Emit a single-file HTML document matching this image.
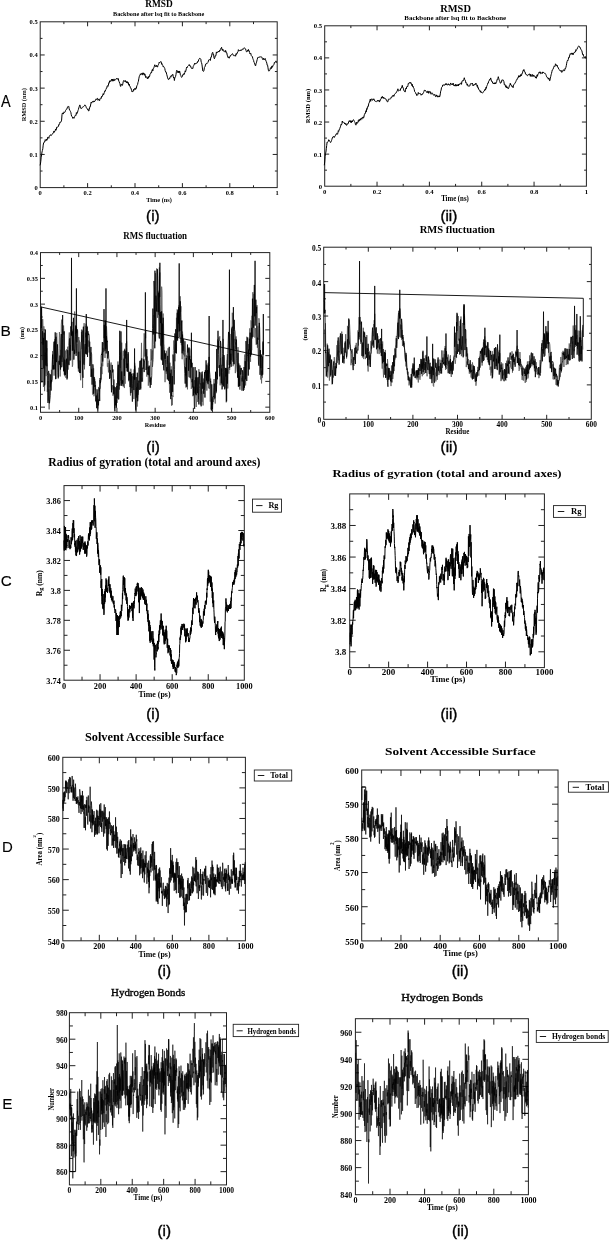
<!DOCTYPE html>
<html><head><meta charset="utf-8"><style>
html,body{margin:0;padding:0;background:#fff;}
body{width:609px;height:1240px;overflow:hidden;}
svg{display:block;filter:grayscale(100%) blur(0.35px);}
</style></head><body>
<svg width="609" height="1240" viewBox="0 0 609 1240">
<rect width="609" height="1240" fill="#fff"/>
<rect x="40.20" y="21.80" width="237.00" height="165.80" fill="none" stroke="#222" stroke-width="1.0"/>
<path d="M87.60 187.60v-4.5M87.60 21.80v4.5M135.00 187.60v-4.5M135.00 21.80v4.5M182.40 187.60v-4.5M182.40 21.80v4.5M229.80 187.60v-4.5M229.80 21.80v4.5M63.90 187.60v-2.3M63.90 21.80v2.3M111.30 187.60v-2.3M111.30 21.80v2.3M158.70 187.60v-2.3M158.70 21.80v2.3M206.10 187.60v-2.3M206.10 21.80v2.3M253.50 187.60v-2.3M253.50 21.80v2.3M40.20 154.44h4.5M277.20 154.44h-4.5M40.20 121.28h4.5M277.20 121.28h-4.5M40.20 88.12h4.5M277.20 88.12h-4.5M40.20 54.96h4.5M277.20 54.96h-4.5M40.20 171.02h2.3M277.20 171.02h-2.3M40.20 137.86h2.3M277.20 137.86h-2.3M40.20 104.70h2.3M277.20 104.70h-2.3M40.20 71.54h2.3M277.20 71.54h-2.3M40.20 38.38h2.3M277.20 38.38h-2.3" stroke="#222" stroke-width="1.0" fill="none"/>
<text x="40.20" y="195.10" font-family='"Liberation Serif", serif' font-size="6.5" font-weight="bold" text-anchor="middle" fill="#000" >0</text>
<text x="87.60" y="195.10" font-family='"Liberation Serif", serif' font-size="6.5" font-weight="bold" text-anchor="middle" fill="#000" >0.2</text>
<text x="135.00" y="195.10" font-family='"Liberation Serif", serif' font-size="6.5" font-weight="bold" text-anchor="middle" fill="#000" >0.4</text>
<text x="182.40" y="195.10" font-family='"Liberation Serif", serif' font-size="6.5" font-weight="bold" text-anchor="middle" fill="#000" >0.6</text>
<text x="229.80" y="195.10" font-family='"Liberation Serif", serif' font-size="6.5" font-weight="bold" text-anchor="middle" fill="#000" >0.8</text>
<text x="277.20" y="195.10" font-family='"Liberation Serif", serif' font-size="6.5" font-weight="bold" text-anchor="middle" fill="#000" >1</text>
<text x="37.70" y="190.11" font-family='"Liberation Serif", serif' font-size="6.5" font-weight="bold" text-anchor="end" fill="#000" >0</text>
<text x="37.70" y="156.95" font-family='"Liberation Serif", serif' font-size="6.5" font-weight="bold" text-anchor="end" fill="#000" >0.1</text>
<text x="37.70" y="123.79" font-family='"Liberation Serif", serif' font-size="6.5" font-weight="bold" text-anchor="end" fill="#000" >0.2</text>
<text x="37.70" y="90.63" font-family='"Liberation Serif", serif' font-size="6.5" font-weight="bold" text-anchor="end" fill="#000" >0.3</text>
<text x="37.70" y="57.47" font-family='"Liberation Serif", serif' font-size="6.5" font-weight="bold" text-anchor="end" fill="#000" >0.4</text>
<text x="37.70" y="24.31" font-family='"Liberation Serif", serif' font-size="6.5" font-weight="bold" text-anchor="end" fill="#000" >0.5</text>
<text x="159.05" y="7.30" font-family='"Liberation Serif", serif' font-size="10.2" font-weight="bold" text-anchor="middle" fill="#000"  textLength="27.5" lengthAdjust="spacingAndGlyphs">RMSD</text>
<text x="158.60" y="15.80" font-family='"Liberation Serif", serif' font-size="6.2" font-weight="bold" text-anchor="middle" fill="#000" >Backbone after lsq fit to Backbone</text>
<text x="159.00" y="201.60" font-family='"Liberation Serif", serif' font-size="7.0" font-weight="bold" text-anchor="middle" fill="#000"  textLength="25.6" lengthAdjust="spacingAndGlyphs">Time (ns)</text>
<text x="0.00" y="0.00" font-family='"Liberation Serif", serif' font-size="6.3" font-weight="bold" text-anchor="middle" fill="#000" transform="translate(26.4,104.8) rotate(-90)">RMSD (nm)</text>
<text transform="translate(152.85,220.50) scale(1,0.95)" font-family='"Liberation Sans", sans-serif' font-size="15.2" text-anchor="middle" fill="#000" stroke="#000" stroke-width="0.4">(i)</text>
<text transform="translate(0.90,107.40) scale(1,1.1)" font-family='"Liberation Sans", sans-serif' font-size="14.5" text-anchor="start" fill="#000" stroke="#000" stroke-width="0.1">A</text>
<polyline points="40.00,165.32 40.40,164.21 40.80,161.19 41.20,157.15 41.60,154.91 42.00,151.98 42.40,150.46 42.80,148.79 43.20,145.13 43.60,142.97 44.00,142.91 44.40,141.54 44.80,141.93 45.20,139.71 45.60,140.37 46.00,140.63 46.40,139.05 46.80,140.37 47.20,139.86 47.60,137.37 48.00,136.96 48.40,137.80 48.80,138.35 49.20,136.61 49.60,135.82 50.00,135.91 50.40,134.77 50.80,135.03 51.20,135.35 51.60,135.29 52.00,134.46 52.40,133.85 52.80,133.23 53.20,133.20 53.60,132.20 54.00,130.95 54.40,132.31 54.80,131.04 55.20,130.64 55.60,128.95 56.00,130.28 56.40,129.36 56.80,126.99 57.20,126.90 57.60,127.23 58.00,126.61 58.40,126.43 58.80,124.47 59.20,124.73 59.60,123.63 60.00,122.03 60.40,122.11 60.80,122.22 61.20,121.53 61.60,120.11 62.00,114.71 62.40,113.01 62.80,113.14 63.20,114.09 63.60,112.80 64.00,111.85 64.40,112.38 64.80,112.37 65.20,111.77 65.60,110.36 66.00,109.82 66.40,109.29 66.80,109.25 67.20,107.94 67.60,106.94 68.00,106.48 68.40,105.98 68.80,106.63 69.20,108.82 69.60,110.11 70.00,110.40 70.40,111.34 70.80,112.24 71.20,114.31 71.60,116.26 72.00,116.55 72.40,116.80 72.80,118.36 73.20,117.36 73.60,117.63 74.00,118.29 74.40,116.99 74.80,116.30 75.20,115.37 75.60,115.32 76.00,115.58 76.40,112.57 76.80,113.72 77.20,112.98 77.60,112.00 78.00,110.52 78.40,109.54 78.80,107.71 79.20,106.67 79.60,105.21 80.00,104.89 80.40,107.99 80.80,108.41 81.20,108.27 81.60,108.54 82.00,108.04 82.40,107.28 82.80,106.80 83.20,106.81 83.60,106.56 84.00,106.08 84.40,105.72 84.80,104.85 85.20,105.49 85.60,105.53 86.00,106.66 86.40,107.83 86.80,108.29 87.20,108.90 87.60,109.56 88.00,108.83 88.40,110.85 88.80,111.06 89.20,109.70 89.60,107.94 90.00,106.33 90.40,106.51 90.80,103.70 91.20,102.12 91.60,103.17 92.00,102.31 92.40,101.46 92.80,101.49 93.20,102.19 93.60,101.14 94.00,101.20 94.40,101.95 94.80,100.98 95.20,100.32 95.60,100.34 96.00,98.91 96.40,99.43 96.80,99.17 97.20,98.38 97.60,98.33 98.00,100.36 98.40,99.56 98.80,98.97 99.20,100.05 99.60,100.69 100.00,98.92 100.40,98.34 100.80,97.85 101.20,98.43 101.60,96.28 102.00,96.79 102.40,96.03 102.80,95.04 103.20,93.60 103.60,94.74 104.00,93.65 104.40,92.31 104.80,90.94 105.20,91.26 105.60,89.87 106.00,89.52 106.40,88.12 106.80,88.08 107.20,85.92 107.60,85.71 108.00,86.37 108.40,85.15 108.80,82.79 109.20,83.11 109.60,80.79 110.00,81.97 110.40,81.38 110.80,80.48 111.20,79.96 111.60,79.26 112.00,81.23 112.40,79.10 112.80,80.85 113.20,81.08 113.60,80.00 114.00,78.91 114.40,80.45 114.80,80.57 115.20,79.79 115.60,79.19 116.00,78.74 116.40,78.63 116.80,78.29 117.20,79.42 117.60,78.84 118.00,78.27 118.40,78.88 118.80,81.32 119.20,81.54 119.60,83.12 120.00,83.81 120.40,86.22 120.80,86.45 121.20,84.18 121.60,84.47 122.00,84.62 122.40,85.42 122.80,83.93 123.20,81.86 123.60,80.56 124.00,80.67 124.40,81.01 124.80,81.50 125.20,80.36 125.60,81.92 126.00,81.72 126.40,81.50 126.80,82.97 127.20,81.50 127.60,83.21 128.00,82.20 128.40,82.94 128.80,85.25 129.20,84.11 129.60,85.96 130.00,86.11 130.40,87.76 130.80,87.87 131.20,89.05 131.60,90.19 132.00,91.76 132.40,90.97 132.80,91.65 133.20,91.33 133.60,89.36 134.00,90.20 134.40,88.85 134.80,88.29 135.20,87.98 135.60,89.48 136.00,88.89 136.40,88.19 136.80,85.82 137.20,85.28 137.60,84.48 138.00,82.31 138.40,81.33 138.80,78.82 139.20,76.80 139.60,75.56 140.00,75.38 140.40,73.79 140.80,74.74 141.20,73.70 141.60,73.35 142.00,74.65 142.40,74.79 142.80,72.83 143.20,74.41 143.60,73.02 144.00,73.08 144.40,75.26 144.80,73.90 145.20,75.04 145.60,77.50 146.00,76.81 146.40,76.74 146.80,77.54 147.20,78.38 147.60,78.99 148.00,76.85 148.40,78.19 148.80,76.31 149.20,77.13 149.60,76.38 150.00,74.31 150.40,73.61 150.80,73.54 151.20,72.04 151.60,72.56 152.00,70.30 152.40,69.43 152.80,70.96 153.20,68.51 153.60,68.43 154.00,67.28 154.40,66.15 154.80,64.75 155.20,65.99 155.60,66.53 156.00,66.93 156.40,65.27 156.80,65.92 157.20,66.98 157.60,67.03 158.00,65.16 158.40,64.69 158.80,63.80 159.20,62.20 159.60,62.80 160.00,62.17 160.40,61.94 160.80,61.47 161.20,61.87 161.60,64.26 162.00,63.67 162.40,64.86 162.80,65.54 163.20,66.96 163.60,66.42 164.00,67.00 164.40,67.83 164.80,68.58 165.20,70.64 165.60,71.87 166.00,71.70 166.40,73.01 166.80,74.76 167.20,76.08 167.60,77.84 168.00,78.88 168.40,79.59 168.80,79.50 169.20,78.46 169.60,78.98 170.00,77.20 170.40,76.58 170.80,77.22 171.20,75.70 171.60,76.20 172.00,74.78 172.40,74.97 172.80,74.34 173.20,76.24 173.60,78.01 174.00,77.35 174.40,80.51 174.80,77.69 175.20,77.50 175.60,76.36 176.00,74.33 176.40,71.49 176.80,70.22 177.20,71.33 177.60,72.44 178.00,71.07 178.40,72.65 178.80,70.97 179.20,72.95 179.60,70.98 180.00,72.55 180.40,74.86 180.80,75.51 181.20,76.66 181.60,77.39 182.00,77.03 182.40,76.42 182.80,74.71 183.20,74.85 183.60,73.71 184.00,74.57 184.40,73.98 184.80,72.51 185.20,70.81 185.60,71.73 186.00,70.12 186.40,68.26 186.80,67.00 187.20,67.54 187.60,66.38 188.00,66.03 188.40,65.69 188.80,65.29 189.20,64.52 189.60,65.81 190.00,65.34 190.40,66.64 190.80,66.36 191.20,68.01 191.60,68.43 192.00,68.86 192.40,68.21 192.80,68.60 193.20,66.60 193.60,65.63 194.00,65.17 194.40,63.96 194.80,63.11 195.20,64.06 195.60,63.69 196.00,63.75 196.40,62.94 196.80,63.23 197.20,63.04 197.60,61.55 198.00,61.86 198.40,61.02 198.80,59.44 199.20,58.92 199.60,58.30 200.00,58.16 200.40,58.73 200.80,59.24 201.20,62.18 201.60,62.79 202.00,64.90 202.40,68.01 202.80,70.95 203.20,71.28 203.60,71.37 204.00,70.28 204.40,67.53 204.80,67.08 205.20,66.08 205.60,64.20 206.00,64.46 206.40,64.01 206.80,63.14 207.20,63.24 207.60,62.81 208.00,62.43 208.40,60.97 208.80,59.82 209.20,59.80 209.60,59.52 210.00,60.17 210.40,60.42 210.80,57.28 211.20,57.34 211.60,55.98 212.00,53.64 212.40,52.60 212.80,52.31 213.20,54.89 213.60,54.45 214.00,57.93 214.40,58.73 214.80,57.74 215.20,55.71 215.60,56.10 216.00,55.05 216.40,51.91 216.80,52.75 217.20,52.69 217.60,52.03 218.00,51.91 218.40,51.08 218.80,52.01 219.20,51.91 219.60,50.27 220.00,50.87 220.40,49.50 220.80,48.38 221.20,48.28 221.60,47.32 222.00,49.58 222.40,50.37 222.80,49.02 223.20,50.84 223.60,51.05 224.00,50.68 224.40,51.11 224.80,51.00 225.20,52.20 225.60,50.41 226.00,51.31 226.40,52.83 226.80,52.74 227.20,55.11 227.60,55.98 228.00,57.44 228.40,56.85 228.80,57.95 229.20,58.25 229.60,56.87 230.00,56.88 230.40,55.34 230.80,55.65 231.20,55.17 231.60,54.48 232.00,54.14 232.40,53.60 232.80,53.96 233.20,55.33 233.60,55.62 234.00,55.64 234.40,55.68 234.80,55.94 235.20,55.36 235.60,56.24 236.00,53.78 236.40,54.49 236.80,53.21 237.20,53.42 237.60,52.13 238.00,51.84 238.40,49.67 238.80,50.59 239.20,50.82 239.60,50.24 240.00,50.75 240.40,50.45 240.80,50.92 241.20,49.70 241.60,50.31 242.00,49.88 242.40,49.08 242.80,48.85 243.20,49.32 243.60,48.63 244.00,47.72 244.40,47.96 244.80,48.16 245.20,48.58 245.60,48.94 246.00,50.44 246.40,51.74 246.80,52.02 247.20,51.49 247.60,50.33 248.00,51.07 248.40,49.41 248.80,51.10 249.20,50.88 249.60,52.49 250.00,53.87 250.40,53.03 250.80,53.51 251.20,55.39 251.60,56.01 252.00,56.53 252.40,56.62 252.80,58.48 253.20,59.50 253.60,60.39 254.00,62.42 254.40,62.69 254.80,63.99 255.20,65.32 255.60,65.90 256.00,63.76 256.40,62.85 256.80,61.08 257.20,59.58 257.60,58.01 258.00,57.16 258.40,57.37 258.80,57.06 259.20,57.47 259.60,56.78 260.00,56.61 260.40,56.68 260.80,57.23 261.20,57.18 261.60,57.01 262.00,57.25 262.40,58.75 262.80,59.60 263.20,58.95 263.60,58.16 264.00,59.94 264.40,59.25 264.80,59.35 265.20,58.49 265.60,59.75 266.00,61.12 266.40,61.80 266.80,63.10 267.20,65.28 267.60,65.21 268.00,67.84 268.40,70.35 268.80,71.19 269.20,70.42 269.60,70.52 270.00,69.73 270.40,68.19 270.80,67.59 271.20,68.72 271.60,66.82 272.00,65.93 272.40,67.32 272.80,66.17 273.20,65.21 273.60,64.79 274.00,64.58 274.40,62.46 274.80,62.87 275.20,62.26 275.60,61.74 276.00,60.87 276.40,62.51 276.80,62.43" fill="none" stroke="#000" stroke-width="1.0" stroke-linejoin="round" opacity="1.0"/>
<rect x="324.70" y="25.80" width="261.70" height="160.40" fill="none" stroke="#222" stroke-width="1.0"/>
<path d="M377.04 186.20v-4.5M377.04 25.80v4.5M429.38 186.20v-4.5M429.38 25.80v4.5M481.72 186.20v-4.5M481.72 25.80v4.5M534.06 186.20v-4.5M534.06 25.80v4.5M350.87 186.20v-2.3M350.87 25.80v2.3M403.21 186.20v-2.3M403.21 25.80v2.3M455.55 186.20v-2.3M455.55 25.80v2.3M507.89 186.20v-2.3M507.89 25.80v2.3M560.23 186.20v-2.3M560.23 25.80v2.3M324.70 154.12h4.5M586.40 154.12h-4.5M324.70 122.04h4.5M586.40 122.04h-4.5M324.70 89.96h4.5M586.40 89.96h-4.5M324.70 57.88h4.5M586.40 57.88h-4.5M324.70 170.16h2.3M586.40 170.16h-2.3M324.70 138.08h2.3M586.40 138.08h-2.3M324.70 106.00h2.3M586.40 106.00h-2.3M324.70 73.92h2.3M586.40 73.92h-2.3M324.70 41.84h2.3M586.40 41.84h-2.3" stroke="#222" stroke-width="1.0" fill="none"/>
<text x="324.70" y="193.70" font-family='"Liberation Serif", serif' font-size="6.7" font-weight="bold" text-anchor="middle" fill="#000" >0</text>
<text x="377.04" y="193.70" font-family='"Liberation Serif", serif' font-size="6.7" font-weight="bold" text-anchor="middle" fill="#000" >0.2</text>
<text x="429.38" y="193.70" font-family='"Liberation Serif", serif' font-size="6.7" font-weight="bold" text-anchor="middle" fill="#000" >0.4</text>
<text x="481.72" y="193.70" font-family='"Liberation Serif", serif' font-size="6.7" font-weight="bold" text-anchor="middle" fill="#000" >0.6</text>
<text x="534.06" y="193.70" font-family='"Liberation Serif", serif' font-size="6.7" font-weight="bold" text-anchor="middle" fill="#000" >0.8</text>
<text x="586.40" y="193.70" font-family='"Liberation Serif", serif' font-size="6.7" font-weight="bold" text-anchor="middle" fill="#000" >1</text>
<text x="322.20" y="188.78" font-family='"Liberation Serif", serif' font-size="6.7" font-weight="bold" text-anchor="end" fill="#000" >0</text>
<text x="322.20" y="156.70" font-family='"Liberation Serif", serif' font-size="6.7" font-weight="bold" text-anchor="end" fill="#000" >0.1</text>
<text x="322.20" y="124.62" font-family='"Liberation Serif", serif' font-size="6.7" font-weight="bold" text-anchor="end" fill="#000" >0.2</text>
<text x="322.20" y="92.54" font-family='"Liberation Serif", serif' font-size="6.7" font-weight="bold" text-anchor="end" fill="#000" >0.3</text>
<text x="322.20" y="60.46" font-family='"Liberation Serif", serif' font-size="6.7" font-weight="bold" text-anchor="end" fill="#000" >0.4</text>
<text x="322.20" y="28.38" font-family='"Liberation Serif", serif' font-size="6.7" font-weight="bold" text-anchor="end" fill="#000" >0.5</text>
<text x="455.60" y="11.60" font-family='"Liberation Serif", serif' font-size="9.6" font-weight="bold" text-anchor="middle" fill="#000"  textLength="30.6" lengthAdjust="spacingAndGlyphs">RMSD</text>
<text x="455.20" y="19.60" font-family='"Liberation Serif", serif' font-size="6.9" font-weight="bold" text-anchor="middle" fill="#000"  textLength="101.7" lengthAdjust="spacingAndGlyphs">Backbone after lsq fit to Backbone</text>
<text x="455.00" y="200.60" font-family='"Liberation Serif", serif' font-size="7.2" font-weight="bold" text-anchor="middle" fill="#000"  textLength="27.6" lengthAdjust="spacingAndGlyphs">Time (ns)</text>
<text x="0.00" y="0.00" font-family='"Liberation Serif", serif' font-size="6.6" font-weight="bold" text-anchor="middle" fill="#000" transform="translate(309.5,106) rotate(-90)">RMSD (nm)</text>
<text transform="translate(448.85,220.50) scale(1,0.95)" font-family='"Liberation Sans", sans-serif' font-size="15.2" text-anchor="middle" fill="#000" stroke="#000" stroke-width="0.4">(ii)</text>
<polyline points="324.30,165.29 324.70,162.00 325.10,156.59 325.50,153.42 325.90,152.10 326.30,148.74 326.70,145.45 327.10,142.11 327.50,142.32 327.90,141.81 328.30,141.23 328.70,139.71 329.10,140.39 329.50,140.51 329.90,141.51 330.30,142.37 330.70,142.47 331.10,141.71 331.50,140.63 331.90,139.37 332.30,137.98 332.70,137.12 333.10,137.33 333.50,136.47 333.90,136.43 334.30,137.46 334.70,136.39 335.10,136.28 335.50,135.31 335.90,134.31 336.30,134.45 336.70,133.40 337.10,133.71 337.50,134.29 337.90,132.92 338.30,130.70 338.70,131.37 339.10,130.10 339.50,128.92 339.90,128.29 340.30,126.98 340.70,126.14 341.10,124.19 341.50,124.79 341.90,123.84 342.30,121.01 342.70,122.39 343.10,122.54 343.50,122.18 343.90,122.59 344.30,122.73 344.70,124.02 345.10,123.29 345.50,124.38 345.90,123.52 346.30,125.08 346.70,125.41 347.10,124.21 347.50,123.88 347.90,124.13 348.30,123.07 348.70,121.91 349.10,120.68 349.50,120.83 349.90,121.80 350.30,120.59 350.70,122.44 351.10,120.97 351.50,122.59 351.90,120.74 352.30,121.90 352.70,120.89 353.10,120.01 353.50,119.64 353.90,120.34 354.30,121.34 354.70,121.84 355.10,122.74 355.50,124.63 355.90,125.16 356.30,123.92 356.70,122.12 357.10,123.43 357.50,122.71 357.90,122.66 358.30,120.46 358.70,121.47 359.10,119.51 359.50,120.61 359.90,119.38 360.30,118.96 360.70,120.20 361.10,118.03 361.50,118.71 361.90,119.19 362.30,117.40 362.70,116.99 363.10,118.27 363.50,116.84 363.90,117.22 364.30,114.59 364.70,114.39 365.10,112.94 365.50,113.15 365.90,110.74 366.30,111.84 366.70,108.62 367.10,109.32 367.50,106.63 367.90,106.20 368.30,106.55 368.70,103.81 369.10,102.54 369.50,102.43 369.90,100.36 370.30,99.14 370.70,101.34 371.10,99.24 371.50,98.89 371.90,99.55 372.30,100.12 372.70,100.34 373.10,98.80 373.50,99.47 373.90,98.87 374.30,100.00 374.70,100.89 375.10,100.96 375.50,101.47 375.90,101.25 376.30,101.64 376.70,101.33 377.10,100.82 377.50,100.27 377.90,101.36 378.30,100.58 378.70,100.12 379.10,100.99 379.50,102.06 379.90,100.11 380.30,100.43 380.70,99.18 381.10,98.69 381.50,97.02 381.90,98.19 382.30,96.33 382.70,97.58 383.10,97.55 383.50,97.01 383.90,98.72 384.30,98.14 384.70,98.15 385.10,98.30 385.50,98.82 385.90,98.88 386.30,100.38 386.70,100.29 387.10,101.64 387.50,101.74 387.90,101.79 388.30,99.56 388.70,99.67 389.10,98.80 389.50,99.22 389.90,98.90 390.30,99.03 390.70,98.55 391.10,97.20 391.50,97.34 391.90,97.33 392.30,95.82 392.70,95.64 393.10,96.28 393.50,95.26 393.90,96.31 394.30,94.74 394.70,93.98 395.10,93.76 395.50,93.46 395.90,92.73 396.30,92.68 396.70,91.76 397.10,90.61 397.50,90.62 397.90,88.81 398.30,90.67 398.70,90.99 399.10,90.62 399.50,90.11 399.90,90.48 400.30,90.59 400.70,88.50 401.10,88.56 401.50,88.00 401.90,86.36 402.30,85.33 402.70,87.56 403.10,87.48 403.50,88.82 403.90,90.76 404.30,90.99 404.70,91.19 405.10,92.08 405.50,89.83 405.90,88.20 406.30,89.01 406.70,86.83 407.10,86.53 407.50,86.99 407.90,85.77 408.30,83.38 408.70,83.61 409.10,82.69 409.50,82.81 409.90,82.33 410.30,83.44 410.70,82.39 411.10,83.09 411.50,83.49 411.90,85.63 412.30,84.35 412.70,86.76 413.10,86.19 413.50,87.88 413.90,88.35 414.30,89.76 414.70,91.69 415.10,92.07 415.50,92.65 415.90,93.88 416.30,93.90 416.70,95.49 417.10,94.73 417.50,95.23 417.90,94.33 418.30,92.47 418.70,93.73 419.10,93.76 419.50,93.53 419.90,93.37 420.30,93.42 420.70,94.04 421.10,95.24 421.50,94.35 421.90,94.77 422.30,93.87 422.70,94.23 423.10,93.09 423.50,92.62 423.90,91.60 424.30,90.21 424.70,90.18 425.10,90.93 425.50,90.51 425.90,91.04 426.30,91.77 426.70,92.48 427.10,91.81 427.50,92.50 427.90,90.91 428.30,91.67 428.70,93.35 429.10,91.45 429.50,92.24 429.90,91.54 430.30,91.73 430.70,93.81 431.10,94.27 431.50,93.71 431.90,92.72 432.30,93.38 432.70,93.49 433.10,94.80 433.50,95.08 433.90,94.76 434.30,95.19 434.70,94.35 435.10,95.52 435.50,96.64 435.90,96.31 436.30,94.87 436.70,96.02 437.10,96.64 437.50,95.68 437.90,97.18 438.30,96.05 438.70,96.54 439.10,95.73 439.50,97.06 439.90,96.06 440.30,93.87 440.70,91.15 441.10,90.18 441.50,87.50 441.90,87.17 442.30,86.88 442.70,84.93 443.10,85.45 443.50,85.11 443.90,84.65 444.30,85.12 444.70,85.39 445.10,84.56 445.50,83.73 445.90,84.99 446.30,83.56 446.70,84.64 447.10,84.51 447.50,84.84 447.90,85.14 448.30,83.72 448.70,84.75 449.10,84.23 449.50,84.78 449.90,85.44 450.30,84.54 450.70,82.96 451.10,83.96 451.50,84.47 451.90,84.80 452.30,84.16 452.70,84.75 453.10,83.02 453.50,85.43 453.90,85.10 454.30,85.00 454.70,85.90 455.10,86.04 455.50,84.35 455.90,86.15 456.30,86.02 456.70,84.64 457.10,85.93 457.50,85.54 457.90,84.57 458.30,86.03 458.70,84.17 459.10,85.05 459.50,84.37 459.90,83.67 460.30,84.16 460.70,83.67 461.10,82.78 461.50,84.35 461.90,81.67 462.30,80.68 462.70,81.03 463.10,81.06 463.50,79.81 463.90,79.23 464.30,77.76 464.70,79.53 465.10,80.03 465.50,81.17 465.90,83.05 466.30,82.74 466.70,83.22 467.10,85.19 467.50,84.16 467.90,85.89 468.30,86.33 468.70,85.77 469.10,86.10 469.50,86.06 469.90,85.92 470.30,83.85 470.70,83.60 471.10,83.81 471.50,83.69 471.90,83.43 472.30,83.03 472.70,84.64 473.10,85.91 473.50,84.76 473.90,85.30 474.30,84.54 474.70,84.30 475.10,84.95 475.50,83.21 475.90,83.65 476.30,83.52 476.70,84.58 477.10,86.41 477.50,85.33 477.90,88.05 478.30,87.73 478.70,89.16 479.10,90.12 479.50,90.39 479.90,90.37 480.30,92.05 480.70,90.86 481.10,92.77 481.50,92.26 481.90,92.48 482.30,93.15 482.70,92.91 483.10,92.40 483.50,91.52 483.90,91.09 484.30,90.96 484.70,89.74 485.10,89.18 485.50,90.14 485.90,87.44 486.30,88.30 486.70,86.36 487.10,85.44 487.50,84.44 487.90,82.97 488.30,83.00 488.70,81.28 489.10,80.92 489.50,79.55 489.90,79.97 490.30,79.02 490.70,77.92 491.10,79.53 491.50,81.35 491.90,81.03 492.30,81.61 492.70,83.07 493.10,82.88 493.50,83.98 493.90,83.18 494.30,83.06 494.70,84.04 495.10,82.62 495.50,83.93 495.90,83.44 496.30,81.95 496.70,81.74 497.10,79.37 497.50,79.44 497.90,78.34 498.30,76.69 498.70,78.27 499.10,80.01 499.50,80.65 499.90,81.79 500.30,83.20 500.70,83.21 501.10,82.20 501.50,82.17 501.90,79.95 502.30,80.17 502.70,79.71 503.10,80.00 503.50,81.08 503.90,81.57 504.30,84.47 504.70,84.04 505.10,85.11 505.50,86.65 505.90,85.49 506.30,87.89 506.70,86.43 507.10,86.73 507.50,88.04 507.90,88.27 508.30,88.82 508.70,87.95 509.10,86.88 509.50,85.31 509.90,84.78 510.30,83.26 510.70,85.02 511.10,84.64 511.50,85.08 511.90,86.62 512.30,86.14 512.70,86.90 513.10,87.71 513.50,85.06 513.90,84.52 514.30,84.02 514.70,83.48 515.10,83.23 515.50,82.09 515.90,81.48 516.30,80.42 516.70,79.58 517.10,79.64 517.50,78.16 517.90,77.42 518.30,77.68 518.70,75.71 519.10,75.65 519.50,77.08 519.90,75.80 520.30,76.37 520.70,74.55 521.10,75.22 521.50,75.73 521.90,73.49 522.30,73.51 522.70,72.11 523.10,70.57 523.50,71.00 523.90,69.49 524.30,70.57 524.70,71.81 525.10,71.98 525.50,74.12 525.90,74.43 526.30,74.49 526.70,74.46 527.10,75.61 527.50,75.70 527.90,75.43 528.30,74.59 528.70,74.56 529.10,74.92 529.50,73.85 529.90,74.07 530.30,76.27 530.70,74.26 531.10,76.28 531.50,75.73 531.90,76.37 532.30,74.43 532.70,75.10 533.10,76.56 533.50,74.95 533.90,75.46 534.30,76.33 534.70,76.18 535.10,76.39 535.50,77.93 535.90,76.82 536.30,78.31 536.70,76.92 537.10,74.86 537.50,76.28 537.90,74.09 538.30,74.05 538.70,73.61 539.10,71.99 539.50,72.71 539.90,71.64 540.30,71.98 540.70,73.70 541.10,73.47 541.50,72.75 541.90,73.14 542.30,73.60 542.70,71.90 543.10,73.01 543.50,72.42 543.90,72.65 544.30,72.89 544.70,73.41 545.10,73.29 545.50,73.95 545.90,74.61 546.30,75.74 546.70,76.86 547.10,77.52 547.50,77.62 547.90,77.67 548.30,79.20 548.70,77.94 549.10,78.35 549.50,80.61 549.90,80.71 550.30,78.00 550.70,76.69 551.10,74.79 551.50,73.40 551.90,71.69 552.30,69.91 552.70,69.69 553.10,69.08 553.50,67.83 553.90,66.97 554.30,65.87 554.70,66.38 555.10,66.26 555.50,63.80 555.90,64.29 556.30,65.08 556.70,65.78 557.10,65.07 557.50,67.12 557.90,67.08 558.30,67.67 558.70,69.01 559.10,69.58 559.50,69.94 559.90,70.64 560.30,70.95 560.70,70.82 561.10,70.21 561.50,72.22 561.90,72.19 562.30,72.08 562.70,71.36 563.10,69.87 563.50,70.11 563.90,69.75 564.30,70.87 564.70,70.51 565.10,68.22 565.50,68.64 565.90,67.27 566.30,65.65 566.70,63.18 567.10,61.45 567.50,60.23 567.90,60.69 568.30,59.37 568.70,57.34 569.10,57.82 569.50,56.00 569.90,54.61 570.30,53.60 570.70,54.33 571.10,53.69 571.50,54.18 571.90,52.89 572.30,54.29 572.70,53.25 573.10,54.79 573.50,53.11 573.90,52.95 574.30,52.84 574.70,51.89 575.10,51.61 575.50,51.97 575.90,49.63 576.30,50.39 576.70,49.60 577.10,49.21 577.50,47.80 577.90,47.20 578.30,46.34 578.70,46.04 579.10,46.08 579.50,46.51 579.90,47.76 580.30,47.66 580.70,48.90 581.10,49.83 581.50,50.21 581.90,50.89 582.30,52.95 582.70,54.58 583.10,54.06 583.50,56.02 583.90,56.61 584.30,57.45 584.70,57.26 585.10,56.66 585.50,56.72 585.90,58.53" fill="none" stroke="#000" stroke-width="1.0" stroke-linejoin="round" opacity="1.0"/>
<rect x="40.50" y="252.60" width="229.30" height="159.70" fill="none" stroke="#222" stroke-width="1.0"/>
<path d="M78.72 412.30v-4.5M78.72 252.60v4.5M116.93 412.30v-4.5M116.93 252.60v4.5M155.15 412.30v-4.5M155.15 252.60v4.5M193.37 412.30v-4.5M193.37 252.60v4.5M231.58 412.30v-4.5M231.58 252.60v4.5M59.61 412.30v-2.3M59.61 252.60v2.3M97.83 412.30v-2.3M97.83 252.60v2.3M136.04 412.30v-2.3M136.04 252.60v2.3M174.26 412.30v-2.3M174.26 252.60v2.3M212.48 412.30v-2.3M212.48 252.60v2.3M250.69 412.30v-2.3M250.69 252.60v2.3M40.50 407.15h4.5M269.80 407.15h-4.5M40.50 381.39h4.5M269.80 381.39h-4.5M40.50 355.63h4.5M269.80 355.63h-4.5M40.50 329.87h4.5M269.80 329.87h-4.5M40.50 304.12h4.5M269.80 304.12h-4.5M40.50 278.36h4.5M269.80 278.36h-4.5M40.50 394.27h2.3M269.80 394.27h-2.3M40.50 368.51h2.3M269.80 368.51h-2.3M40.50 342.75h2.3M269.80 342.75h-2.3M40.50 317.00h2.3M269.80 317.00h-2.3M40.50 291.24h2.3M269.80 291.24h-2.3M40.50 265.48h2.3M269.80 265.48h-2.3" stroke="#222" stroke-width="1.0" fill="none"/>
<text x="40.50" y="419.80" font-family='"Liberation Serif", serif' font-size="6.4" font-weight="bold" text-anchor="middle" fill="#000" >0</text>
<text x="78.72" y="419.80" font-family='"Liberation Serif", serif' font-size="6.4" font-weight="bold" text-anchor="middle" fill="#000" >100</text>
<text x="116.93" y="419.80" font-family='"Liberation Serif", serif' font-size="6.4" font-weight="bold" text-anchor="middle" fill="#000" >200</text>
<text x="155.15" y="419.80" font-family='"Liberation Serif", serif' font-size="6.4" font-weight="bold" text-anchor="middle" fill="#000" >300</text>
<text x="193.37" y="419.80" font-family='"Liberation Serif", serif' font-size="6.4" font-weight="bold" text-anchor="middle" fill="#000" >400</text>
<text x="231.58" y="419.80" font-family='"Liberation Serif", serif' font-size="6.4" font-weight="bold" text-anchor="middle" fill="#000" >500</text>
<text x="269.80" y="419.80" font-family='"Liberation Serif", serif' font-size="6.4" font-weight="bold" text-anchor="middle" fill="#000" >600</text>
<text x="38.00" y="409.62" font-family='"Liberation Serif", serif' font-size="6.4" font-weight="bold" text-anchor="end" fill="#000" >0.1</text>
<text x="38.00" y="383.87" font-family='"Liberation Serif", serif' font-size="6.4" font-weight="bold" text-anchor="end" fill="#000" >0.15</text>
<text x="38.00" y="358.11" font-family='"Liberation Serif", serif' font-size="6.4" font-weight="bold" text-anchor="end" fill="#000" >0.2</text>
<text x="38.00" y="332.35" font-family='"Liberation Serif", serif' font-size="6.4" font-weight="bold" text-anchor="end" fill="#000" >0.25</text>
<text x="38.00" y="306.59" font-family='"Liberation Serif", serif' font-size="6.4" font-weight="bold" text-anchor="end" fill="#000" >0.3</text>
<text x="38.00" y="280.83" font-family='"Liberation Serif", serif' font-size="6.4" font-weight="bold" text-anchor="end" fill="#000" >0.35</text>
<text x="38.00" y="255.08" font-family='"Liberation Serif", serif' font-size="6.4" font-weight="bold" text-anchor="end" fill="#000" >0.4</text>
<text x="155.20" y="238.90" font-family='"Liberation Serif", serif' font-size="9.5" font-weight="bold" text-anchor="middle" fill="#000"  textLength="63.8" lengthAdjust="spacingAndGlyphs">RMS fluctuation</text>
<text x="155.25" y="426.70" font-family='"Liberation Serif", serif' font-size="7.0" font-weight="bold" text-anchor="middle" fill="#000"  textLength="20.9" lengthAdjust="spacingAndGlyphs">Residue</text>
<text x="0.00" y="0.00" font-family='"Liberation Serif", serif' font-size="6.0" font-weight="bold" text-anchor="middle" fill="#000" transform="translate(23.5,333.1) rotate(-90)">(nm)</text>
<text transform="translate(153.10,451.60) scale(1,0.95)" font-family='"Liberation Sans", sans-serif' font-size="15.2" text-anchor="middle" fill="#000" stroke="#000" stroke-width="0.4">(i)</text>
<text transform="translate(0.40,336.00) scale(1,0.95)" font-family='"Liberation Sans", sans-serif' font-size="15.5" text-anchor="start" fill="#000" stroke="#000" stroke-width="0.1">B</text>
<polyline points="41.55,305.72 41.93,351.11 42.31,360.08 42.69,319.10 43.07,329.19 43.45,386.99 43.83,326.27 44.21,331.87 44.59,391.15 44.97,369.12 45.35,352.56 45.73,363.62 46.11,376.13 46.49,353.41 46.87,348.21 47.25,391.88 47.63,387.34 48.01,381.01 48.39,400.74 48.77,388.97 49.15,409.40 49.53,373.56 49.91,387.27 50.29,384.28 50.67,380.64 51.05,383.27 51.43,369.80 51.81,380.36 52.19,378.39 52.57,351.03 52.95,358.93 53.33,351.03 53.71,341.75 54.09,375.62 54.47,354.22 54.85,339.11 55.23,365.57 55.61,338.70 55.99,378.88 56.37,341.37 56.75,332.89 57.13,343.32 57.51,352.06 57.89,358.26 58.27,378.61 58.65,367.14 59.03,348.60 59.41,332.02 59.79,337.87 60.17,376.47 60.55,349.92 60.93,359.06 61.31,324.37 61.69,319.60 62.07,361.96 62.45,345.08 62.83,329.23 63.21,333.94 63.59,325.50 63.97,334.62 64.35,331.55 64.73,376.23 65.11,361.85 65.49,350.57 65.87,377.85 66.25,354.60 66.63,349.36 67.01,368.95 67.39,378.10 67.77,346.70 68.15,369.62 68.53,345.36 68.91,338.56 69.29,332.45 69.67,339.56 70.05,355.21 70.43,345.00 70.81,360.16 71.19,329.96 71.57,333.29 71.95,329.60 72.33,366.74 72.71,364.89 73.09,331.64 73.47,336.34 73.85,328.63 74.23,353.72 74.61,311.54 74.99,315.00 75.37,333.83 75.75,326.89 76.13,353.15 76.51,348.63 76.89,343.54 77.27,350.96 77.65,355.03 78.03,361.84 78.41,371.59 78.79,337.02 79.17,361.26 79.55,340.53 79.93,356.47 80.31,374.47 80.69,380.28 81.07,373.52 81.45,331.91 81.83,349.07 82.21,334.84 82.59,387.95 82.97,331.15 83.35,336.39 83.73,342.13 84.11,323.15 84.49,369.34 84.87,354.02 85.25,325.93 85.63,344.27 86.01,323.67 86.39,348.84 86.77,332.49 87.15,325.88 87.53,329.89 87.91,344.54 88.29,346.69 88.67,340.51 89.05,352.49 89.43,346.30 89.81,341.73 90.19,350.09 90.57,355.90 90.95,376.95 91.33,352.51 91.71,354.47 92.09,374.86 92.47,393.19 92.85,394.68 93.23,389.95 93.61,368.37 93.99,396.26 94.37,393.45 94.75,378.75 95.13,390.17 95.51,381.40 95.89,401.76 96.27,401.14 96.65,404.53 97.03,404.91 97.41,393.68 97.79,408.53 98.17,394.12 98.55,386.94 98.93,391.01 99.31,391.18 99.69,380.15 100.07,388.75 100.45,385.55 100.83,366.93 101.21,379.53 101.59,363.47 101.97,374.16 102.35,351.84 102.73,366.29 103.11,347.79 103.49,350.02 103.87,351.99 104.25,343.06 104.63,329.14 105.01,357.95 105.39,321.59 105.77,334.57 106.15,347.58 106.53,326.37 106.91,334.88 107.29,366.39 107.67,366.84 108.05,363.06 108.43,372.42 108.81,369.50 109.19,360.73 109.57,370.94 109.95,364.57 110.33,378.24 110.71,368.86 111.09,362.49 111.47,389.74 111.85,385.18 112.23,389.65 112.61,385.27 112.99,395.80 113.37,386.61 113.75,393.26 114.13,379.57 114.51,398.11 114.89,408.20 115.27,403.84 115.65,405.63 116.03,395.71 116.41,405.61 116.79,383.10 117.17,402.94 117.55,380.43 117.93,361.47 118.31,384.24 118.69,370.39 119.07,365.25 119.45,389.56 119.83,340.93 120.21,368.10 120.59,352.50 120.97,359.32 121.35,359.90 121.73,342.65 122.11,365.10 122.49,384.08 122.87,354.28 123.25,350.76 123.63,356.63 124.01,370.53 124.39,388.05 124.77,348.72 125.15,383.73 125.53,362.90 125.91,343.34 126.29,352.79 126.67,341.36 127.05,364.97 127.43,360.88 127.81,354.06 128.19,356.00 128.57,381.23 128.95,380.22 129.33,371.65 129.71,373.39 130.09,386.17 130.47,395.53 130.85,368.78 131.23,373.34 131.61,381.71 131.99,388.15 132.37,376.72 132.75,376.18 133.13,379.57 133.51,384.39 133.89,399.04 134.27,392.93 134.65,362.81 135.03,365.73 135.41,387.23 135.79,407.71 136.17,409.79 136.55,387.16 136.93,406.72 137.31,406.38 137.69,383.27 138.07,394.96 138.45,377.90 138.83,367.74 139.21,382.36 139.59,360.98 139.97,381.16 140.35,385.11 140.73,387.94 141.11,363.03 141.49,342.88 141.87,381.59 142.25,377.85 142.63,381.38 143.01,358.51 143.39,361.20 143.77,343.98 144.15,333.31 144.53,337.71 144.91,356.59 145.29,337.15 145.67,355.92 146.05,352.56 146.43,355.23 146.81,376.66 147.19,356.46 147.57,368.76 147.95,360.82 148.33,385.67 148.71,373.71 149.09,370.26 149.47,366.25 149.85,382.26 150.23,377.05 150.61,361.33 150.99,348.94 151.37,357.42 151.75,360.28 152.13,350.36 152.51,366.91 152.89,362.73 153.27,359.55 153.65,344.72 154.03,315.04 154.41,317.12 154.79,305.56 155.17,304.11 155.55,273.26 155.93,333.89 156.31,286.79 156.69,268.40 157.07,300.92 157.45,317.78 157.83,295.07 158.21,290.77 158.59,314.61 158.97,278.36 159.35,267.46 159.73,315.91 160.11,313.88 160.49,345.44 160.87,312.00 161.25,346.44 161.63,286.67 162.01,292.21 162.39,342.27 162.77,319.03 163.15,313.52 163.53,323.41 163.91,343.93 164.29,346.56 164.67,363.05 165.05,382.17 165.43,362.40 165.81,359.93 166.19,373.76 166.57,350.77 166.95,363.87 167.33,360.13 167.71,361.42 168.09,348.22 168.47,368.64 168.85,372.67 169.23,379.99 169.61,392.70 169.99,362.67 170.37,382.72 170.75,374.73 171.13,366.29 171.51,405.58 171.89,398.17 172.27,405.16 172.65,395.27 173.03,397.04 173.41,350.39 173.79,340.49 174.17,346.49 174.55,353.02 174.93,361.29 175.31,345.14 175.69,343.73 176.07,350.18 176.45,317.81 176.83,339.16 177.21,309.31 177.59,313.78 177.97,331.70 178.35,328.38 178.73,313.13 179.11,305.05 179.49,331.48 179.87,304.02 180.25,296.29 180.63,311.88 181.01,306.31 181.39,345.19 181.77,320.22 182.15,359.26 182.53,331.57 182.91,339.22 183.29,354.57 183.67,346.31 184.05,351.57 184.43,341.42 184.81,356.58 185.19,341.28 185.57,352.57 185.95,387.55 186.33,355.69 186.71,355.31 187.09,377.54 187.47,389.35 187.85,355.96 188.23,359.14 188.61,375.06 188.99,377.17 189.37,366.95 189.75,348.40 190.13,351.10 190.51,379.07 190.89,378.88 191.27,388.86 191.65,385.92 192.03,372.98 192.41,362.97 192.79,396.20 193.17,390.03 193.55,386.81 193.93,392.86 194.31,381.05 194.69,380.24 195.07,392.57 195.45,388.71 195.83,398.19 196.21,406.99 196.59,401.01 196.97,379.42 197.35,377.79 197.73,401.93 198.11,380.49 198.49,398.84 198.87,369.14 199.25,385.67 199.63,388.65 200.01,401.56 200.39,404.60 200.77,372.60 201.15,393.10 201.53,393.70 201.91,374.46 202.29,401.76 202.67,391.28 203.05,405.48 203.43,378.56 203.81,388.47 204.19,379.76 204.57,389.81 204.95,387.14 205.33,381.94 205.71,372.86 206.09,378.20 206.47,371.17 206.85,390.61 207.23,371.51 207.61,371.72 207.99,362.90 208.37,362.60 208.75,388.36 209.13,364.52 209.51,388.75 209.89,383.78 210.27,401.71 210.65,378.64 211.03,409.40 211.41,405.16 211.79,399.01 212.17,404.00 212.55,404.88 212.93,396.96 213.31,402.04 213.69,387.66 214.07,378.99 214.45,399.35 214.83,390.90 215.21,403.52 215.59,372.40 215.97,390.08 216.35,393.16 216.73,384.09 217.11,383.71 217.49,339.53 217.87,339.82 218.25,342.95 218.63,349.26 219.01,337.44 219.39,341.01 219.77,336.29 220.15,385.32 220.53,357.97 220.91,374.77 221.29,364.81 221.67,381.08 222.05,384.73 222.43,356.92 222.81,366.03 223.19,338.88 223.57,356.08 223.95,356.76 224.33,366.57 224.71,371.96 225.09,388.27 225.47,375.59 225.85,375.83 226.23,402.36 226.61,361.10 226.99,359.15 227.37,354.05 227.75,388.47 228.13,369.32 228.51,367.35 228.89,373.68 229.27,332.88 229.65,369.95 230.03,333.99 230.41,347.92 230.79,355.59 231.17,360.15 231.55,329.37 231.93,339.72 232.31,312.75 232.69,324.45 233.07,366.21 233.45,362.38 233.83,345.76 234.21,357.63 234.59,364.14 234.97,338.89 235.35,373.11 235.73,349.24 236.11,336.40 236.49,358.43 236.87,364.31 237.25,371.40 237.63,372.14 238.01,347.12 238.39,374.56 238.77,386.42 239.15,378.53 239.53,389.47 239.91,375.76 240.29,385.79 240.67,368.14 241.05,389.74 241.43,377.84 241.81,390.74 242.19,376.17 242.57,385.30 242.95,390.34 243.33,384.68 243.71,380.00 244.09,389.91 244.47,357.45 244.85,354.45 245.23,369.34 245.61,385.45 245.99,371.44 246.37,349.67 246.75,336.76 247.13,354.82 247.51,355.98 247.89,354.84 248.27,361.59 248.65,344.10 249.03,369.93 249.41,339.51 249.79,328.35 250.17,337.03 250.55,361.82 250.93,320.42 251.31,321.44 251.69,350.32 252.07,315.75 252.45,338.36 252.83,292.21 253.21,336.83 253.59,299.00 253.97,293.97 254.35,323.06 254.73,337.44 255.11,337.67 255.49,328.15 255.87,338.99 256.25,344.90 256.63,323.81 257.01,305.09 257.39,347.78 257.77,326.55 258.15,325.76 258.53,339.76 258.91,318.26 259.29,321.40 259.67,337.65 260.05,357.26 260.43,367.42 260.81,379.51 261.19,375.17 261.57,383.40 261.95,370.76 262.33,377.77 262.71,368.70 263.09,342.63" fill="none" stroke="#555" stroke-width="0.8" stroke-linejoin="round" opacity="1.0"/>
<polyline points="41.55,319.63 41.35,328.42 41.55,307.14 41.75,328.42 41.93,382.43 42.31,331.24 42.69,331.85 43.07,344.69 43.45,337.89 43.83,368.51 44.21,332.79 44.59,385.46 44.97,383.92 45.35,329.51 45.73,365.50 46.11,340.38 46.49,353.40 46.87,366.28 46.67,362.12 46.87,340.64 47.07,362.12 47.25,371.58 47.63,375.51 48.01,402.95 48.39,371.03 48.77,371.08 49.15,394.03 49.53,403.25 49.91,399.45 50.29,395.40 50.67,374.40 51.05,390.61 51.43,380.10 51.81,381.55 52.19,364.90 52.57,354.57 52.95,369.45 53.33,365.09 53.71,369.39 54.09,345.94 54.47,341.48 54.85,369.25 55.23,332.35 55.61,379.16 55.99,336.78 56.37,362.14 56.75,353.91 57.13,350.38 57.51,344.39 57.89,372.68 58.27,377.57 58.65,367.88 59.03,360.89 59.41,364.68 59.79,355.70 60.17,355.52 60.55,369.54 60.93,339.90 61.31,334.01 61.69,367.25 62.07,365.68 62.45,338.54 62.43,330.00 62.63,315.02 62.83,330.00 62.83,357.28 63.21,357.41 63.59,371.32 63.97,331.37 64.35,374.72 64.73,359.64 65.11,361.21 65.49,374.98 65.87,372.27 66.25,364.52 66.63,358.71 67.01,379.45 67.39,374.71 67.77,350.17 68.15,356.26 68.53,364.47 68.91,365.13 69.29,364.83 69.67,338.32 70.05,360.61 70.43,352.92 70.81,326.37 71.19,330.63 71.30,335.52 71.50,257.88 71.70,335.52 71.57,328.09 71.95,321.87 72.33,350.69 72.71,331.45 73.09,350.39 73.47,317.84 73.85,359.62 74.23,349.84 74.61,354.12 74.99,344.08 75.37,336.69 75.75,325.50 76.13,355.90 76.22,333.15 76.42,288.42 76.62,333.15 76.51,326.38 76.89,342.48 77.27,329.33 77.65,330.71 78.03,357.38 78.41,368.47 78.79,351.75 79.17,368.17 79.55,372.90 79.93,360.68 80.31,373.04 80.69,350.90 81.07,342.10 81.45,342.02 81.83,329.65 82.21,330.86 82.59,370.62 82.97,377.79 83.35,326.69 83.73,363.35 84.11,364.68 84.49,357.59 84.87,346.22 85.25,344.01 85.63,353.76 86.01,332.62 86.08,337.36 86.28,314.04 86.48,337.36 86.39,354.39 86.77,331.77 87.15,327.01 87.53,356.91 87.91,331.14 88.29,335.09 88.67,333.69 89.05,334.65 89.43,340.09 89.81,366.04 90.19,362.19 90.57,356.46 90.95,346.94 91.33,376.75 91.71,368.81 92.09,384.63 92.47,376.05 92.85,364.31 93.23,367.11 93.61,393.79 93.99,377.04 94.37,377.22 94.75,386.85 95.13,385.01 95.51,387.62 95.89,401.07 96.27,395.59 96.65,408.20 97.03,389.34 97.41,394.75 97.79,410.25 98.17,399.45 98.55,405.37 98.93,392.54 99.31,388.25 99.69,401.04 100.07,377.99 100.45,383.13 100.83,380.65 101.21,355.76 101.59,353.85 101.97,354.82 102.35,342.08 102.73,361.52 103.11,353.50 103.49,342.47 103.87,342.20 103.81,338.37 104.01,309.11 104.21,338.37 104.25,324.84 104.63,335.54 105.01,350.78 105.39,320.46 105.77,348.92 105.78,337.59 105.98,288.42 106.18,337.59 106.15,353.47 106.53,336.12 106.91,342.15 107.29,340.82 107.67,358.37 108.05,354.47 108.43,351.19 108.81,358.80 109.19,359.88 109.57,378.80 109.95,371.84 110.33,370.18 110.71,372.22 111.09,376.73 111.47,392.29 111.85,373.77 112.23,364.93 112.61,372.36 112.99,369.49 113.37,378.85 113.75,394.25 114.13,386.43 114.51,406.15 114.89,411.37 115.27,387.28 115.65,405.07 116.03,400.12 116.41,407.76 116.79,385.94 117.17,398.48 117.55,379.29 117.93,367.85 118.31,364.79 118.69,399.41 119.07,368.66 119.45,363.02 119.57,355.22 119.77,330.79 119.97,355.22 119.83,385.73 120.21,381.47 120.59,380.32 120.97,331.44 121.35,385.84 121.73,371.46 122.11,383.43 122.49,380.22 122.87,385.68 123.25,386.43 123.63,378.98 124.01,358.63 124.39,375.99 124.77,349.70 125.15,358.55 125.53,353.34 125.91,351.06 126.29,367.79 126.67,368.16 126.47,347.54 126.67,319.95 126.87,347.54 127.05,371.36 127.43,363.61 127.81,371.81 128.19,352.18 128.57,362.85 128.95,380.23 129.33,372.39 129.71,376.34 130.09,387.06 130.47,372.02 130.85,393.09 131.23,391.16 131.61,373.73 131.99,385.75 132.37,401.63 132.75,383.69 133.13,373.30 133.51,376.59 133.89,390.07 134.27,369.32 134.35,379.46 134.55,348.52 134.75,379.46 134.65,365.75 135.03,371.60 135.41,403.88 135.79,410.42 136.17,377.10 136.55,394.97 136.93,397.71 137.31,372.72 137.69,401.25 138.07,394.32 138.45,389.89 138.83,380.62 139.21,389.91 139.59,389.11 139.97,366.01 140.35,360.60 140.73,389.50 141.11,364.89 141.49,358.48 141.87,381.65 142.25,368.50 142.63,367.77 143.01,368.93 143.39,368.55 143.77,359.30 144.15,372.09 144.53,360.75 144.91,360.46 145.29,358.67 145.19,338.28 145.39,292.36 145.59,338.28 145.67,330.31 146.05,370.04 146.43,365.73 146.81,349.16 147.19,372.11 147.57,374.59 147.95,370.73 148.33,366.87 148.71,375.20 149.09,365.56 149.47,374.06 149.85,382.97 150.23,387.77 150.61,377.51 150.99,384.97 151.37,380.04 151.75,375.77 152.13,354.15 152.51,328.50 152.89,308.58 153.27,334.47 153.65,323.81 154.03,280.96 154.41,289.20 154.79,348.25 154.76,301.63 154.96,270.69 155.16,301.63 155.17,331.03 155.55,341.38 155.93,295.66 156.31,302.17 156.69,311.52 157.07,296.54 157.45,269.25 157.83,297.66 158.21,312.06 158.59,292.66 158.97,335.10 159.35,338.49 159.73,272.52 159.68,297.29 159.88,262.81 160.08,297.29 160.11,304.90 160.49,323.14 160.87,311.88 161.25,359.52 161.63,311.32 162.01,360.45 162.39,323.62 162.77,364.92 163.15,317.76 163.53,368.13 163.91,370.39 164.29,358.89 164.67,350.47 165.05,359.17 165.43,353.36 165.81,364.21 166.19,371.35 166.57,370.22 166.95,367.12 167.33,379.42 167.71,355.92 168.09,376.02 168.47,380.71 168.85,360.63 169.23,346.83 169.61,384.07 169.99,382.31 170.37,373.46 170.75,399.12 171.13,369.60 171.51,396.16 171.89,392.46 172.27,376.04 172.65,391.90 173.03,354.56 173.41,361.02 173.79,366.53 174.17,384.40 174.55,369.30 174.93,333.45 175.31,352.94 175.69,329.26 176.07,335.17 176.45,353.41 176.83,323.09 177.21,312.74 177.59,340.60 177.97,310.29 178.35,323.69 178.73,306.89 179.11,337.10 178.99,307.73 179.19,263.40 179.39,307.73 179.49,326.33 179.87,330.81 180.25,301.31 180.63,317.83 181.01,342.91 181.39,323.82 181.77,320.77 182.15,353.32 182.53,334.59 182.91,350.76 183.29,339.16 183.67,339.59 184.05,356.52 184.43,365.13 184.81,373.46 185.19,383.63 185.57,367.24 185.95,375.55 186.33,358.02 186.71,386.79 187.09,360.02 187.47,344.52 187.85,352.50 188.23,348.40 188.61,370.77 188.99,347.46 189.37,359.64 189.75,355.85 190.13,377.78 190.51,359.19 190.89,359.58 191.27,364.09 191.21,367.24 191.41,332.76 191.61,367.24 191.65,362.45 192.03,382.23 192.41,379.02 192.79,387.54 193.17,367.21 193.55,395.39 193.93,386.66 194.31,406.18 194.69,408.84 195.07,367.07 195.45,394.22 195.83,377.35 196.21,395.20 196.59,370.58 196.97,386.91 197.35,393.13 197.73,386.73 198.11,377.17 198.49,395.70 198.87,404.44 199.25,378.66 199.63,371.94 200.01,383.61 200.39,384.18 200.77,383.53 201.15,406.32 201.53,377.93 201.91,371.90 202.29,371.66 202.67,388.74 203.05,382.40 203.43,388.77 203.81,393.81 204.19,380.17 204.57,371.87 204.95,397.55 205.33,370.12 205.71,372.84 206.09,360.35 206.47,380.51 206.85,364.67 207.23,382.58 207.61,370.08 207.99,384.21 208.37,366.13 208.75,381.21 209.13,356.90 208.94,366.06 209.14,316.01 209.34,366.06 209.51,370.94 209.89,374.72 210.27,382.31 210.65,381.11 211.03,388.34 211.41,410.60 211.79,384.32 212.17,397.26 212.55,409.66 212.93,397.47 213.31,396.31 213.69,397.00 214.07,383.58 214.45,383.80 214.83,398.38 215.21,391.78 215.59,371.76 215.97,375.04 216.35,391.47 216.73,348.95 217.11,373.52 217.49,379.33 217.87,359.08 217.81,349.61 218.01,330.79 218.21,349.61 218.25,340.81 218.63,354.74 219.01,367.89 219.39,365.18 219.77,376.38 220.15,363.03 220.53,340.95 220.91,344.00 221.29,383.31 221.67,368.53 222.05,389.38 222.43,385.59 222.81,372.62 222.74,353.45 222.94,319.95 223.14,353.45 223.19,371.76 223.57,386.43 223.95,355.01 224.33,370.72 224.71,389.34 225.09,385.32 225.47,367.94 225.85,376.37 226.23,367.92 226.61,401.38 226.99,369.10 227.37,383.67 227.75,353.43 228.13,343.81 228.51,331.91 228.89,341.34 229.27,364.98 229.24,340.29 229.44,269.70 229.64,340.29 229.65,367.84 230.03,349.16 230.41,364.14 230.79,353.69 231.17,366.76 231.55,328.38 231.93,328.33 232.31,326.70 232.69,355.03 233.07,361.74 233.18,331.28 233.38,307.14 233.58,331.28 233.45,353.98 233.83,364.25 234.21,319.85 234.59,329.68 234.97,331.50 235.35,341.59 235.73,345.60 236.11,349.54 236.49,339.57 236.87,360.52 237.25,369.07 237.63,377.72 238.01,352.87 238.39,386.69 238.77,363.43 239.15,370.15 239.53,386.14 239.91,365.39 240.29,374.64 240.67,374.27 241.05,368.29 241.43,367.92 241.81,372.86 242.19,381.46 242.57,370.25 242.95,372.28 243.33,390.79 243.71,375.71 244.09,367.03 244.47,387.69 244.85,377.26 245.23,361.17 245.61,379.34 245.99,341.05 246.37,350.77 246.75,380.98 247.13,358.88 247.51,337.73 247.89,337.39 248.27,375.56 248.65,349.56 249.03,368.99 249.41,338.73 249.79,350.48 250.17,332.65 250.55,356.56 250.93,350.23 251.31,354.64 251.69,327.82 252.07,336.93 252.45,298.68 252.83,323.07 253.21,327.85 253.59,326.09 253.97,300.21 254.35,284.94 254.73,316.39 254.85,304.19 255.05,260.84 255.25,304.19 255.11,325.58 255.49,316.14 255.87,299.69 256.25,313.16 256.63,306.83 257.01,344.06 257.39,337.71 257.77,337.98 258.15,347.40 258.53,364.25 258.91,365.69 259.29,322.93 259.67,328.38 260.05,374.83 260.43,350.13 260.81,368.15 261.19,354.48 261.57,375.34 261.95,375.48 262.33,356.75 262.71,374.63 263.09,341.52 263.13,354.63 263.33,314.04 263.53,354.63" fill="none" stroke="#000" stroke-width="0.8" stroke-linejoin="round" opacity="1.0"/>
<line x1="41.5" y1="307.1" x2="262.3" y2="356.4" stroke="#000" stroke-width="0.9"/>
<rect x="323.70" y="247.20" width="267.60" height="172.10" fill="none" stroke="#222" stroke-width="1.0"/>
<path d="M368.30 419.30v-4.5M368.30 247.20v4.5M412.90 419.30v-4.5M412.90 247.20v4.5M457.50 419.30v-4.5M457.50 247.20v4.5M502.10 419.30v-4.5M502.10 247.20v4.5M546.70 419.30v-4.5M546.70 247.20v4.5M346.00 419.30v-2.3M346.00 247.20v2.3M390.60 419.30v-2.3M390.60 247.20v2.3M435.20 419.30v-2.3M435.20 247.20v2.3M479.80 419.30v-2.3M479.80 247.20v2.3M524.40 419.30v-2.3M524.40 247.20v2.3M569.00 419.30v-2.3M569.00 247.20v2.3M323.70 384.88h4.5M591.30 384.88h-4.5M323.70 350.46h4.5M591.30 350.46h-4.5M323.70 316.04h4.5M591.30 316.04h-4.5M323.70 281.62h4.5M591.30 281.62h-4.5M323.70 402.09h2.3M591.30 402.09h-2.3M323.70 367.67h2.3M591.30 367.67h-2.3M323.70 333.25h2.3M591.30 333.25h-2.3M323.70 298.83h2.3M591.30 298.83h-2.3M323.70 264.41h2.3M591.30 264.41h-2.3" stroke="#222" stroke-width="1.0" fill="none"/>
<text x="323.70" y="427.20" font-family='"Liberation Serif", serif' font-size="7.4" font-weight="bold" text-anchor="middle" fill="#000" >0</text>
<text x="368.30" y="427.20" font-family='"Liberation Serif", serif' font-size="7.4" font-weight="bold" text-anchor="middle" fill="#000" >100</text>
<text x="412.90" y="427.20" font-family='"Liberation Serif", serif' font-size="7.4" font-weight="bold" text-anchor="middle" fill="#000" >200</text>
<text x="457.50" y="427.20" font-family='"Liberation Serif", serif' font-size="7.4" font-weight="bold" text-anchor="middle" fill="#000" >300</text>
<text x="502.10" y="427.20" font-family='"Liberation Serif", serif' font-size="7.4" font-weight="bold" text-anchor="middle" fill="#000" >400</text>
<text x="546.70" y="427.20" font-family='"Liberation Serif", serif' font-size="7.4" font-weight="bold" text-anchor="middle" fill="#000" >500</text>
<text x="591.30" y="427.20" font-family='"Liberation Serif", serif' font-size="7.4" font-weight="bold" text-anchor="middle" fill="#000" >600</text>
<text x="321.20" y="423.32" font-family='"Liberation Serif", serif' font-size="7.4" font-weight="bold" text-anchor="end" fill="#000" >0</text>
<text x="321.20" y="388.90" font-family='"Liberation Serif", serif' font-size="7.4" font-weight="bold" text-anchor="end" fill="#000" >0.1</text>
<text x="321.20" y="354.48" font-family='"Liberation Serif", serif' font-size="7.4" font-weight="bold" text-anchor="end" fill="#000" >0.2</text>
<text x="321.20" y="320.06" font-family='"Liberation Serif", serif' font-size="7.4" font-weight="bold" text-anchor="end" fill="#000" >0.3</text>
<text x="321.20" y="285.64" font-family='"Liberation Serif", serif' font-size="7.4" font-weight="bold" text-anchor="end" fill="#000" >0.4</text>
<text x="321.20" y="251.22" font-family='"Liberation Serif", serif' font-size="7.4" font-weight="bold" text-anchor="end" fill="#000" >0.5</text>
<text x="457.35" y="232.60" font-family='"Liberation Serif", serif' font-size="10.5" font-weight="bold" text-anchor="middle" fill="#000"  textLength="75.3" lengthAdjust="spacingAndGlyphs">RMS fluctuation</text>
<text x="457.40" y="433.80" font-family='"Liberation Serif", serif' font-size="7.6" font-weight="bold" text-anchor="middle" fill="#000"  textLength="23.7" lengthAdjust="spacingAndGlyphs">Residue</text>
<text x="0.00" y="0.00" font-family='"Liberation Serif", serif' font-size="6.5" font-weight="bold" text-anchor="middle" fill="#000" transform="translate(307.4,333.9) rotate(-90)">(nm)</text>
<text transform="translate(449.00,451.80) scale(1,0.95)" font-family='"Liberation Sans", sans-serif' font-size="15.2" text-anchor="middle" fill="#000" stroke="#000" stroke-width="0.4">(ii)</text>
<polyline points="324.14,332.81 324.58,329.64 325.02,346.85 325.46,323.27 325.90,359.84 326.34,376.92 326.78,353.95 327.22,343.64 327.66,377.56 328.10,368.36 328.54,352.29 328.98,369.11 329.42,380.60 329.86,354.04 330.30,376.70 330.74,372.82 331.18,359.74 331.62,361.21 332.06,384.41 332.50,370.27 332.94,372.83 333.38,377.53 333.82,370.89 334.26,357.17 334.70,363.51 335.14,367.95 335.58,373.88 336.02,365.70 336.46,356.60 336.90,345.13 337.34,362.84 337.78,340.70 338.22,360.28 338.66,350.82 339.10,352.50 339.54,344.40 339.98,336.65 340.42,335.66 340.86,354.44 341.30,340.45 341.74,331.53 342.18,338.50 342.62,362.77 343.06,356.19 343.50,352.48 343.94,347.77 344.38,359.04 344.82,342.85 345.26,352.18 345.70,334.17 346.14,350.77 346.58,358.57 347.02,348.67 347.46,325.89 347.90,339.78 348.34,327.17 348.78,347.49 349.22,319.63 349.66,325.54 350.10,334.18 350.54,346.67 350.98,365.23 351.42,359.21 351.86,362.88 352.30,349.29 352.74,353.76 353.18,360.05 353.62,365.05 354.06,365.84 354.50,359.37 354.94,350.05 355.38,345.43 355.82,349.08 356.26,342.88 356.70,352.84 357.14,353.86 357.58,349.51 358.02,330.34 358.46,345.50 358.90,317.49 359.34,317.06 359.78,337.14 360.22,316.98 360.66,343.84 361.10,340.52 361.54,341.60 361.98,343.25 362.42,357.48 362.86,354.98 363.30,327.78 363.74,359.08 364.18,340.83 364.62,336.40 365.06,355.33 365.50,359.14 365.94,356.62 366.38,357.01 366.82,335.00 367.26,345.93 367.70,365.01 368.14,371.50 368.58,352.00 369.02,366.44 369.46,351.52 369.90,364.17 370.34,351.50 370.78,341.24 371.22,340.74 371.66,348.44 372.10,342.34 372.54,345.72 372.98,330.80 373.42,336.24 373.86,324.05 374.30,340.06 374.74,313.75 375.18,337.75 375.62,340.11 376.06,327.08 376.50,348.89 376.94,345.63 377.38,353.60 377.82,335.82 378.26,341.85 378.70,351.56 379.14,354.08 379.58,349.60 380.02,343.60 380.46,352.57 380.90,347.46 381.34,351.57 381.78,357.98 382.22,368.67 382.66,341.44 383.10,367.83 383.54,377.42 383.98,358.37 384.42,354.58 384.86,367.67 385.30,349.93 385.74,377.81 386.18,368.43 386.62,375.24 387.06,379.81 387.50,359.07 387.94,365.65 388.38,373.29 388.82,379.44 389.26,374.96 389.70,374.51 390.14,370.72 390.58,377.28 391.02,386.12 391.46,365.54 391.90,375.57 392.34,365.62 392.78,379.01 393.22,372.96 393.66,358.09 394.10,371.08 394.54,354.78 394.98,359.46 395.42,347.07 395.86,344.18 396.30,335.94 396.74,337.18 397.18,335.97 397.62,322.90 398.06,317.71 398.50,312.87 398.94,336.10 399.38,318.24 399.82,337.19 400.26,324.46 400.70,329.02 401.14,325.02 401.58,339.77 402.02,329.99 402.46,345.98 402.90,338.99 403.34,337.33 403.78,347.07 404.22,342.72 404.66,350.66 405.10,352.41 405.54,359.70 405.98,366.48 406.42,354.76 406.86,366.10 407.30,373.33 407.74,374.53 408.18,371.74 408.62,377.45 409.06,385.41 409.50,380.60 409.94,383.63 410.38,379.44 410.82,386.94 411.26,382.15 411.70,384.85 412.14,372.81 412.58,369.30 413.02,365.43 413.46,376.39 413.90,364.02 414.34,370.95 414.78,377.87 415.22,370.78 415.66,370.96 416.10,370.93 416.54,375.04 416.98,379.49 417.42,372.53 417.86,376.18 418.30,382.48 418.74,373.98 419.18,368.89 419.62,378.82 420.06,379.72 420.50,375.41 420.94,364.52 421.38,367.32 421.82,361.32 422.26,376.27 422.70,352.03 423.14,374.76 423.58,360.15 424.02,358.34 424.46,373.87 424.90,372.84 425.34,355.56 425.78,360.69 426.22,354.85 426.66,371.42 427.10,376.29 427.54,360.71 427.98,363.81 428.42,356.22 428.86,359.40 429.30,359.73 429.74,378.80 430.18,366.25 430.62,374.13 431.06,370.41 431.50,377.65 431.94,377.50 432.38,370.67 432.82,366.75 433.26,385.86 433.70,386.50 434.14,370.38 434.58,368.40 435.02,371.93 435.46,372.46 435.90,381.44 436.34,369.67 436.78,367.01 437.22,379.82 437.66,372.51 438.10,359.76 438.54,368.91 438.98,375.08 439.42,368.11 439.86,359.57 440.30,361.43 440.74,370.79 441.18,365.33 441.62,350.47 442.06,357.92 442.50,367.80 442.94,350.55 443.38,358.09 443.82,361.32 444.26,354.05 444.70,363.50 445.14,345.97 445.58,369.85 446.02,365.61 446.46,369.04 446.90,361.37 447.34,361.00 447.78,358.52 448.22,354.55 448.66,364.23 449.10,360.14 449.54,373.78 449.98,357.67 450.42,355.25 450.86,372.72 451.30,376.97 451.74,365.16 452.18,374.51 452.62,369.25 453.06,368.96 453.50,361.03 453.94,355.66 454.38,357.40 454.82,360.09 455.26,363.79 455.70,359.56 456.14,351.07 456.58,357.87 457.02,316.06 457.46,314.23 457.90,325.92 458.34,316.02 458.78,340.58 459.22,326.01 459.66,354.81 460.10,320.93 460.54,349.43 460.98,316.49 461.42,356.16 461.86,328.17 462.30,323.10 462.74,324.47 463.18,345.88 463.62,356.16 464.06,344.50 464.50,314.32 464.94,333.33 465.38,343.53 465.82,338.75 466.26,367.09 466.70,361.55 467.14,363.41 467.58,353.57 468.02,363.32 468.46,359.06 468.90,363.37 469.34,373.65 469.78,363.63 470.22,373.47 470.66,365.22 471.10,377.50 471.54,364.41 471.98,378.42 472.42,362.39 472.86,365.38 473.30,373.06 473.74,369.25 474.18,367.63 474.62,369.16 475.06,377.35 475.50,375.40 475.94,385.71 476.38,381.59 476.82,375.34 477.26,376.97 477.70,366.86 478.14,369.32 478.58,375.42 479.02,375.75 479.46,356.78 479.90,358.61 480.34,367.60 480.78,354.96 481.22,355.33 481.66,348.64 482.10,365.58 482.54,347.18 482.98,359.05 483.42,342.40 483.86,344.63 484.30,360.16 484.74,336.42 485.18,354.60 485.62,340.49 486.06,357.41 486.50,345.99 486.94,352.24 487.38,359.85 487.82,343.26 488.26,351.13 488.70,364.67 489.14,350.12 489.58,358.59 490.02,369.82 490.46,366.72 490.90,375.58 491.34,366.60 491.78,372.71 492.22,351.15 492.66,377.31 493.10,359.96 493.54,361.62 493.98,359.94 494.42,353.97 494.86,369.08 495.30,361.37 495.74,357.87 496.18,348.31 496.62,362.44 497.06,360.67 497.50,370.12 497.94,359.45 498.38,351.84 498.82,362.72 499.26,350.22 499.70,356.02 500.14,368.30 500.58,372.37 501.02,381.12 501.46,362.34 501.90,380.14 502.34,370.85 502.78,363.53 503.22,371.55 503.66,375.40 504.10,370.20 504.54,369.39 504.98,378.56 505.42,370.04 505.86,380.68 506.30,365.10 506.74,360.68 507.18,368.66 507.62,373.82 508.06,364.07 508.50,360.64 508.94,367.99 509.38,374.20 509.82,367.12 510.26,367.17 510.70,360.96 511.14,367.12 511.58,369.06 512.02,351.32 512.46,372.65 512.90,358.78 513.34,358.74 513.78,359.00 514.22,364.70 514.66,357.02 515.10,360.36 515.54,351.92 515.98,350.70 516.42,357.15 516.86,347.30 517.30,345.74 517.74,362.79 518.18,349.00 518.62,362.10 519.06,370.88 519.50,369.53 519.94,352.04 520.38,363.15 520.82,366.93 521.26,364.11 521.70,366.52 522.14,379.92 522.58,365.71 523.02,380.38 523.46,380.48 523.90,371.47 524.34,374.57 524.78,376.81 525.22,382.90 525.66,366.88 526.10,381.87 526.54,366.10 526.98,368.71 527.42,361.43 527.86,378.52 528.30,377.14 528.74,365.12 529.18,369.95 529.62,355.43 530.06,364.98 530.50,359.83 530.94,363.35 531.38,358.36 531.82,366.37 532.26,362.47 532.70,362.99 533.14,363.16 533.58,360.59 534.02,365.34 534.46,371.25 534.90,370.07 535.34,358.93 535.78,372.04 536.22,362.16 536.66,372.24 537.10,374.24 537.54,372.62 537.98,375.06 538.42,367.21 538.86,378.17 539.30,375.65 539.74,367.03 540.18,360.11 540.62,372.92 541.06,361.16 541.50,347.01 541.94,351.05 542.38,340.09 542.82,348.12 543.26,339.06 543.70,333.12 544.14,350.38 544.58,333.23 545.02,355.72 545.46,347.40 545.90,337.80 546.34,335.46 546.78,331.13 547.22,339.78 547.66,348.53 548.10,331.68 548.54,352.69 548.98,342.03 549.42,342.50 549.86,344.74 550.30,351.67 550.74,363.74 551.18,355.75 551.62,369.45 552.06,366.24 552.50,364.46 552.94,379.23 553.38,379.35 553.82,367.31 554.26,372.83 554.70,375.29 555.14,372.53 555.58,373.77 556.02,384.84 556.46,379.08 556.90,385.45 557.34,375.74 557.78,381.36 558.22,380.05 558.66,383.48 559.10,370.79 559.54,364.76 559.98,377.13 560.42,376.54 560.86,356.99 561.30,372.46 561.74,362.43 562.18,352.32 562.62,354.21 563.06,350.79 563.50,357.67 563.94,367.01 564.38,354.14 564.82,359.77 565.26,351.31 565.70,348.14 566.14,365.08 566.58,363.22 567.02,348.89 567.46,352.04 567.90,356.75 568.34,359.84 568.78,350.24 569.22,343.48 569.66,347.09 570.10,353.17 570.54,360.07 570.98,336.73 571.42,354.99 571.86,351.30 572.30,341.70 572.74,343.87 573.18,325.55 573.62,340.69 574.06,351.16 574.50,328.16 574.94,340.95 575.38,346.96 575.82,325.26 576.26,339.07 576.70,336.04 577.14,335.24 577.58,348.68 578.02,330.54 578.46,347.56 578.90,355.67 579.34,338.25 579.78,330.85 580.22,361.08 580.66,360.72 581.10,340.00 581.54,360.24 581.98,332.80 582.42,330.02 582.86,349.59" fill="none" stroke="#555" stroke-width="0.8" stroke-linejoin="round" opacity="1.0"/>
<polyline points="324.14,300.62 324.58,302.27 324.40,313.28 324.60,284.08 324.80,313.28 325.02,309.84 325.46,353.10 325.90,351.85 326.34,375.77 326.78,370.98 327.22,371.34 327.66,345.28 328.10,364.07 328.54,366.19 328.98,348.70 329.42,362.88 329.86,358.57 330.30,355.37 330.74,375.38 331.18,366.02 331.62,359.62 332.06,368.98 332.50,383.83 332.94,371.72 333.38,365.73 333.82,361.35 334.26,371.99 334.70,375.52 335.14,366.27 335.58,375.92 336.02,362.97 336.46,368.17 336.90,357.69 337.34,355.86 337.78,349.23 338.22,337.42 338.66,358.72 339.10,364.59 339.54,359.01 339.98,346.16 340.42,333.41 340.86,337.53 341.30,350.49 341.74,353.68 342.18,333.99 342.62,362.52 343.06,355.84 343.50,356.23 343.94,363.39 344.38,353.38 344.82,349.19 345.26,341.41 345.70,352.40 346.14,351.88 346.58,357.16 347.02,354.60 347.46,339.25 347.90,347.89 348.34,349.24 348.54,326.15 348.74,318.56 348.94,326.15 348.78,328.74 349.22,339.99 349.66,344.18 350.10,345.65 350.54,350.25 350.98,349.51 351.42,350.61 351.86,354.65 352.30,362.36 352.74,365.20 353.18,370.12 353.62,357.17 354.06,360.12 354.50,356.52 354.94,347.94 355.38,364.02 355.82,347.26 356.26,353.06 356.70,350.88 357.14,350.47 357.58,349.68 358.02,350.28 358.46,332.02 358.90,339.51 359.34,324.60 359.34,324.47 359.54,261.09 359.74,324.47 359.78,320.19 360.22,338.70 360.66,339.53 361.10,341.73 361.54,321.69 361.98,355.92 362.42,347.17 362.86,342.57 363.30,356.31 363.74,331.41 364.18,337.09 364.62,332.37 365.06,338.68 365.50,354.29 365.94,337.01 366.38,357.81 366.82,354.77 367.26,348.12 367.70,365.46 368.14,343.81 368.58,351.44 369.02,359.67 369.46,358.63 369.90,355.35 370.34,367.00 370.78,353.50 371.22,353.47 371.66,345.45 372.10,334.77 372.54,327.64 372.98,344.49 373.42,340.46 373.86,347.61 374.30,320.19 374.51,326.93 374.71,285.92 374.91,326.93 374.74,328.37 375.18,330.68 375.62,339.52 376.06,327.67 376.50,349.24 376.94,347.76 377.38,333.36 377.82,347.63 378.26,340.22 378.70,342.70 379.14,339.12 379.58,349.40 380.02,348.15 380.46,338.31 380.90,341.64 381.34,355.92 381.41,348.79 381.61,328.91 381.81,348.79 381.78,343.91 382.22,354.65 382.66,363.33 383.10,349.01 383.54,361.82 383.98,360.25 384.42,351.96 384.86,374.75 385.30,352.73 385.74,377.81 386.18,363.54 386.62,366.04 387.06,363.77 387.50,382.23 387.94,386.74 388.38,367.89 388.82,379.69 389.26,368.14 389.70,377.29 390.14,375.13 390.58,381.34 391.02,371.28 391.46,377.43 391.90,382.41 392.34,366.91 392.78,362.08 393.22,373.50 393.66,355.36 394.10,365.97 394.54,366.25 394.98,348.47 395.42,352.30 395.86,357.67 396.30,338.21 396.74,347.89 397.18,341.40 397.62,324.69 398.06,322.59 398.50,339.07 398.94,310.76 399.38,316.55 399.57,318.43 399.77,289.83 399.97,318.43 399.82,308.50 400.26,317.65 400.70,318.46 401.14,337.69 401.58,318.90 402.02,324.11 402.46,339.02 402.90,334.98 403.34,345.42 403.78,341.04 404.22,345.80 404.66,350.07 405.10,357.88 405.54,361.40 405.98,352.88 406.42,360.69 406.86,369.72 407.30,368.55 407.74,375.88 408.18,380.23 408.62,376.38 409.06,380.90 409.50,380.80 409.94,377.39 410.38,384.96 410.82,387.71 411.26,373.99 411.70,387.49 412.14,368.52 412.58,373.64 413.02,363.38 413.46,371.02 413.90,375.67 414.05,371.32 414.25,357.64 414.45,371.32 414.34,374.39 414.78,371.84 415.22,375.16 415.66,378.13 416.10,377.57 416.54,370.40 416.98,376.44 417.42,370.13 417.86,377.62 418.30,368.19 418.74,374.88 419.18,368.47 419.62,363.97 420.06,370.99 420.50,365.93 420.94,358.92 421.38,373.85 421.82,359.45 422.26,368.77 422.70,362.90 422.79,361.83 422.99,350.75 423.19,361.83 423.14,372.13 423.58,361.39 424.02,358.48 424.46,363.63 424.90,370.07 425.34,362.14 425.78,372.98 426.22,361.71 426.66,357.02 426.70,360.86 426.90,336.49 427.10,360.86 427.10,367.09 427.54,368.27 427.98,369.92 428.42,356.92 428.86,371.19 429.30,374.09 429.74,364.03 430.18,362.82 430.62,374.31 431.06,379.19 431.50,366.62 431.94,383.14 432.38,370.55 432.44,370.40 432.64,343.85 432.84,370.40 432.82,367.49 433.26,375.11 433.70,358.55 434.14,380.85 434.58,382.68 435.02,359.32 435.46,367.68 435.90,362.79 436.34,363.59 436.78,376.27 437.22,373.80 437.66,363.17 438.10,357.44 438.54,370.68 438.98,366.23 439.42,371.84 439.86,372.44 440.30,373.39 440.74,363.10 441.18,366.27 441.62,373.56 442.06,360.41 442.50,361.77 442.94,357.58 443.38,364.07 443.82,361.70 444.26,365.10 444.70,365.39 445.14,348.21 445.58,367.41 445.78,355.62 445.98,333.51 446.18,355.62 446.02,365.10 446.46,351.18 446.90,358.68 447.34,357.53 447.78,366.52 448.22,373.25 448.66,362.05 449.10,361.05 449.54,364.85 449.98,373.72 450.42,359.00 450.86,370.75 451.30,362.43 451.74,370.42 452.18,373.91 452.62,360.91 453.06,370.58 453.50,361.88 453.94,357.28 454.38,356.69 454.28,346.84 454.48,326.61 454.68,346.84 454.82,334.13 455.26,332.72 455.70,348.04 456.14,357.28 456.58,322.11 456.81,331.18 457.01,312.82 457.21,331.18 457.02,340.34 457.46,353.89 457.90,344.15 458.34,348.80 458.78,351.82 459.22,338.67 459.66,341.00 460.10,354.01 460.54,319.53 460.98,344.78 461.42,346.72 461.86,350.18 462.30,336.29 462.74,350.38 463.18,357.32 463.62,307.96 464.06,304.17 464.00,324.77 464.20,305.23 464.40,324.77 464.50,316.24 464.94,350.06 465.38,329.14 465.82,329.98 466.26,356.53 466.70,347.09 467.14,350.16 467.58,364.66 468.02,363.64 468.46,369.08 468.90,364.14 469.34,370.35 469.78,371.58 470.22,360.19 470.66,372.39 471.10,371.01 471.54,371.39 471.98,369.82 472.42,379.42 472.86,371.57 473.30,365.53 473.74,378.85 474.18,366.04 474.62,371.83 475.06,381.61 475.50,381.47 475.94,373.51 476.38,381.18 476.82,372.05 477.26,375.80 477.70,370.43 478.14,370.34 478.58,371.26 479.02,358.03 479.46,370.16 479.90,357.94 480.34,351.04 480.78,353.62 481.22,350.50 481.66,349.57 482.10,362.58 482.54,348.04 482.98,357.26 483.42,361.05 483.86,339.49 484.30,345.52 484.74,355.19 484.69,342.47 484.89,327.76 485.09,342.47 485.18,343.37 485.62,347.96 486.06,345.67 486.50,355.77 486.94,356.99 487.38,350.39 487.82,341.99 488.26,362.35 488.70,348.48 489.14,360.45 489.58,365.19 490.02,355.77 490.46,350.89 490.90,360.13 491.34,354.83 491.78,356.92 492.22,378.33 492.66,373.65 493.10,354.37 493.54,361.21 493.98,358.82 494.42,348.20 494.86,368.84 495.30,349.81 495.74,347.05 496.18,366.16 496.62,358.73 497.06,369.49 497.50,344.34 497.94,352.61 498.38,363.37 498.82,356.38 499.26,374.65 499.70,353.10 499.63,360.86 499.83,334.66 500.03,360.86 500.14,372.26 500.58,369.58 501.02,364.50 501.46,368.97 501.90,367.78 502.34,378.73 502.78,370.28 503.22,377.30 503.66,378.63 504.10,381.24 504.54,369.15 504.98,369.79 505.42,379.68 505.86,363.16 506.30,366.04 506.74,377.96 507.18,363.86 507.62,366.15 508.06,357.41 508.50,373.44 508.94,361.45 509.38,363.77 509.82,354.27 510.26,352.56 510.70,355.45 511.14,359.69 511.58,356.39 512.02,357.93 512.46,355.35 512.90,370.65 513.34,353.75 513.78,362.06 514.22,358.80 514.66,362.78 515.10,366.80 515.54,364.19 515.98,352.06 516.42,355.46 516.86,352.27 516.87,353.28 517.07,330.06 517.27,353.28 517.30,363.09 517.74,351.65 518.18,357.47 518.62,365.16 519.06,357.97 519.50,365.58 519.94,364.92 520.38,359.09 520.82,363.10 521.26,369.11 521.70,368.65 522.14,374.93 522.58,375.62 523.02,367.60 523.46,369.60 523.90,370.37 524.34,373.91 524.78,368.57 525.22,375.98 525.66,372.91 526.10,368.62 526.54,379.54 526.98,364.98 527.42,374.20 527.86,364.16 528.30,371.71 528.74,373.48 529.18,361.19 529.62,368.76 530.06,363.20 530.50,367.60 530.94,354.82 531.38,352.60 531.82,363.97 532.26,364.08 532.70,353.32 533.14,364.59 533.58,365.15 534.02,356.31 534.46,368.24 534.90,360.77 535.34,377.15 535.78,369.97 536.22,366.28 536.66,368.19 537.10,368.14 537.54,369.64 537.98,372.86 538.42,374.12 538.86,367.01 539.30,374.49 539.74,373.54 540.18,375.59 540.62,364.77 541.06,361.75 541.50,346.43 541.94,343.21 542.38,361.34 542.82,348.87 543.26,353.65 543.31,340.86 543.51,311.67 543.71,340.86 543.70,349.07 544.14,356.78 544.58,334.28 545.02,346.50 545.46,348.51 545.90,326.17 546.34,348.21 546.78,332.53 547.22,341.09 547.66,336.35 548.10,333.12 547.90,343.85 548.10,320.86 548.30,343.85 548.54,341.84 548.98,352.11 549.42,362.24 549.86,356.38 550.30,368.29 550.74,353.03 551.18,351.92 551.62,372.14 552.06,361.72 552.50,361.20 552.94,362.07 553.38,363.43 553.82,376.08 554.26,367.91 554.70,379.27 555.14,375.87 555.58,368.66 556.02,376.59 556.46,373.89 556.90,378.85 557.34,385.22 557.78,380.19 558.22,386.51 558.66,381.21 559.10,380.30 559.54,379.22 559.98,368.21 560.42,369.57 560.86,363.75 561.30,371.14 561.74,369.33 562.18,363.16 562.62,360.74 563.06,353.15 563.50,355.14 563.94,351.85 564.38,359.36 564.82,348.52 565.26,349.61 565.70,359.05 566.14,355.91 566.58,358.01 567.02,348.83 567.46,354.62 567.90,364.29 568.34,354.52 568.78,359.64 569.22,348.99 569.66,360.44 570.10,348.26 570.54,344.38 570.98,337.81 571.42,336.96 571.86,344.64 572.30,358.93 572.74,335.85 573.18,340.17 573.62,355.72 574.06,358.11 574.50,348.68 574.34,330.52 574.54,305.92 574.74,330.52 574.94,330.90 575.38,344.85 575.82,329.87 576.26,345.91 576.70,345.33 576.64,339.25 576.84,313.97 577.04,339.25 577.14,354.68 577.58,342.44 578.02,343.50 578.46,342.62 578.90,360.69 579.34,361.59 579.78,337.35 580.22,360.28 580.09,342.24 580.29,316.26 580.49,342.24 580.66,337.46 581.10,354.09 581.54,346.15 581.98,361.44 582.42,330.23 582.86,324.87" fill="none" stroke="#000" stroke-width="0.8" stroke-linejoin="round" opacity="1.0"/>
<polyline points="324.1,292.6 583.3,298.3 583.3,337" fill="none" stroke="#000" stroke-width="0.9"/>
<rect x="64.00" y="485.60" width="180.30" height="194.60" fill="none" stroke="#222" stroke-width="1.0"/>
<path d="M100.06 680.20v-6.0M100.06 485.60v6.0M136.12 680.20v-6.0M136.12 485.60v6.0M172.18 680.20v-6.0M172.18 485.60v6.0M208.24 680.20v-6.0M208.24 485.60v6.0M82.03 680.20v-3.5M82.03 485.60v3.5M118.09 680.20v-3.5M118.09 485.60v3.5M154.15 680.20v-3.5M154.15 485.60v3.5M190.21 680.20v-3.5M190.21 485.60v3.5M226.27 680.20v-3.5M226.27 485.60v3.5M64.00 650.26h6.0M244.30 650.26h-6.0M64.00 620.32h6.0M244.30 620.32h-6.0M64.00 590.38h6.0M244.30 590.38h-6.0M64.00 560.45h6.0M244.30 560.45h-6.0M64.00 530.51h6.0M244.30 530.51h-6.0M64.00 500.57h6.0M244.30 500.57h-6.0M64.00 665.23h3.5M244.30 665.23h-3.5M64.00 635.29h3.5M244.30 635.29h-3.5M64.00 605.35h3.5M244.30 605.35h-3.5M64.00 575.42h3.5M244.30 575.42h-3.5M64.00 545.48h3.5M244.30 545.48h-3.5M64.00 515.54h3.5M244.30 515.54h-3.5" stroke="#222" stroke-width="1.0" fill="none"/>
<text x="64.00" y="688.60" font-family='"Liberation Serif", serif' font-size="8.3" font-weight="bold" text-anchor="middle" fill="#000" >0</text>
<text x="100.06" y="688.60" font-family='"Liberation Serif", serif' font-size="8.3" font-weight="bold" text-anchor="middle" fill="#000" >200</text>
<text x="136.12" y="688.60" font-family='"Liberation Serif", serif' font-size="8.3" font-weight="bold" text-anchor="middle" fill="#000" >400</text>
<text x="172.18" y="688.60" font-family='"Liberation Serif", serif' font-size="8.3" font-weight="bold" text-anchor="middle" fill="#000" >600</text>
<text x="208.24" y="688.60" font-family='"Liberation Serif", serif' font-size="8.3" font-weight="bold" text-anchor="middle" fill="#000" >800</text>
<text x="244.30" y="688.60" font-family='"Liberation Serif", serif' font-size="8.3" font-weight="bold" text-anchor="middle" fill="#000" >1000</text>
<text x="60.90" y="684.02" font-family='"Liberation Serif", serif' font-size="8.3" font-weight="bold" text-anchor="end" fill="#000" >3.74</text>
<text x="60.90" y="654.08" font-family='"Liberation Serif", serif' font-size="8.3" font-weight="bold" text-anchor="end" fill="#000" >3.76</text>
<text x="60.90" y="624.15" font-family='"Liberation Serif", serif' font-size="8.3" font-weight="bold" text-anchor="end" fill="#000" >3.78</text>
<text x="60.90" y="594.21" font-family='"Liberation Serif", serif' font-size="8.3" font-weight="bold" text-anchor="end" fill="#000" >3.8</text>
<text x="60.90" y="564.27" font-family='"Liberation Serif", serif' font-size="8.3" font-weight="bold" text-anchor="end" fill="#000" >3.82</text>
<text x="60.90" y="534.33" font-family='"Liberation Serif", serif' font-size="8.3" font-weight="bold" text-anchor="end" fill="#000" >3.84</text>
<text x="60.90" y="504.39" font-family='"Liberation Serif", serif' font-size="8.3" font-weight="bold" text-anchor="end" fill="#000" >3.86</text>
<text x="154.40" y="466.10" font-family='"Liberation Serif", serif' font-size="11.7" font-weight="bold" text-anchor="middle" fill="#000"  textLength="212.2" lengthAdjust="spacingAndGlyphs">Radius of gyration (total and around axes)</text>
<text x="154.50" y="696.90" font-family='"Liberation Serif", serif' font-size="7.3" font-weight="bold" text-anchor="middle" fill="#000"  textLength="32.2" lengthAdjust="spacingAndGlyphs">Time (ps)</text>
<text font-family='"Liberation Serif", serif' font-size="7.8" font-weight="bold" text-anchor="middle" transform="translate(41.6,583.2) rotate(-90)" textLength="26" lengthAdjust="spacingAndGlyphs">R<tspan font-size="6.6" dy="1.3">g</tspan><tspan dy="-1.3"> (nm)</tspan></text>
<text transform="translate(152.95,719.20) scale(1,0.95)" font-family='"Liberation Sans", sans-serif' font-size="15.2" text-anchor="middle" fill="#000" stroke="#000" stroke-width="0.4">(i)</text>
<text transform="translate(0.70,585.60) scale(1,1.0)" font-family='"Liberation Sans", sans-serif' font-size="15.2" text-anchor="start" fill="#000" stroke="#000" stroke-width="0.1">C</text>
<rect x="252.5" y="499.1" width="29.00" height="13.10" fill="none" stroke="#222" stroke-width="0.9"/>
<line x1="256.1" y1="505.6" x2="262.5" y2="505.6" stroke="#000" stroke-width="0.9"/>
<text x="268.40" y="507.70" font-family='"Liberation Serif", serif' font-size="7.5" font-weight="bold" text-anchor="start" fill="#000"  textLength="10.1" lengthAdjust="spacingAndGlyphs">Rg</text>
<polyline points="63.94,540.43 64.12,549.23 64.30,550.58 64.48,525.93 64.66,549.19 64.84,539.88 65.02,546.34 65.20,535.56 65.38,549.67 65.56,527.09 65.74,550.03 65.92,550.21 66.10,533.82 66.28,546.48 66.46,545.25 66.64,534.99 66.82,548.22 67.00,539.83 67.18,541.65 67.36,538.88 67.54,539.46 67.72,541.79 67.90,541.33 68.08,535.38 68.26,538.04 68.44,535.02 68.62,535.66 68.80,538.77 68.98,547.89 69.16,546.40 69.34,540.28 69.52,540.65 69.70,540.93 69.88,545.91 70.06,549.16 70.24,545.67 70.42,547.47 70.60,545.45 70.78,548.09 70.96,537.89 71.14,537.17 71.32,540.37 71.50,544.25 71.68,537.96 71.86,541.24 72.04,530.70 72.22,528.54 72.40,528.84 72.58,539.96 72.76,537.62 72.94,523.09 73.12,530.19 73.30,520.05 73.48,529.37 73.66,520.39 73.84,533.00 74.02,528.25 74.20,537.36 74.38,533.64 74.56,534.29 74.74,545.18 74.92,543.21 75.10,546.84 75.28,543.33 75.46,551.77 75.64,540.82 75.82,553.34 76.00,555.45 76.18,546.69 76.36,555.81 76.54,555.89 76.72,551.32 76.90,540.31 77.08,539.77 77.26,544.72 77.44,552.29 77.62,548.14 77.80,548.69 77.98,540.99 78.16,538.04 78.34,545.29 78.52,536.23 78.70,541.82 78.88,549.42 79.06,544.66 79.24,551.55 79.42,541.08 79.60,554.60 79.78,552.30 79.96,535.21 80.14,535.49 80.32,538.21 80.50,551.44 80.68,546.11 80.86,544.97 81.04,542.92 81.22,546.58 81.40,548.54 81.58,538.45 81.76,536.61 81.94,546.61 82.12,541.02 82.30,542.98 82.48,542.11 82.66,536.61 82.84,536.61 83.02,549.20 83.20,549.97 83.38,549.73 83.56,546.34 83.74,546.88 83.92,542.79 84.10,546.19 84.28,543.40 84.46,542.77 84.64,547.77 84.82,553.68 85.00,541.50 85.18,552.36 85.36,553.53 85.54,543.66 85.72,552.75 85.90,552.17 86.08,549.43 86.26,549.42 86.44,545.32 86.62,556.66 86.80,555.58 86.98,554.50 87.16,546.43 87.34,548.47 87.52,547.97 87.70,541.41 87.88,542.99 88.06,545.51 88.24,539.56 88.42,534.97 88.60,533.53 88.78,539.30 88.96,534.72 89.14,533.63 89.32,540.46 89.50,533.45 89.68,527.45 89.86,530.37 90.04,536.14 90.22,522.16 90.40,533.98 90.58,532.90 90.76,524.39 90.94,522.23 91.12,529.99 91.30,524.88 91.48,520.46 91.66,528.91 91.84,523.84 92.02,524.45 92.20,522.74 92.38,521.29 92.56,522.77 92.74,520.07 92.92,522.92 93.10,525.58 93.28,525.04 93.46,524.50 93.64,523.96 93.82,520.46 94.00,505.18 94.18,521.27 94.36,498.41 94.54,504.43 94.72,516.94 94.90,505.70 95.08,527.82 95.26,510.85 95.44,512.99 95.62,517.45 95.80,519.69 95.98,526.52 96.16,528.05 96.34,538.81 96.52,532.68 96.70,537.25 96.88,532.31 97.06,543.97 97.24,538.31 97.42,538.95 97.60,553.63 97.78,542.75 97.96,544.55 98.14,547.22 98.32,556.93 98.50,549.95 98.68,554.28 98.86,560.80 99.04,565.15 99.22,559.36 99.40,562.54 99.58,559.75 99.76,572.89 99.94,566.70 100.12,568.95 100.30,572.25 100.48,565.37 100.66,574.69 100.84,567.28 101.02,587.97 101.20,580.68 101.38,583.02 101.56,596.07 101.74,578.98 101.92,601.47 102.10,604.17 102.28,589.03 102.46,604.96 102.64,598.76 102.82,608.56 103.00,602.30 103.18,594.09 103.36,609.26 103.54,603.09 103.72,607.67 103.90,614.86 104.08,613.83 104.26,608.11 104.44,591.40 104.62,603.83 104.80,593.02 104.98,602.13 105.16,588.93 105.34,597.45 105.52,590.17 105.70,585.44 105.88,588.50 106.06,578.46 106.24,591.59 106.42,588.47 106.60,580.08 106.78,591.47 106.96,591.30 107.14,591.97 107.32,588.06 107.50,592.92 107.68,592.06 107.86,586.31 108.04,584.23 108.22,580.95 108.40,579.27 108.58,585.92 108.76,577.74 108.94,576.45 109.12,584.62 109.30,591.35 109.48,584.33 109.66,592.41 109.84,591.37 110.02,584.27 110.20,593.13 110.38,592.31 110.56,596.54 110.74,588.01 110.92,597.94 111.10,597.89 111.28,590.73 111.46,600.04 111.64,594.99 111.82,596.77 112.00,600.26 112.18,601.48 112.36,598.10 112.54,600.71 112.72,600.18 112.90,596.14 113.08,603.28 113.26,602.72 113.44,601.10 113.62,604.37 113.80,603.84 113.98,600.64 114.16,607.48 114.34,605.04 114.52,608.14 114.70,610.52 114.88,611.56 115.06,613.01 115.24,610.29 115.42,610.35 115.60,609.38 115.78,611.03 115.96,620.87 116.14,621.02 116.32,612.99 116.50,616.03 116.68,618.74 116.86,635.00 117.04,615.85 117.22,628.44 117.40,615.15 117.58,623.43 117.76,635.00 117.94,616.23 118.12,635.00 118.30,616.95 118.48,627.49 118.66,616.44 118.84,624.38 119.02,621.46 119.20,627.05 119.38,622.29 119.56,620.36 119.74,615.16 119.92,619.06 120.10,612.01 120.28,611.91 120.46,611.16 120.64,616.14 120.82,617.48 121.00,611.78 121.18,616.04 121.36,604.79 121.54,606.42 121.72,611.08 121.90,608.35 122.08,606.13 122.26,604.78 122.44,593.27 122.62,599.02 122.80,589.40 122.98,579.38 123.16,576.48 123.34,575.65 123.52,579.71 123.70,584.91 123.88,578.91 124.06,591.29 124.24,577.18 124.42,582.77 124.60,592.62 124.78,578.17 124.96,594.94 125.14,595.39 125.32,588.05 125.50,590.68 125.68,591.73 125.86,593.95 126.04,600.34 126.22,599.17 126.40,593.47 126.58,595.03 126.76,603.91 126.94,597.19 127.12,598.27 127.30,601.93 127.48,606.36 127.66,616.41 127.84,610.74 128.02,620.73 128.20,613.31 128.38,619.24 128.56,619.93 128.74,609.19 128.92,617.59 129.10,613.88 129.28,610.52 129.46,605.24 129.64,605.94 129.82,612.39 130.00,607.06 130.18,609.02 130.36,608.52 130.54,607.43 130.72,605.84 130.90,607.71 131.08,608.01 131.26,607.98 131.44,606.55 131.62,603.10 131.80,603.34 131.98,611.09 132.16,602.72 132.34,606.58 132.52,618.03 132.70,609.32 132.88,608.22 133.06,620.96 133.24,603.29 133.42,607.25 133.60,603.17 133.78,601.10 133.96,608.42 134.14,606.92 134.32,604.58 134.50,599.72 134.68,596.65 134.86,593.17 135.04,593.98 135.22,588.57 135.40,590.81 135.58,595.94 135.76,591.93 135.94,596.11 136.12,586.77 136.30,588.67 136.48,586.15 136.66,594.44 136.84,587.97 137.02,587.17 137.20,583.61 137.38,585.10 137.56,582.79 137.74,583.61 137.92,591.47 138.10,583.22 138.28,587.75 138.46,585.97 138.64,602.27 138.82,587.50 139.00,589.12 139.18,601.34 139.36,613.07 139.54,600.99 139.72,592.44 139.90,588.41 140.08,587.87 140.26,592.58 140.44,592.27 140.62,599.68 140.80,593.29 140.98,587.79 141.16,594.92 141.34,595.28 141.52,587.25 141.70,595.34 141.88,596.36 142.06,587.99 142.24,594.20 142.42,590.95 142.60,597.80 142.78,598.29 142.96,589.47 143.14,592.78 143.32,599.91 143.50,597.65 143.68,592.48 143.86,594.88 144.04,593.79 144.22,599.33 144.40,594.81 144.58,603.38 144.76,602.87 144.94,604.10 145.12,604.46 145.30,604.75 145.48,604.64 145.66,603.44 145.84,596.25 146.02,604.89 146.20,600.03 146.38,599.82 146.56,610.76 146.74,608.14 146.92,603.60 147.10,612.09 147.28,613.89 147.46,614.51 147.64,618.77 147.82,610.23 148.00,621.89 148.18,613.79 148.36,623.39 148.54,625.90 148.72,621.13 148.90,631.37 149.08,620.31 149.26,620.48 149.44,624.98 149.62,621.98 149.80,640.87 149.98,625.04 150.16,642.75 150.34,627.04 150.52,639.81 150.70,639.53 150.88,633.22 151.06,638.42 151.24,635.51 151.42,640.23 151.60,639.87 151.78,631.29 151.96,637.98 152.14,641.93 152.32,639.91 152.50,643.37 152.68,644.09 152.86,631.17 153.04,635.76 153.22,646.25 153.40,645.41 153.58,638.64 153.76,643.28 153.94,647.98 154.12,659.64 154.30,642.95 154.48,654.46 154.66,667.74 154.84,670.44 155.02,653.13 155.20,651.54 155.38,645.22 155.56,644.86 155.74,645.91 155.92,657.38 156.10,655.51 156.28,654.68 156.46,652.42 156.64,651.59 156.82,649.42 157.00,643.75 157.18,651.29 157.36,645.60 157.54,640.90 157.72,648.47 157.90,647.00 158.08,649.43 158.26,642.93 158.44,644.01 158.62,634.33 158.80,642.14 158.98,638.57 159.16,630.53 159.34,635.03 159.52,625.33 159.70,633.69 159.88,626.05 160.06,629.81 160.24,620.75 160.42,620.33 160.60,622.81 160.78,627.66 160.96,622.07 161.14,613.50 161.32,623.21 161.50,619.67 161.68,625.51 161.86,629.28 162.04,629.21 162.22,620.90 162.40,624.41 162.58,630.98 162.76,635.37 162.94,625.64 163.12,627.56 163.30,626.46 163.48,636.12 163.66,630.27 163.84,642.21 164.02,642.00 164.20,644.37 164.38,642.77 164.56,636.00 164.74,632.29 164.92,643.89 165.10,638.30 165.28,629.59 165.46,640.65 165.64,637.78 165.82,638.49 166.00,629.83 166.18,625.74 166.36,628.69 166.54,639.16 166.72,630.60 166.90,635.02 167.08,646.08 167.26,647.88 167.44,643.76 167.62,638.70 167.80,644.85 167.98,653.21 168.16,652.54 168.34,645.32 168.52,650.23 168.70,651.80 168.88,646.61 169.06,645.35 169.24,646.01 169.42,645.86 169.60,649.93 169.78,650.64 169.96,654.97 170.14,655.54 170.32,651.82 170.50,648.10 170.68,656.99 170.86,649.94 171.04,661.08 171.22,654.33 171.40,662.52 171.58,661.04 171.76,663.96 171.94,660.31 172.12,662.78 172.30,659.63 172.48,660.45 172.66,661.22 172.84,666.71 173.02,660.06 173.20,669.05 173.38,663.87 173.56,668.32 173.74,661.86 173.92,666.78 174.10,662.22 174.28,664.68 174.46,667.45 174.64,664.40 174.82,668.72 175.00,670.94 175.18,671.70 175.36,667.07 175.54,671.24 175.72,672.37 175.90,669.45 176.08,668.22 176.26,675.14 176.44,673.77 176.62,673.52 176.80,672.98 176.98,664.73 177.16,667.14 177.34,662.75 177.52,667.55 177.70,661.59 177.88,662.57 178.06,667.63 178.24,666.46 178.42,659.76 178.60,659.60 178.78,666.42 178.96,664.02 179.14,658.04 179.32,657.27 179.50,653.64 179.68,644.72 179.86,643.41 180.04,637.52 180.22,640.02 180.40,635.62 180.58,637.78 180.76,636.04 180.94,627.62 181.12,634.73 181.30,625.95 181.48,632.78 181.66,626.25 181.84,625.63 182.02,623.95 182.20,626.87 182.38,629.93 182.56,626.82 182.74,627.43 182.92,624.16 183.10,626.81 183.28,626.82 183.46,626.01 183.64,627.41 183.82,623.69 184.00,626.15 184.18,630.29 184.36,630.38 184.54,624.46 184.72,636.23 184.90,635.77 185.08,628.44 185.26,630.05 185.44,633.86 185.62,642.27 185.80,637.80 185.98,641.35 186.16,640.65 186.34,639.57 186.52,633.20 186.70,629.28 186.88,636.33 187.06,628.15 187.24,628.65 187.42,631.76 187.60,634.38 187.78,633.49 187.96,636.37 188.14,633.17 188.32,636.39 188.50,638.71 188.68,641.88 188.86,640.57 189.04,638.15 189.22,642.05 189.40,641.50 189.58,639.72 189.76,638.05 189.94,638.19 190.12,632.10 190.30,630.49 190.48,634.93 190.66,627.50 190.84,633.72 191.02,627.75 191.20,631.36 191.38,627.21 191.56,621.42 191.74,620.54 191.92,620.44 192.10,625.02 192.28,622.86 192.46,614.64 192.64,613.79 192.82,607.72 193.00,614.22 193.18,607.48 193.36,601.60 193.54,598.06 193.72,604.66 193.90,607.93 194.08,602.79 194.26,599.26 194.44,599.57 194.62,601.00 194.80,599.15 194.98,608.33 195.16,601.77 195.34,598.65 195.52,597.75 195.70,603.63 195.88,602.34 196.06,604.72 196.24,603.63 196.42,596.97 196.60,592.35 196.78,598.55 196.96,595.66 197.14,600.33 197.32,595.78 197.50,600.80 197.68,602.31 197.86,600.10 198.04,601.54 198.22,602.98 198.40,607.86 198.58,612.50 198.76,610.04 198.94,608.19 199.12,612.52 199.30,610.71 199.48,616.41 199.66,622.22 199.84,619.73 200.02,615.69 200.20,625.66 200.38,622.15 200.56,626.43 200.74,624.18 200.92,625.56 201.10,618.93 201.28,627.87 201.46,620.01 201.64,620.37 201.82,626.05 202.00,626.16 202.18,626.86 202.36,626.32 202.54,622.48 202.72,621.51 202.90,623.64 203.08,620.11 203.26,619.87 203.44,611.37 203.62,614.45 203.80,612.35 203.98,615.51 204.16,608.73 204.34,615.35 204.52,613.17 204.70,605.07 204.88,607.48 205.06,608.78 205.24,601.97 205.42,600.89 205.60,602.27 205.78,603.08 205.96,600.96 206.14,604.64 206.32,600.09 206.50,602.17 206.68,592.78 206.86,597.49 207.04,588.51 207.22,589.88 207.40,579.58 207.58,578.13 207.76,585.79 207.94,577.53 208.12,575.54 208.30,569.79 208.48,581.12 208.66,571.53 208.84,583.32 209.02,581.39 209.20,575.87 209.38,575.25 209.56,577.32 209.74,581.98 209.92,581.61 210.10,575.74 210.28,582.56 210.46,576.10 210.64,586.92 210.82,576.46 211.00,586.97 211.18,576.82 211.36,584.77 211.54,590.68 211.72,588.92 211.90,582.38 212.08,584.00 212.26,597.88 212.44,588.62 212.62,599.83 212.80,603.28 212.98,592.25 213.16,607.13 213.34,601.50 213.52,602.92 213.70,600.51 213.88,609.27 214.06,612.92 214.24,619.01 214.42,620.92 214.60,622.89 214.78,616.61 214.96,618.84 215.14,622.46 215.32,625.09 215.50,633.85 215.68,635.04 215.86,629.15 216.04,626.69 216.22,626.59 216.40,630.99 216.58,631.74 216.76,624.43 216.94,627.95 217.12,631.15 217.30,630.15 217.48,621.55 217.66,623.17 217.84,621.05 218.02,633.59 218.20,631.24 218.38,636.55 218.56,628.12 218.74,638.35 218.92,634.14 219.10,635.47 219.28,641.05 219.46,629.76 219.64,629.04 219.82,640.07 220.00,639.29 220.18,638.99 220.36,635.75 220.54,628.96 220.72,636.23 220.90,627.77 221.08,630.08 221.26,630.32 221.44,626.64 221.62,637.91 221.80,636.52 221.98,633.89 222.16,635.70 222.34,631.51 222.52,633.07 222.70,636.38 222.88,638.66 223.06,632.54 223.24,645.08 223.42,634.34 223.60,635.79 223.78,636.14 223.96,645.25 224.14,637.94 224.32,649.18 224.50,642.68 224.68,639.46 224.86,633.97 225.04,622.11 225.22,621.20 225.40,608.72 225.58,607.57 225.76,608.33 225.94,598.42 226.12,603.29 226.30,602.70 226.48,610.57 226.66,608.87 226.84,604.57 227.02,610.74 227.20,612.20 227.38,612.38 227.56,608.27 227.74,608.76 227.92,605.13 228.10,606.92 228.28,610.35 228.46,611.02 228.64,605.57 228.82,605.75 229.00,605.93 229.18,605.68 229.36,607.20 229.54,609.03 229.72,604.60 229.90,605.80 230.08,603.88 230.26,607.19 230.44,608.95 230.62,605.00 230.80,600.94 230.98,608.13 231.16,597.49 231.34,600.82 231.52,592.30 231.70,591.33 231.88,593.14 232.06,590.08 232.24,588.82 232.42,587.62 232.60,583.46 232.78,582.24 232.96,584.48 233.14,582.04 233.32,581.63 233.50,584.34 233.68,583.07 233.86,580.23 234.04,584.55 234.22,579.91 234.40,578.42 234.58,582.31 234.76,579.10 234.94,572.16 235.12,578.96 235.30,570.00 235.48,573.02 235.66,575.94 235.84,577.12 236.02,567.74 236.20,570.13 236.38,574.90 236.56,575.34 236.74,574.26 236.92,572.27 237.10,572.10 237.28,564.61 237.46,564.62 237.64,567.65 237.82,566.46 238.00,555.94 238.18,565.62 238.36,553.58 238.54,556.42 238.72,549.46 238.90,551.66 239.08,558.54 239.26,544.06 239.44,544.55 239.62,546.67 239.80,548.46 239.98,549.76 240.16,542.05 240.34,546.00 240.52,533.19 240.70,535.65 240.88,532.83 241.06,543.36 241.24,534.40 241.42,539.47 241.60,532.11 241.78,531.93 241.96,531.81 242.14,533.02 242.32,534.84 242.50,532.33 242.68,537.44 242.86,540.60 243.04,532.87 243.22,533.05 243.40,533.23 243.58,533.91 243.76,546.29 243.94,544.07" fill="none" stroke="#000" stroke-width="1.0" stroke-linejoin="round" opacity="1.0"/>
<rect x="349.70" y="493.90" width="194.70" height="173.70" fill="none" stroke="#222" stroke-width="1.0"/>
<path d="M388.64 667.60v-6.0M388.64 493.90v6.0M427.58 667.60v-6.0M427.58 493.90v6.0M466.52 667.60v-6.0M466.52 493.90v6.0M505.46 667.60v-6.0M505.46 493.90v6.0M369.17 667.60v-3.5M369.17 493.90v3.5M408.11 667.60v-3.5M408.11 493.90v3.5M447.05 667.60v-3.5M447.05 493.90v3.5M485.99 667.60v-3.5M485.99 493.90v3.5M524.93 667.60v-3.5M524.93 493.90v3.5M349.70 651.81h6.0M544.40 651.81h-6.0M349.70 620.23h6.0M544.40 620.23h-6.0M349.70 588.65h6.0M544.40 588.65h-6.0M349.70 557.06h6.0M544.40 557.06h-6.0M349.70 525.48h6.0M544.40 525.48h-6.0M349.70 636.02h3.5M544.40 636.02h-3.5M349.70 604.44h3.5M544.40 604.44h-3.5M349.70 572.85h3.5M544.40 572.85h-3.5M349.70 541.27h3.5M544.40 541.27h-3.5M349.70 509.69h3.5M544.40 509.69h-3.5" stroke="#222" stroke-width="1.0" fill="none"/>
<text x="349.70" y="674.90" font-family='"Liberation Serif", serif' font-size="7.2" font-weight="bold" text-anchor="middle" fill="#000"  textLength="4.5" lengthAdjust="spacingAndGlyphs">0</text>
<text x="388.64" y="674.90" font-family='"Liberation Serif", serif' font-size="7.2" font-weight="bold" text-anchor="middle" fill="#000"  textLength="13.5" lengthAdjust="spacingAndGlyphs">200</text>
<text x="427.58" y="674.90" font-family='"Liberation Serif", serif' font-size="7.2" font-weight="bold" text-anchor="middle" fill="#000"  textLength="13.5" lengthAdjust="spacingAndGlyphs">400</text>
<text x="466.52" y="674.90" font-family='"Liberation Serif", serif' font-size="7.2" font-weight="bold" text-anchor="middle" fill="#000"  textLength="13.5" lengthAdjust="spacingAndGlyphs">600</text>
<text x="505.46" y="674.90" font-family='"Liberation Serif", serif' font-size="7.2" font-weight="bold" text-anchor="middle" fill="#000"  textLength="13.5" lengthAdjust="spacingAndGlyphs">800</text>
<text x="544.40" y="674.90" font-family='"Liberation Serif", serif' font-size="7.2" font-weight="bold" text-anchor="middle" fill="#000"  textLength="18.0" lengthAdjust="spacingAndGlyphs">1000</text>
<text x="346.30" y="655.40" font-family='"Liberation Serif", serif' font-size="7.2" font-weight="bold" text-anchor="end" fill="#000"  textLength="11.25" lengthAdjust="spacingAndGlyphs">3.8</text>
<text x="346.30" y="623.82" font-family='"Liberation Serif", serif' font-size="7.2" font-weight="bold" text-anchor="end" fill="#000"  textLength="15.75" lengthAdjust="spacingAndGlyphs">3.82</text>
<text x="346.30" y="592.24" font-family='"Liberation Serif", serif' font-size="7.2" font-weight="bold" text-anchor="end" fill="#000"  textLength="15.75" lengthAdjust="spacingAndGlyphs">3.84</text>
<text x="346.30" y="560.66" font-family='"Liberation Serif", serif' font-size="7.2" font-weight="bold" text-anchor="end" fill="#000"  textLength="15.75" lengthAdjust="spacingAndGlyphs">3.86</text>
<text x="346.30" y="529.07" font-family='"Liberation Serif", serif' font-size="7.2" font-weight="bold" text-anchor="end" fill="#000"  textLength="15.75" lengthAdjust="spacingAndGlyphs">3.88</text>
<text x="447.00" y="476.70" font-family='"Liberation Serif", serif' font-size="10.8" font-weight="bold" text-anchor="middle" fill="#000"  textLength="229.1" lengthAdjust="spacingAndGlyphs">Radius of gyration (total and around axes)</text>
<text x="447.75" y="681.90" font-family='"Liberation Serif", serif' font-size="7.2" font-weight="bold" text-anchor="middle" fill="#000"  textLength="35.1" lengthAdjust="spacingAndGlyphs">Time (ps)</text>
<text font-family='"Liberation Serif", serif' font-size="8.4" font-weight="bold" text-anchor="middle" transform="translate(326.4,580.5) rotate(-90)" textLength="23" lengthAdjust="spacingAndGlyphs">R<tspan font-size="7.0" dy="1.4">g</tspan><tspan dy="-1.4"> (nm)</tspan></text>
<text transform="translate(448.95,719.20) scale(1,0.95)" font-family='"Liberation Sans", sans-serif' font-size="15.2" text-anchor="middle" fill="#000" stroke="#000" stroke-width="0.4">(ii)</text>
<rect x="553.5" y="505.6" width="31.90" height="11.80" fill="none" stroke="#222" stroke-width="0.9"/>
<line x1="557.8" y1="511.5" x2="564.3" y2="511.5" stroke="#000" stroke-width="0.9"/>
<text x="571.00" y="514.20" font-family='"Liberation Serif", serif' font-size="7.5" font-weight="bold" text-anchor="start" fill="#000"  textLength="10.5" lengthAdjust="spacingAndGlyphs">Rg</text>
<polyline points="349.97,644.34 350.15,642.32 350.33,632.66 350.51,641.50 350.69,627.72 350.87,624.58 351.05,646.35 351.23,640.85 351.41,625.89 351.59,624.81 351.77,626.98 351.95,632.17 352.13,634.50 352.31,627.92 352.49,622.37 352.67,624.55 352.85,620.08 353.03,619.64 353.21,614.44 353.39,610.29 353.57,618.21 353.75,609.84 353.93,610.63 354.11,603.66 354.29,601.91 354.47,601.46 354.65,607.79 354.83,610.23 355.01,607.26 355.19,599.75 355.37,610.23 355.55,609.09 355.73,609.67 355.91,601.27 356.09,603.61 356.27,607.98 356.45,597.05 356.63,597.86 356.81,605.22 356.99,608.67 357.17,604.22 357.35,590.90 357.53,589.49 357.71,606.67 357.89,590.00 358.07,595.40 358.25,607.74 358.43,599.81 358.61,596.37 358.79,593.22 358.97,609.18 359.15,609.54 359.33,595.68 359.51,593.71 359.69,598.27 359.87,606.46 360.05,600.03 360.23,589.39 360.41,596.22 360.59,597.49 360.77,591.29 360.95,591.04 361.13,588.93 361.31,585.39 361.49,583.52 361.67,580.75 361.85,579.67 362.03,578.59 362.21,582.96 362.39,581.77 362.57,579.01 362.75,578.92 362.93,575.40 363.11,569.82 363.29,570.91 363.47,566.15 363.65,564.06 363.83,557.27 364.01,557.04 364.19,559.85 364.37,552.71 364.55,548.79 364.73,547.83 364.91,549.60 365.09,559.63 365.27,549.61 365.45,558.64 365.63,549.92 365.81,557.95 365.99,549.38 366.17,551.97 366.35,551.47 366.53,549.13 366.71,539.11 366.89,539.68 367.07,541.14 367.25,547.99 367.43,550.95 367.61,554.92 367.79,560.38 367.97,555.46 368.15,557.35 368.33,559.41 368.51,562.56 368.69,559.98 368.87,570.24 369.05,559.78 369.23,577.75 369.41,570.94 369.59,578.78 369.77,559.27 369.95,565.50 370.13,569.08 370.31,578.06 370.49,567.64 370.67,577.70 370.85,558.43 371.03,577.55 371.21,559.80 371.39,557.61 371.57,559.05 371.75,571.40 371.93,568.47 372.11,573.82 372.29,571.75 372.47,578.12 372.65,583.87 372.83,572.58 373.01,576.00 373.19,570.55 373.37,565.31 373.55,570.52 373.73,579.55 373.91,565.74 374.09,578.11 374.27,574.63 374.45,574.89 374.63,579.14 374.81,573.51 374.99,574.49 375.17,582.77 375.35,570.69 375.53,575.35 375.71,569.80 375.89,578.98 376.07,586.61 376.25,585.89 376.43,571.39 376.61,570.12 376.79,580.51 376.97,580.99 377.15,572.21 377.33,581.57 377.51,577.36 377.69,579.63 377.87,580.67 378.05,582.65 378.23,575.15 378.41,574.68 378.59,584.81 378.77,578.73 378.95,574.75 379.13,583.28 379.31,579.57 379.49,584.94 379.67,589.60 379.85,590.50 380.03,583.81 380.21,580.80 380.39,588.33 380.57,583.83 380.75,591.63 380.93,591.54 381.11,591.62 381.29,586.59 381.47,578.29 381.65,582.26 381.83,581.63 382.01,580.79 382.19,583.30 382.37,570.80 382.55,573.34 382.73,569.83 382.91,567.23 383.09,573.39 383.27,565.33 383.45,571.96 383.63,559.99 383.81,568.72 383.99,561.30 384.17,555.49 384.35,559.41 384.53,557.01 384.71,558.83 384.89,556.70 385.07,546.35 385.25,547.78 385.43,547.20 385.61,544.36 385.79,539.83 385.97,545.17 386.15,540.79 386.33,532.39 386.51,538.63 386.69,534.67 386.87,533.33 387.05,538.87 387.23,536.78 387.41,533.59 387.59,534.79 387.77,537.97 387.95,529.32 388.13,533.83 388.31,539.78 388.49,530.76 388.67,531.86 388.85,531.51 389.03,541.22 389.21,533.36 389.39,542.62 389.57,535.20 389.75,538.95 389.93,540.38 390.11,537.11 390.29,536.25 390.47,546.55 390.65,539.92 390.83,543.32 391.01,542.54 391.19,531.51 391.37,541.73 391.55,533.75 391.73,529.16 391.91,526.75 392.09,524.00 392.27,527.58 392.45,530.74 392.63,518.41 392.81,509.02 392.99,510.51 393.17,517.06 393.35,515.49 393.53,527.86 393.71,522.77 393.89,528.46 394.07,531.73 394.25,536.10 394.43,543.59 394.61,548.07 394.79,546.85 394.97,550.72 395.15,555.32 395.33,560.42 395.51,568.86 395.69,571.39 395.87,570.49 396.05,572.99 396.23,567.46 396.41,573.56 396.59,568.14 396.77,573.69 396.95,576.68 397.13,581.07 397.31,576.57 397.49,578.81 397.67,576.55 397.85,579.07 398.03,582.87 398.21,580.77 398.39,581.26 398.57,579.72 398.75,574.29 398.93,572.13 399.11,574.62 399.29,569.83 399.47,574.99 399.65,576.01 399.83,575.90 400.01,572.14 400.19,561.67 400.37,563.72 400.55,565.95 400.73,562.16 400.91,564.78 401.09,571.89 401.27,571.62 401.45,567.90 401.63,574.35 401.81,570.62 401.99,580.53 402.17,577.00 402.35,578.99 402.53,580.49 402.71,572.91 402.89,579.23 403.07,583.35 403.25,582.04 403.43,578.62 403.61,582.23 403.79,590.37 403.97,585.55 404.15,575.47 404.33,582.26 404.51,575.56 404.69,569.33 404.87,564.89 405.05,568.88 405.23,560.57 405.41,562.75 405.59,564.01 405.77,562.37 405.95,556.24 406.13,556.01 406.31,561.22 406.49,562.21 406.67,558.45 406.85,557.39 407.03,561.13 407.21,560.48 407.39,557.07 407.57,553.50 407.75,556.54 407.93,547.85 408.11,553.37 408.29,552.59 408.47,554.18 408.65,551.77 408.83,542.53 409.01,550.97 409.19,548.32 409.37,539.83 409.55,538.93 409.73,544.87 409.91,537.13 410.09,542.73 410.27,535.35 410.45,534.27 410.63,540.33 410.81,539.61 410.99,533.28 411.17,538.17 411.35,534.19 411.53,534.06 411.71,529.30 411.89,533.36 412.07,534.63 412.25,534.27 412.43,533.91 412.61,533.55 412.79,531.61 412.97,524.36 413.15,532.29 413.33,530.71 413.51,524.03 413.69,520.33 413.87,522.99 414.05,522.13 414.23,524.79 414.41,531.03 414.59,535.04 414.77,532.64 414.95,530.81 415.13,532.23 415.31,534.68 415.49,537.31 415.67,533.00 415.85,523.44 416.03,529.38 416.21,519.12 416.39,520.68 416.57,525.56 416.75,515.21 416.93,520.11 417.11,531.41 417.29,515.19 417.47,531.41 417.65,530.90 417.83,529.43 418.01,519.23 418.19,531.41 418.37,528.30 418.55,530.39 418.73,527.68 418.91,532.62 419.09,523.49 419.27,531.58 419.45,534.12 419.63,535.50 419.81,526.37 419.99,527.09 420.17,532.21 420.35,535.25 420.53,530.89 420.71,539.06 420.89,534.93 421.07,537.30 421.25,532.13 421.43,540.49 421.61,539.43 421.79,545.68 421.97,545.25 422.15,547.48 422.33,544.43 422.51,540.01 422.69,548.43 422.87,540.57 423.05,541.65 423.23,544.76 423.41,552.70 423.59,554.23 423.77,543.83 423.95,546.59 424.13,552.61 424.31,545.05 424.49,541.67 424.67,546.14 424.85,550.45 425.03,541.98 425.21,542.09 425.39,551.62 425.57,551.74 425.75,545.37 425.93,556.04 426.11,558.82 426.29,554.34 426.47,558.57 426.65,563.48 426.83,562.80 427.01,567.82 427.19,569.62 427.37,571.22 427.55,573.22 427.73,567.31 427.91,566.44 428.09,566.22 428.27,570.41 428.45,569.30 428.63,572.48 428.81,579.51 428.99,578.07 429.17,575.28 429.35,573.40 429.53,570.39 429.71,570.42 429.89,564.02 430.07,562.32 430.25,558.10 430.43,560.36 430.61,561.29 430.79,557.45 430.97,556.93 431.15,557.64 431.33,554.10 431.51,552.67 431.69,548.96 431.87,550.25 432.05,545.44 432.23,550.85 432.41,551.61 432.59,552.76 432.77,545.57 432.95,548.68 433.13,553.89 433.31,553.22 433.49,546.92 433.67,549.05 433.85,549.44 434.03,556.04 434.21,559.46 434.39,555.78 434.57,554.48 434.75,559.76 434.93,557.00 435.11,566.42 435.29,560.56 435.47,562.15 435.65,563.91 435.83,568.70 436.01,570.87 436.19,574.58 436.37,573.77 436.55,575.65 436.73,584.47 436.91,588.16 437.09,587.02 437.27,592.04 437.45,596.52 437.63,595.21 437.81,595.29 437.99,593.70 438.17,596.05 438.35,600.13 438.53,588.06 438.71,582.38 438.89,584.57 439.07,583.25 439.25,582.53 439.43,576.39 439.61,582.38 439.79,578.03 439.97,578.17 440.15,578.84 440.33,575.46 440.51,576.89 440.69,582.52 440.87,573.71 441.05,575.88 441.23,579.24 441.41,576.78 441.59,575.88 441.77,568.13 441.95,567.05 442.13,569.95 442.31,567.18 442.49,564.84 442.67,570.73 442.85,575.06 443.03,580.45 443.21,574.35 443.39,575.32 443.57,574.55 443.75,579.81 443.93,578.88 444.11,585.03 444.29,575.50 444.47,581.07 444.65,572.96 444.83,566.59 445.01,571.81 445.19,569.28 445.37,571.17 445.55,567.73 445.73,561.90 445.91,558.87 446.09,557.78 446.27,562.53 446.45,567.17 446.63,559.51 446.81,560.62 446.99,571.35 447.17,561.14 447.35,568.68 447.53,568.24 447.71,564.58 447.89,580.17 448.07,579.66 448.25,569.92 448.43,559.39 448.61,571.21 448.79,566.78 448.97,566.81 449.15,567.35 449.33,562.18 449.51,576.03 449.69,571.14 449.87,562.29 450.05,566.06 450.23,558.85 450.41,555.77 450.59,554.30 450.77,562.87 450.95,567.68 451.13,568.76 451.31,562.61 451.49,563.81 451.67,548.88 451.85,548.34 452.03,556.61 452.21,574.17 452.39,576.32 452.57,559.56 452.75,548.74 452.93,562.19 453.11,566.32 453.29,558.31 453.47,568.05 453.65,584.05 453.83,568.65 454.01,574.91 454.19,590.36 454.37,581.56 454.55,579.51 454.73,567.56 454.91,579.01 455.09,557.73 455.27,575.68 455.45,562.78 455.63,552.88 455.81,552.33 455.99,555.51 456.17,546.56 456.35,552.10 456.53,553.74 456.71,544.40 456.89,554.59 457.07,560.93 457.25,542.24 457.43,542.34 457.61,555.79 457.79,563.93 457.97,551.20 458.15,559.69 458.33,554.22 458.51,563.72 458.69,568.83 458.87,562.15 459.05,573.80 459.23,577.57 459.41,577.93 459.59,571.23 459.77,573.40 459.95,564.22 460.13,570.69 460.31,569.13 460.49,566.77 460.67,567.10 460.85,580.24 461.03,574.63 461.21,564.94 461.39,574.09 461.57,572.98 461.75,561.70 461.93,573.76 462.11,559.54 462.29,569.38 462.47,557.48 462.65,565.58 462.83,556.04 463.01,563.12 463.19,574.16 463.37,576.52 463.55,561.76 463.73,562.35 463.91,552.96 464.09,555.28 464.27,559.42 464.45,551.89 464.63,562.62 464.81,556.75 464.99,562.62 465.17,565.61 465.35,557.61 465.53,554.05 465.71,560.64 465.89,556.27 466.07,559.56 466.25,560.72 466.43,555.85 466.61,565.07 466.79,556.57 466.97,562.26 467.15,568.17 467.33,567.46 467.51,564.15 467.69,567.38 467.87,557.35 468.05,557.63 468.23,561.98 468.41,536.40 468.59,543.93 468.77,555.86 468.95,549.82 469.13,533.95 469.31,546.88 469.49,546.12 469.67,539.61 469.85,545.78 470.03,525.12 470.21,540.22 470.39,536.18 470.57,538.85 470.75,534.45 470.93,557.42 471.11,542.16 471.29,556.00 471.47,556.94 471.65,576.39 471.83,566.51 472.01,575.99 472.19,585.56 472.37,592.08 472.55,594.64 472.73,592.55 472.91,579.94 473.09,584.09 473.27,594.36 473.45,594.63 473.63,597.88 473.81,586.70 473.99,589.38 474.17,591.07 474.35,595.78 474.53,595.65 474.71,588.07 474.89,593.85 475.07,587.91 475.25,589.90 475.43,577.89 475.61,577.76 475.79,589.12 475.97,579.19 476.15,586.96 476.33,585.88 476.51,573.57 476.69,576.73 476.87,577.39 477.05,573.73 477.23,570.88 477.41,576.45 477.59,574.85 477.77,571.96 477.95,575.17 478.13,575.07 478.31,582.89 478.49,580.46 478.67,574.43 478.85,579.49 479.03,573.34 479.21,580.19 479.39,576.57 479.57,579.58 479.75,574.81 479.93,577.42 480.11,576.34 480.29,568.30 480.47,569.94 480.65,573.27 480.83,574.62 481.01,572.94 481.19,578.35 481.37,580.68 481.55,592.98 481.73,584.22 481.91,590.79 482.09,606.26 482.27,598.56 482.45,585.30 482.63,579.78 482.81,589.55 482.99,579.72 483.17,591.57 483.35,583.14 483.53,577.86 483.71,588.26 483.89,578.85 484.07,588.72 484.25,587.50 484.43,590.28 484.61,582.45 484.79,586.13 484.97,589.60 485.15,598.82 485.33,598.78 485.51,595.68 485.69,598.12 485.87,590.03 486.05,588.66 486.23,583.98 486.41,587.68 486.59,580.15 486.77,579.07 486.95,588.04 487.13,587.56 487.31,584.15 487.49,583.07 487.67,592.19 487.85,593.16 488.03,585.22 488.21,591.88 488.39,596.74 488.57,591.70 488.75,590.87 488.93,594.76 489.11,600.11 489.29,602.93 489.47,597.48 489.65,603.69 489.83,602.81 490.01,608.19 490.19,599.51 490.37,602.85 490.55,612.54 490.73,617.29 490.91,612.31 491.09,618.30 491.27,617.27 491.45,611.52 491.63,626.47 491.81,613.93 491.99,613.90 492.17,618.47 492.35,621.88 492.53,614.53 492.71,602.65 492.89,597.07 493.07,606.95 493.25,601.60 493.43,588.67 493.61,588.61 493.79,604.69 493.97,604.22 494.15,589.27 494.33,594.12 494.51,609.01 494.69,598.29 494.87,596.47 495.05,598.27 495.23,613.23 495.41,601.48 495.59,612.13 495.77,602.41 495.95,614.50 496.13,608.09 496.31,612.24 496.49,611.77 496.67,609.19 496.85,606.73 497.03,618.37 497.21,619.50 497.39,619.26 497.57,622.38 497.75,615.15 497.93,622.31 498.11,616.60 498.29,618.04 498.47,622.86 498.65,620.39 498.83,627.94 499.01,624.13 499.19,625.76 499.37,623.13 499.55,628.36 499.73,631.21 499.91,624.17 500.09,625.20 500.27,631.83 500.45,625.27 500.63,632.29 500.81,625.63 500.99,628.10 501.17,632.56 501.35,632.88 501.53,626.35 501.71,634.86 501.89,629.30 502.07,628.43 502.25,635.06 502.43,633.47 502.61,637.98 502.79,631.00 502.97,630.07 503.15,630.61 503.33,632.72 503.51,636.05 503.69,635.81 503.87,634.01 504.05,633.90 504.23,625.15 504.41,620.70 504.59,626.88 504.77,624.54 504.95,615.30 505.13,616.09 505.31,612.37 505.49,617.82 505.67,616.74 505.85,602.86 506.03,609.27 506.21,602.93 506.39,608.09 506.57,599.95 506.75,604.71 506.93,597.17 507.11,611.52 507.29,602.50 507.47,613.09 507.65,600.97 507.83,611.44 508.01,612.69 508.19,611.09 508.37,609.34 508.55,606.94 508.73,608.95 508.91,606.94 509.09,616.00 509.27,613.69 509.45,615.10 509.63,616.24 509.81,606.94 509.99,609.74 510.17,609.76 510.35,607.58 510.53,606.44 510.71,605.60 510.89,607.90 511.07,612.67 511.25,609.87 511.43,609.05 511.61,608.07 511.79,604.75 511.97,610.63 512.15,610.61 512.33,613.38 512.51,612.99 512.69,621.33 512.87,615.55 513.05,619.05 513.23,619.68 513.41,620.58 513.59,625.35 513.77,623.37 513.95,618.43 514.13,612.01 514.31,616.31 514.49,610.91 514.67,606.61 514.85,609.24 515.03,604.78 515.21,603.58 515.39,604.99 515.57,605.39 515.75,594.24 515.93,597.67 516.11,596.57 516.29,594.13 516.47,590.59 516.65,596.66 516.83,582.93 517.01,584.67 517.19,591.26 517.37,582.71 517.55,586.18 517.73,585.86 517.91,574.73 518.09,572.09 518.27,570.94 518.45,574.85 518.63,576.43 518.81,575.71 518.99,582.57 519.17,586.20 519.35,583.79 519.53,580.48 519.71,579.58 519.89,584.91 520.07,587.89 520.25,593.39 520.43,586.06 520.61,587.86 520.79,589.66 520.97,592.37 521.15,599.72 521.33,602.03 521.51,599.45 521.69,597.72 521.87,602.53 522.05,599.16 522.23,600.32 522.41,607.17 522.59,601.32 522.77,604.97 522.95,605.00 523.13,608.69 523.31,605.03 523.49,608.36 523.67,615.03 523.85,610.89 524.03,612.42 524.21,614.15 524.39,615.81 524.57,617.61 524.75,623.57 524.93,620.53 525.11,621.56 525.29,628.55 525.47,627.36 525.65,623.41 525.83,630.61 526.01,628.69 526.19,626.41 526.37,635.96 526.55,629.20 526.73,630.95 526.91,634.75 527.09,635.22 527.27,636.01 527.45,634.98 527.63,636.08 527.81,639.82 527.99,637.50 528.17,639.12 528.35,643.92 528.53,644.23 528.71,639.71 528.89,638.26 529.07,647.62 529.25,636.50 529.43,643.92 529.61,644.38 529.79,637.24 529.97,640.12 530.15,655.33 530.33,655.25 530.51,652.80 530.69,653.71 530.87,654.07 531.05,643.81 531.23,653.84 531.41,639.73 531.59,645.80 531.77,640.36 531.95,639.40 532.13,645.29 532.31,639.26 532.49,647.40 532.67,646.50 532.85,645.60 533.03,642.69 533.21,633.96 533.39,637.53 533.57,626.73 533.75,635.32 533.93,631.21 534.11,625.60 534.29,613.77 534.47,625.96 534.65,612.38 534.83,614.26 535.01,609.83 535.19,611.11 535.37,615.90 535.55,624.17 535.73,618.08 535.91,631.05 536.09,634.73 536.27,624.48 536.45,632.35 536.63,615.02 536.81,611.69 536.99,607.19 537.17,605.64 537.35,612.61 537.53,598.17 537.71,591.99 537.89,593.28 538.07,584.32 538.25,582.34 538.43,592.52 538.61,591.51 538.79,589.53 538.97,575.05 539.15,579.11 539.33,577.41 539.51,581.61 539.69,576.92 539.87,567.67 540.05,563.90 540.23,565.26 540.41,561.02 540.59,569.27 540.77,568.10 540.95,572.87 541.13,574.67 541.31,569.56 541.49,570.62 541.67,570.99 541.85,578.67 542.03,583.67 542.21,575.36 542.39,575.83 542.57,572.62 542.75,572.63 542.93,579.12 543.11,579.75 543.29,569.85 543.47,572.89 543.65,567.74 543.83,568.78 544.01,571.33 544.19,580.32" fill="none" stroke="#000" stroke-width="1.0" stroke-linejoin="round" opacity="1.0"/>
<rect x="62.80" y="757.30" width="182.60" height="183.50" fill="none" stroke="#222" stroke-width="1.0"/>
<path d="M99.32 940.80v-6.0M99.32 757.30v6.0M135.84 940.80v-6.0M135.84 757.30v6.0M172.36 940.80v-6.0M172.36 757.30v6.0M208.88 940.80v-6.0M208.88 757.30v6.0M81.06 940.80v-3.5M81.06 757.30v3.5M117.58 940.80v-3.5M117.58 757.30v3.5M154.10 940.80v-3.5M154.10 757.30v3.5M190.62 940.80v-3.5M190.62 757.30v3.5M227.14 940.80v-3.5M227.14 757.30v3.5M62.80 910.22h6.0M245.40 910.22h-6.0M62.80 879.63h6.0M245.40 879.63h-6.0M62.80 849.05h6.0M245.40 849.05h-6.0M62.80 818.47h6.0M245.40 818.47h-6.0M62.80 787.88h6.0M245.40 787.88h-6.0M62.80 925.51h3.5M245.40 925.51h-3.5M62.80 894.92h3.5M245.40 894.92h-3.5M62.80 864.34h3.5M245.40 864.34h-3.5M62.80 833.76h3.5M245.40 833.76h-3.5M62.80 803.17h3.5M245.40 803.17h-3.5M62.80 772.59h3.5M245.40 772.59h-3.5" stroke="#222" stroke-width="1.0" fill="none"/>
<text x="62.80" y="949.00" font-family='"Liberation Serif", serif' font-size="8.1" font-weight="bold" text-anchor="middle" fill="#000" >0</text>
<text x="99.32" y="949.00" font-family='"Liberation Serif", serif' font-size="8.1" font-weight="bold" text-anchor="middle" fill="#000" >200</text>
<text x="135.84" y="949.00" font-family='"Liberation Serif", serif' font-size="8.1" font-weight="bold" text-anchor="middle" fill="#000" >400</text>
<text x="172.36" y="949.00" font-family='"Liberation Serif", serif' font-size="8.1" font-weight="bold" text-anchor="middle" fill="#000" >600</text>
<text x="208.88" y="949.00" font-family='"Liberation Serif", serif' font-size="8.1" font-weight="bold" text-anchor="middle" fill="#000" >800</text>
<text x="245.40" y="949.00" font-family='"Liberation Serif", serif' font-size="8.1" font-weight="bold" text-anchor="middle" fill="#000" >1000</text>
<text x="59.80" y="944.55" font-family='"Liberation Serif", serif' font-size="8.1" font-weight="bold" text-anchor="end" fill="#000" >540</text>
<text x="59.80" y="913.97" font-family='"Liberation Serif", serif' font-size="8.1" font-weight="bold" text-anchor="end" fill="#000" >550</text>
<text x="59.80" y="883.39" font-family='"Liberation Serif", serif' font-size="8.1" font-weight="bold" text-anchor="end" fill="#000" >560</text>
<text x="59.80" y="852.80" font-family='"Liberation Serif", serif' font-size="8.1" font-weight="bold" text-anchor="end" fill="#000" >570</text>
<text x="59.80" y="822.22" font-family='"Liberation Serif", serif' font-size="8.1" font-weight="bold" text-anchor="end" fill="#000" >580</text>
<text x="59.80" y="791.64" font-family='"Liberation Serif", serif' font-size="8.1" font-weight="bold" text-anchor="end" fill="#000" >590</text>
<text x="59.80" y="761.05" font-family='"Liberation Serif", serif' font-size="8.1" font-weight="bold" text-anchor="end" fill="#000" >600</text>
<text x="154.40" y="740.90" font-family='"Liberation Serif", serif' font-size="11.8" font-weight="bold" text-anchor="middle" fill="#000"  textLength="139.0" lengthAdjust="spacingAndGlyphs">Solvent Accessible Surface</text>
<text x="154.50" y="956.90" font-family='"Liberation Serif", serif' font-size="7.3" font-weight="bold" text-anchor="middle" fill="#000"  textLength="32.2" lengthAdjust="spacingAndGlyphs">Time (ps)</text>
<text font-family='"Liberation Serif", serif' font-size="7.2" font-weight="bold" text-anchor="middle" transform="translate(41.9,849.1) rotate(-90)" textLength="32.6" lengthAdjust="spacingAndGlyphs">Area (nm<tspan font-size="4.8" dy="-5.5">2</tspan><tspan dy="5.5">)</tspan></text>
<text transform="translate(164.20,975.50) scale(1,0.95)" font-family='"Liberation Sans", sans-serif' font-size="15.2" text-anchor="middle" fill="#000" stroke="#000" stroke-width="0.4">(i)</text>
<text transform="translate(2.10,851.80) scale(1,0.97)" font-family='"Liberation Sans", sans-serif' font-size="15.0" text-anchor="start" fill="#000" stroke="#000" stroke-width="0.1">D</text>
<rect x="254.3" y="770.0" width="37.40" height="11.00" fill="none" stroke="#222" stroke-width="0.9"/>
<line x1="257.8" y1="775.5" x2="264.3" y2="775.5" stroke="#000" stroke-width="0.9"/>
<text x="270.20" y="778.30" font-family='"Liberation Serif", serif' font-size="7.5" font-weight="bold" text-anchor="start" fill="#000"  textLength="17.8" lengthAdjust="spacingAndGlyphs">Total</text>
<polyline points="62.81,808.54 62.99,799.87 63.17,810.27 63.35,811.03 63.53,792.44 63.71,795.31 63.89,802.86 64.07,798.35 64.25,798.23 64.43,791.73 64.61,801.19 64.79,798.54 64.97,791.59 65.15,797.17 65.33,790.72 65.51,781.33 65.69,788.46 65.87,780.41 66.05,791.53 66.23,785.15 66.41,784.22 66.59,781.25 66.77,793.13 66.95,783.85 67.13,782.28 67.31,782.81 67.49,788.70 67.67,787.75 67.85,788.25 68.03,788.55 68.21,799.31 68.39,782.93 68.57,782.17 68.75,779.37 68.93,789.81 69.11,793.18 69.29,783.83 69.47,777.28 69.65,776.95 69.83,788.67 70.01,789.12 70.19,787.47 70.37,777.56 70.55,785.79 70.73,785.22 70.91,786.46 71.09,792.42 71.27,787.28 71.45,791.67 71.63,786.66 71.81,789.08 71.99,792.48 72.17,775.98 72.35,785.72 72.53,785.30 72.71,784.87 72.89,788.00 73.07,800.79 73.25,785.96 73.43,797.81 73.61,779.67 73.79,788.89 73.97,792.85 74.15,796.47 74.33,797.84 74.51,798.90 74.69,788.56 74.87,787.53 75.05,800.92 75.23,792.26 75.41,783.70 75.59,786.54 75.77,789.67 75.95,801.02 76.13,798.82 76.31,803.86 76.49,796.98 76.67,800.37 76.85,803.69 77.03,798.59 77.21,802.84 77.39,797.72 77.57,799.43 77.75,799.70 77.93,796.40 78.11,804.59 78.29,800.15 78.47,803.48 78.65,808.24 78.83,809.11 79.01,812.87 79.19,804.66 79.37,802.01 79.55,805.54 79.73,789.29 79.91,791.48 80.09,792.47 80.27,795.20 80.45,808.29 80.63,795.42 80.81,799.45 80.99,814.10 81.17,799.22 81.35,809.00 81.53,795.40 81.71,801.48 81.89,795.99 82.07,801.15 82.25,811.73 82.43,790.95 82.61,808.80 82.79,808.06 82.97,802.04 83.15,795.62 83.33,809.81 83.51,805.41 83.69,813.42 83.87,812.60 84.05,827.88 84.23,811.84 84.41,804.21 84.59,815.64 84.77,815.95 84.95,827.98 85.13,822.55 85.31,817.23 85.49,830.26 85.67,804.60 85.85,807.93 86.03,805.14 86.21,808.10 86.39,800.21 86.57,815.75 86.75,807.04 86.93,796.80 87.11,799.41 87.29,809.01 87.47,813.67 87.65,823.72 87.83,824.55 88.01,812.07 88.19,801.99 88.37,795.49 88.55,812.57 88.73,805.21 88.91,808.32 89.09,806.49 89.27,810.61 89.45,821.46 89.63,814.02 89.81,810.91 89.99,798.03 90.17,786.73 90.35,805.65 90.53,813.36 90.71,828.55 90.89,815.35 91.07,822.47 91.25,808.28 91.43,801.58 91.61,805.18 91.79,808.39 91.97,832.24 92.15,809.32 92.33,823.20 92.51,809.96 92.69,825.48 92.87,821.29 93.05,817.37 93.23,818.96 93.41,814.90 93.59,824.59 93.77,817.17 93.95,811.29 94.13,811.06 94.31,822.94 94.49,836.74 94.67,823.22 94.85,820.90 95.03,824.88 95.21,834.86 95.39,823.40 95.57,817.73 95.75,830.81 95.93,823.68 96.11,833.47 96.29,820.22 96.47,810.76 96.65,809.73 96.83,833.00 97.01,834.53 97.19,816.78 97.37,815.57 97.55,834.22 97.73,810.55 97.91,812.02 98.09,826.59 98.27,815.91 98.45,819.15 98.63,818.08 98.81,823.01 98.99,833.24 99.17,820.72 99.35,825.43 99.53,804.54 99.71,820.07 99.89,813.31 100.07,809.07 100.25,811.04 100.43,815.33 100.61,826.94 100.79,803.23 100.97,817.30 101.15,810.71 101.33,811.85 101.51,828.25 101.69,822.99 101.87,831.92 102.05,816.29 102.23,811.24 102.41,816.79 102.59,821.71 102.77,821.58 102.95,810.73 103.13,821.67 103.31,823.06 103.49,836.58 103.67,835.78 103.85,812.42 104.03,819.26 104.21,804.48 104.39,815.66 104.57,826.24 104.75,833.41 104.93,817.15 105.11,819.24 105.29,807.13 105.47,826.18 105.65,819.51 105.83,825.10 106.01,823.87 106.19,829.07 106.37,817.25 106.55,818.91 106.73,849.18 106.91,819.50 107.09,820.58 107.27,848.44 107.45,850.54 107.63,818.90 107.81,824.80 107.99,831.25 108.17,845.84 108.35,817.40 108.53,824.00 108.71,834.17 108.89,830.19 109.07,821.19 109.25,823.95 109.43,811.46 109.61,823.78 109.79,824.00 109.97,828.79 110.15,822.59 110.33,831.13 110.51,835.18 110.69,829.35 110.87,831.19 111.05,829.72 111.23,829.90 111.41,825.21 111.59,833.11 111.77,830.79 111.95,845.54 112.13,843.20 112.31,835.84 112.49,828.03 112.67,826.21 112.85,845.39 113.03,838.42 113.21,841.33 113.39,825.20 113.57,847.97 113.75,843.95 113.93,831.29 114.11,835.20 114.29,841.01 114.47,838.47 114.65,835.10 114.83,836.31 115.01,834.53 115.19,837.77 115.37,847.77 115.55,817.29 115.73,835.29 115.91,839.55 116.09,841.12 116.27,836.62 116.45,826.67 116.63,843.39 116.81,853.64 116.99,832.12 117.17,848.64 117.35,840.96 117.53,843.12 117.71,836.80 117.89,842.00 118.07,853.38 118.25,848.90 118.43,857.01 118.61,853.51 118.79,848.53 118.97,857.82 119.15,848.65 119.33,851.56 119.51,843.70 119.69,845.99 119.87,841.47 120.05,853.25 120.23,839.39 120.41,854.97 120.59,846.44 120.77,863.47 120.95,859.72 121.13,878.03 121.31,862.77 121.49,840.74 121.67,851.41 121.85,844.50 122.03,849.45 122.21,874.05 122.39,861.63 122.57,849.85 122.75,848.27 122.93,855.87 123.11,847.98 123.29,851.93 123.47,857.87 123.65,861.98 123.83,859.42 124.01,844.11 124.19,857.99 124.37,856.79 124.55,858.67 124.73,865.46 124.91,844.44 125.09,851.90 125.27,858.37 125.45,844.60 125.63,862.98 125.81,855.56 125.99,858.18 126.17,848.33 126.35,857.20 126.53,858.99 126.71,852.69 126.89,852.43 127.07,852.46 127.25,844.60 127.43,848.60 127.61,848.23 127.79,852.57 127.97,859.21 128.15,841.29 128.33,847.23 128.51,868.44 128.69,841.39 128.87,840.00 129.05,850.84 129.23,862.42 129.41,847.28 129.59,871.16 129.77,861.83 129.95,860.78 130.13,855.80 130.31,874.65 130.49,846.12 130.67,829.41 130.85,864.29 131.03,844.61 131.21,850.02 131.39,861.18 131.57,836.73 131.75,840.27 131.93,838.28 132.11,845.01 132.29,855.16 132.47,856.28 132.65,853.60 132.83,839.91 133.01,834.11 133.19,848.37 133.37,843.03 133.55,850.15 133.73,851.52 133.91,844.91 134.09,850.13 134.27,844.93 134.45,848.02 134.63,837.35 134.81,842.25 134.99,845.75 135.17,850.90 135.35,841.67 135.53,848.88 135.71,843.72 135.89,846.15 136.07,853.67 136.25,834.75 136.43,841.36 136.61,841.45 136.79,839.25 136.97,849.92 137.15,860.13 137.33,854.59 137.51,857.84 137.69,863.35 137.87,865.12 138.05,856.76 138.23,865.99 138.41,858.19 138.59,852.13 138.77,853.94 138.95,848.29 139.13,852.92 139.31,857.38 139.49,867.02 139.67,875.29 139.85,850.79 140.03,866.30 140.21,854.52 140.39,868.47 140.57,862.60 140.75,847.48 140.93,873.72 141.11,857.57 141.29,857.88 141.47,853.21 141.65,856.33 141.83,867.82 142.01,859.61 142.19,865.85 142.37,866.05 142.55,878.17 142.73,858.59 142.91,850.54 143.09,872.40 143.27,858.80 143.45,871.17 143.63,864.78 143.81,860.48 143.99,865.01 144.17,881.30 144.35,882.49 144.53,862.88 144.71,864.06 144.89,874.39 145.07,855.23 145.25,866.90 145.43,863.64 145.61,867.53 145.79,858.37 145.97,853.36 146.15,851.29 146.33,858.62 146.51,863.96 146.69,865.66 146.87,883.81 147.05,877.78 147.23,862.77 147.41,872.74 147.59,867.59 147.77,868.96 147.95,873.06 148.13,877.52 148.31,869.15 148.49,881.93 148.67,860.67 148.85,870.67 149.03,893.30 149.21,872.56 149.39,887.53 149.57,870.35 149.75,876.08 149.93,864.88 150.11,862.26 150.29,855.63 150.47,867.96 150.65,854.15 150.83,868.78 151.01,872.34 151.19,863.52 151.37,856.82 151.55,862.53 151.73,855.79 151.91,866.67 152.09,844.00 152.27,855.34 152.45,841.75 152.63,845.41 152.81,870.64 152.99,866.29 153.17,851.38 153.35,844.84 153.53,841.31 153.71,855.89 153.89,880.55 154.07,867.12 154.25,858.98 154.43,869.56 154.61,851.86 154.79,864.65 154.97,869.21 155.15,868.13 155.33,879.26 155.51,874.92 155.69,880.60 155.87,865.43 156.05,887.16 156.23,901.49 156.41,864.98 156.59,866.46 156.77,899.22 156.95,874.36 157.13,900.78 157.31,873.47 157.49,901.96 157.67,881.10 157.85,883.73 158.03,904.08 158.21,877.54 158.39,872.71 158.57,877.58 158.75,888.28 158.93,868.77 159.11,891.27 159.29,878.49 159.47,898.31 159.65,867.49 159.83,877.53 160.01,870.42 160.19,877.57 160.37,887.36 160.55,883.18 160.73,882.76 160.91,883.70 161.09,887.35 161.27,877.18 161.45,893.18 161.63,893.19 161.81,891.09 161.99,893.18 162.17,891.48 162.35,905.86 162.53,889.70 162.71,888.63 162.89,885.71 163.07,883.95 163.25,882.78 163.43,886.04 163.61,892.72 163.79,895.50 163.97,894.25 164.15,888.83 164.33,899.07 164.51,898.47 164.69,893.92 164.87,890.65 165.05,898.22 165.23,896.18 165.41,885.90 165.59,894.59 165.77,896.95 165.95,889.70 166.13,896.59 166.31,886.57 166.49,906.62 166.67,906.22 166.85,894.16 167.03,899.13 167.21,882.93 167.39,888.52 167.57,894.47 167.75,888.79 167.93,901.66 168.11,913.05 168.29,883.75 168.47,884.66 168.65,891.55 168.83,905.15 169.01,877.67 169.19,887.57 169.37,904.13 169.55,868.20 169.73,868.36 169.91,873.74 170.09,870.61 170.27,882.47 170.45,874.78 170.63,848.14 170.81,873.63 170.99,859.89 171.17,880.41 171.35,860.74 171.53,861.41 171.71,874.85 171.89,877.72 172.07,874.84 172.25,854.92 172.43,876.82 172.61,862.85 172.79,874.54 172.97,861.52 173.15,878.11 173.33,867.98 173.51,865.28 173.69,882.58 173.87,878.55 174.05,872.63 174.23,890.76 174.41,874.24 174.59,877.60 174.77,879.80 174.95,873.00 175.13,881.67 175.31,873.60 175.49,874.44 175.67,889.94 175.85,869.60 176.03,861.88 176.21,890.40 176.39,893.28 176.57,870.97 176.75,858.45 176.93,870.16 177.11,869.60 177.29,869.61 177.47,862.39 177.65,877.57 177.83,877.90 178.01,862.00 178.19,881.08 178.37,893.00 178.55,878.27 178.73,874.98 178.91,877.47 179.09,884.32 179.27,866.16 179.45,881.75 179.63,877.92 179.81,897.54 179.99,880.69 180.17,897.49 180.35,875.20 180.53,889.02 180.71,887.17 180.89,878.56 181.07,887.23 181.25,896.50 181.43,884.50 181.61,873.59 181.79,888.44 181.97,881.23 182.15,886.87 182.33,890.01 182.51,876.45 182.69,878.38 182.87,898.16 183.05,889.43 183.23,878.81 183.41,906.05 183.59,899.88 183.77,891.52 183.95,887.48 184.13,909.84 184.31,902.66 184.49,925.45 184.67,903.86 184.85,903.54 185.03,897.63 185.21,908.54 185.39,906.36 185.57,912.41 185.75,894.57 185.93,895.08 186.11,894.47 186.29,905.81 186.47,912.18 186.65,893.91 186.83,893.92 187.01,899.54 187.19,894.35 187.37,904.13 187.55,880.34 187.73,888.30 187.91,887.99 188.09,877.94 188.27,885.28 188.45,885.00 188.63,890.15 188.81,900.78 188.99,889.50 189.17,883.29 189.35,890.63 189.53,900.08 189.71,883.55 189.89,883.97 190.07,895.45 190.25,888.61 190.43,895.79 190.61,889.33 190.79,895.57 190.97,881.51 191.15,888.26 191.33,886.52 191.51,879.17 191.69,876.40 191.87,893.18 192.05,883.59 192.23,877.73 192.41,883.94 192.59,893.21 192.77,866.68 192.95,869.74 193.13,873.69 193.31,891.55 193.49,882.35 193.67,885.23 193.85,868.36 194.03,867.83 194.21,881.09 194.39,877.26 194.57,880.75 194.75,873.59 194.93,877.14 195.11,875.64 195.29,881.62 195.47,882.15 195.65,860.25 195.83,857.08 196.01,884.58 196.19,886.39 196.37,867.24 196.55,859.82 196.73,878.23 196.91,885.49 197.09,893.27 197.27,882.91 197.45,875.63 197.63,871.56 197.81,879.69 197.99,877.45 198.17,871.99 198.35,898.93 198.53,896.68 198.71,890.78 198.89,873.66 199.07,888.27 199.25,886.53 199.43,885.04 199.61,891.04 199.79,886.54 199.97,887.44 200.15,887.06 200.33,885.16 200.51,869.08 200.69,883.61 200.87,878.99 201.05,873.98 201.23,898.41 201.41,899.46 201.59,896.16 201.77,885.56 201.95,895.36 202.13,882.59 202.31,884.00 202.49,874.16 202.67,885.08 202.85,881.60 203.03,871.62 203.21,879.96 203.39,879.39 203.57,895.66 203.75,887.11 203.93,878.98 204.11,880.65 204.29,878.53 204.47,876.19 204.65,868.71 204.83,876.42 205.01,872.13 205.19,868.58 205.37,883.89 205.55,883.45 205.73,865.85 205.91,879.89 206.09,891.47 206.27,892.92 206.45,892.89 206.63,883.13 206.81,876.83 206.99,875.71 207.17,886.99 207.35,887.58 207.53,895.73 207.71,894.18 207.89,884.48 208.07,877.89 208.25,883.12 208.43,887.00 208.61,883.41 208.79,880.79 208.97,887.31 209.15,880.78 209.33,879.69 209.51,888.07 209.69,880.66 209.87,886.26 210.05,886.13 210.23,874.45 210.41,878.67 210.59,897.31 210.77,873.21 210.95,867.03 211.13,867.63 211.31,880.17 211.49,879.47 211.67,877.55 211.85,888.99 212.03,860.59 212.21,879.97 212.39,890.05 212.57,864.72 212.75,870.63 212.93,867.62 213.11,866.94 213.29,872.36 213.47,888.73 213.65,892.89 213.83,873.62 214.01,894.24 214.19,877.27 214.37,893.55 214.55,877.01 214.73,879.17 214.91,881.48 215.09,895.21 215.27,885.89 215.45,874.54 215.63,887.05 215.81,877.66 215.99,877.10 216.17,886.46 216.35,880.00 216.53,881.36 216.71,879.16 216.89,881.05 217.07,881.30 217.25,864.52 217.43,882.26 217.61,870.48 217.79,867.27 217.97,877.26 218.15,878.41 218.33,872.85 218.51,883.45 218.69,868.01 218.87,875.38 219.05,874.08 219.23,878.60 219.41,880.91 219.59,871.80 219.77,883.95 219.95,880.74 220.13,866.69 220.31,866.81 220.49,881.40 220.67,880.29 220.85,881.37 221.03,881.71 221.21,882.91 221.39,886.74 221.57,872.43 221.75,871.46 221.93,871.65 222.11,882.71 222.29,889.08 222.47,876.52 222.65,862.75 222.83,865.83 223.01,873.27 223.19,875.51 223.37,876.63 223.55,879.66 223.73,877.21 223.91,886.33 224.09,874.91 224.27,873.53 224.45,881.82 224.63,868.75 224.81,880.84 224.99,878.66 225.17,876.80 225.35,888.63 225.53,873.13 225.71,891.39 225.89,875.95 226.07,868.46 226.25,878.43 226.43,870.00 226.61,872.52 226.79,881.55 226.97,883.03 227.15,873.81 227.33,886.98 227.51,888.52 227.69,891.02 227.87,883.45 228.05,890.76 228.23,864.99 228.41,876.60 228.59,872.72 228.77,880.01 228.95,874.85 229.13,877.48 229.31,894.68 229.49,877.10 229.67,881.45 229.85,876.31 230.03,878.31 230.21,877.60 230.39,880.55 230.57,885.41 230.75,888.76 230.93,879.46 231.11,881.40 231.29,869.30 231.47,876.69 231.65,883.84 231.83,883.32 232.01,878.78 232.19,883.01 232.37,879.53 232.55,883.75 232.73,876.69 232.91,871.06 233.09,875.58 233.27,855.18 233.45,874.46 233.63,852.70 233.81,854.83 233.99,874.62 234.17,875.16 234.35,860.31 234.53,865.09 234.71,882.45 234.89,867.95 235.07,887.54 235.25,873.98 235.43,877.74 235.61,887.23 235.79,877.98 235.97,867.51 236.15,878.09 236.33,879.95 236.51,867.97 236.69,880.02 236.87,876.63 237.05,890.41 237.23,884.95 237.41,882.95 237.59,884.98 237.77,887.62 237.95,890.24 238.13,880.81 238.31,881.48 238.49,893.66 238.67,884.71 238.85,876.97 239.03,886.29 239.21,884.90 239.39,870.83 239.57,880.46 239.75,882.15 239.93,878.30 240.11,878.57 240.29,864.32 240.47,876.39 240.65,871.98 240.83,870.73 241.01,880.14 241.19,884.37 241.37,886.56 241.55,883.23 241.73,873.32 241.91,876.54 242.09,879.42 242.27,874.93 242.45,875.00 242.63,879.81 242.81,873.58 242.99,867.69 243.17,870.35 243.35,878.50 243.53,874.49 243.71,877.01 243.89,879.31 244.07,872.07 244.25,880.17 244.43,878.31 244.61,865.18 244.79,884.00 244.97,872.66 245.15,861.96" fill="none" stroke="#000" stroke-width="0.7" stroke-linejoin="round" opacity="1.0"/>
<rect x="361.70" y="770.00" width="196.30" height="170.90" fill="none" stroke="#222" stroke-width="1.0"/>
<path d="M400.96 940.90v-6.0M400.96 770.00v6.0M440.22 940.90v-6.0M440.22 770.00v6.0M479.48 940.90v-6.0M479.48 770.00v6.0M518.74 940.90v-6.0M518.74 770.00v6.0M381.33 940.90v-3.5M381.33 770.00v3.5M420.59 940.90v-3.5M420.59 770.00v3.5M459.85 940.90v-3.5M459.85 770.00v3.5M499.11 940.90v-3.5M499.11 770.00v3.5M538.37 940.90v-3.5M538.37 770.00v3.5M361.70 906.72h6.0M558.00 906.72h-6.0M361.70 872.54h6.0M558.00 872.54h-6.0M361.70 838.36h6.0M558.00 838.36h-6.0M361.70 804.18h6.0M558.00 804.18h-6.0M361.70 923.81h3.5M558.00 923.81h-3.5M361.70 889.63h3.5M558.00 889.63h-3.5M361.70 855.45h3.5M558.00 855.45h-3.5M361.70 821.27h3.5M558.00 821.27h-3.5M361.70 787.09h3.5M558.00 787.09h-3.5" stroke="#222" stroke-width="1.0" fill="none"/>
<text x="361.70" y="949.00" font-family='"Liberation Serif", serif' font-size="8.5" font-weight="bold" text-anchor="middle" fill="#000"  textLength="4.5" lengthAdjust="spacingAndGlyphs">0</text>
<text x="400.96" y="949.00" font-family='"Liberation Serif", serif' font-size="8.5" font-weight="bold" text-anchor="middle" fill="#000"  textLength="13.52" lengthAdjust="spacingAndGlyphs">200</text>
<text x="440.22" y="949.00" font-family='"Liberation Serif", serif' font-size="8.5" font-weight="bold" text-anchor="middle" fill="#000"  textLength="13.52" lengthAdjust="spacingAndGlyphs">400</text>
<text x="479.48" y="949.00" font-family='"Liberation Serif", serif' font-size="8.5" font-weight="bold" text-anchor="middle" fill="#000"  textLength="13.52" lengthAdjust="spacingAndGlyphs">600</text>
<text x="518.74" y="949.00" font-family='"Liberation Serif", serif' font-size="8.5" font-weight="bold" text-anchor="middle" fill="#000"  textLength="13.52" lengthAdjust="spacingAndGlyphs">800</text>
<text x="558.00" y="949.00" font-family='"Liberation Serif", serif' font-size="8.5" font-weight="bold" text-anchor="middle" fill="#000"  textLength="18.02" lengthAdjust="spacingAndGlyphs">1000</text>
<text x="358.70" y="944.79" font-family='"Liberation Serif", serif' font-size="8.5" font-weight="bold" text-anchor="end" fill="#000"  textLength="13.52" lengthAdjust="spacingAndGlyphs">550</text>
<text x="358.70" y="910.61" font-family='"Liberation Serif", serif' font-size="8.5" font-weight="bold" text-anchor="end" fill="#000"  textLength="13.52" lengthAdjust="spacingAndGlyphs">560</text>
<text x="358.70" y="876.43" font-family='"Liberation Serif", serif' font-size="8.5" font-weight="bold" text-anchor="end" fill="#000"  textLength="13.52" lengthAdjust="spacingAndGlyphs">570</text>
<text x="358.70" y="842.25" font-family='"Liberation Serif", serif' font-size="8.5" font-weight="bold" text-anchor="end" fill="#000"  textLength="13.52" lengthAdjust="spacingAndGlyphs">580</text>
<text x="358.70" y="808.07" font-family='"Liberation Serif", serif' font-size="8.5" font-weight="bold" text-anchor="end" fill="#000"  textLength="13.52" lengthAdjust="spacingAndGlyphs">590</text>
<text x="358.70" y="773.89" font-family='"Liberation Serif", serif' font-size="8.5" font-weight="bold" text-anchor="end" fill="#000"  textLength="13.52" lengthAdjust="spacingAndGlyphs">600</text>
<text x="460.40" y="755.30" font-family='"Liberation Serif", serif' font-size="11.3" font-weight="bold" text-anchor="middle" fill="#000"  textLength="150.6" lengthAdjust="spacingAndGlyphs">Solvent Accessible Surface</text>
<text x="460.40" y="956.30" font-family='"Liberation Serif", serif' font-size="7.2" font-weight="bold" text-anchor="middle" fill="#000"  textLength="34.8" lengthAdjust="spacingAndGlyphs">Time (ps)</text>
<text font-family='"Liberation Serif", serif' font-size="8.0" font-weight="bold" text-anchor="middle" transform="translate(339.9,855.7) rotate(-90)" textLength="30.7" lengthAdjust="spacingAndGlyphs">Area (nm<tspan font-size="5.5" dy="-5.8">2</tspan><tspan dy="5.8">)</tspan></text>
<text transform="translate(460.10,975.90) scale(1,0.95)" font-family='"Liberation Sans", sans-serif' font-size="15.2" text-anchor="middle" fill="#000" stroke="#000" stroke-width="0.4">(ii)</text>
<rect x="568.4" y="781.8" width="40.00" height="10.40" fill="none" stroke="#222" stroke-width="0.9"/>
<line x1="572.7" y1="787.3" x2="579.0" y2="787.3" stroke="#000" stroke-width="0.9"/>
<text x="585.50" y="790.20" font-family='"Liberation Serif", serif' font-size="7.5" font-weight="bold" text-anchor="start" fill="#000"  textLength="18.8" lengthAdjust="spacingAndGlyphs">Total</text>
<polyline points="361.97,817.70 362.16,831.12 362.35,825.68 362.54,823.39 362.73,826.46 362.92,828.55 363.11,821.21 363.30,819.29 363.49,802.45 363.68,822.61 363.87,810.21 364.06,826.74 364.25,830.70 364.44,789.46 364.63,830.12 364.82,800.02 365.01,794.41 365.20,805.39 365.39,812.42 365.58,821.82 365.77,834.45 365.96,790.58 366.15,802.70 366.34,810.86 366.53,800.75 366.72,790.76 366.91,806.07 367.10,809.25 367.29,815.06 367.48,808.70 367.67,827.30 367.86,816.99 368.05,823.84 368.24,808.81 368.43,801.05 368.62,827.03 368.81,823.27 369.00,828.24 369.19,822.20 369.38,818.02 369.57,819.16 369.76,837.38 369.95,814.67 370.14,817.96 370.33,819.17 370.52,822.64 370.71,841.60 370.90,811.45 371.09,836.58 371.28,815.41 371.47,812.83 371.66,809.30 371.85,822.73 372.04,831.39 372.23,806.88 372.42,814.38 372.61,813.60 372.80,811.42 372.99,807.75 373.18,822.96 373.37,827.88 373.56,823.70 373.75,816.43 373.94,825.21 374.13,835.20 374.32,830.20 374.51,837.70 374.70,825.29 374.89,836.90 375.08,834.46 375.27,821.01 375.46,824.35 375.65,819.33 375.84,826.06 376.03,822.53 376.22,823.99 376.41,822.47 376.60,818.71 376.79,828.58 376.98,815.25 377.17,824.08 377.36,808.53 377.55,816.69 377.74,831.87 377.93,823.42 378.12,828.46 378.31,818.71 378.50,814.87 378.69,819.05 378.88,827.93 379.07,825.46 379.26,842.62 379.45,843.70 379.64,836.42 379.83,824.38 380.02,830.73 380.21,826.19 380.40,825.26 380.59,826.36 380.78,828.43 380.97,825.96 381.16,827.13 381.35,814.12 381.54,822.69 381.73,830.88 381.92,829.45 382.11,815.61 382.30,826.17 382.49,824.00 382.68,814.19 382.87,823.49 383.06,826.33 383.25,823.64 383.44,838.97 383.63,822.41 383.82,829.66 384.01,832.73 384.20,834.03 384.39,828.55 384.58,836.82 384.77,836.32 384.96,849.19 385.15,845.00 385.34,836.30 385.53,846.84 385.72,831.32 385.91,840.59 386.10,850.91 386.29,827.09 386.48,848.48 386.67,845.21 386.86,837.30 387.05,849.01 387.24,833.82 387.43,850.97 387.62,844.11 387.81,852.93 388.00,835.06 388.19,849.49 388.38,851.35 388.57,833.52 388.76,858.82 388.95,830.21 389.14,863.35 389.33,863.60 389.52,830.78 389.71,858.74 389.90,842.68 390.09,842.00 390.28,841.04 390.47,817.25 390.66,835.61 390.85,832.19 391.04,839.09 391.23,812.65 391.42,834.03 391.61,842.57 391.80,828.90 391.99,839.57 392.18,839.91 392.37,834.19 392.56,838.54 392.75,842.85 392.94,828.00 393.13,842.05 393.32,836.06 393.51,838.45 393.70,835.71 393.89,835.31 394.08,844.40 394.27,842.78 394.46,837.96 394.65,826.95 394.84,842.78 395.03,843.83 395.22,856.74 395.41,830.77 395.60,840.85 395.79,835.29 395.98,807.31 396.17,826.95 396.36,843.96 396.55,830.07 396.74,860.40 396.93,846.85 397.12,837.00 397.31,855.84 397.50,838.32 397.69,857.48 397.88,846.50 398.07,850.12 398.26,838.17 398.45,843.84 398.64,848.97 398.83,846.38 399.02,853.72 399.21,872.52 399.40,842.43 399.59,837.60 399.78,854.99 399.97,838.55 400.16,865.31 400.35,838.61 400.54,831.97 400.73,849.07 400.92,824.65 401.11,836.72 401.30,853.09 401.49,814.81 401.68,848.22 401.87,838.96 402.06,846.17 402.25,854.05 402.44,849.29 402.63,851.17 402.82,842.17 403.01,858.47 403.20,850.98 403.39,830.78 403.58,860.87 403.77,836.86 403.96,861.77 404.15,839.84 404.34,853.79 404.53,862.11 404.72,844.24 404.91,851.19 405.10,854.54 405.29,822.22 405.48,870.53 405.67,842.69 405.86,851.36 406.05,847.06 406.24,856.65 406.43,846.56 406.62,828.75 406.81,855.18 407.00,822.52 407.19,854.95 407.38,829.88 407.57,856.14 407.76,852.79 407.95,848.11 408.14,843.91 408.33,848.39 408.52,841.28 408.71,859.93 408.90,858.27 409.09,868.99 409.28,841.65 409.47,844.16 409.66,844.92 409.85,832.43 410.04,838.12 410.23,854.34 410.42,866.25 410.61,845.13 410.80,842.72 410.99,863.71 411.18,833.89 411.37,856.81 411.56,832.57 411.75,850.57 411.94,844.95 412.13,850.61 412.32,846.28 412.51,839.85 412.70,841.45 412.89,839.35 413.08,854.27 413.27,836.13 413.46,854.82 413.65,842.79 413.84,836.82 414.03,858.84 414.22,838.23 414.41,838.43 414.60,844.41 414.79,846.26 414.98,852.79 415.17,851.83 415.36,841.55 415.55,843.30 415.74,842.23 415.93,837.16 416.12,843.50 416.31,837.23 416.50,845.34 416.69,841.84 416.88,844.04 417.07,852.12 417.26,852.12 417.45,860.81 417.64,840.80 417.83,853.32 418.02,862.20 418.21,843.02 418.40,844.38 418.59,848.38 418.78,856.12 418.97,844.76 419.16,860.91 419.35,846.53 419.54,834.92 419.73,854.31 419.92,850.49 420.11,851.49 420.30,862.91 420.49,844.97 420.68,842.43 420.87,849.59 421.06,837.58 421.25,845.15 421.44,843.68 421.63,851.89 421.82,845.43 422.01,846.15 422.20,842.30 422.39,864.48 422.58,854.62 422.77,858.44 422.96,863.64 423.15,860.76 423.34,852.55 423.53,853.40 423.72,874.75 423.91,846.83 424.10,850.80 424.29,864.17 424.48,858.56 424.67,864.85 424.86,840.37 425.05,845.46 425.24,853.97 425.43,843.28 425.62,871.67 425.81,848.96 426.00,845.47 426.19,850.56 426.38,855.32 426.57,865.57 426.76,853.75 426.95,847.17 427.14,853.71 427.33,854.38 427.52,847.89 427.71,862.53 427.90,846.93 428.09,840.60 428.28,855.17 428.47,855.56 428.66,837.46 428.85,851.47 429.04,840.50 429.23,847.64 429.42,849.26 429.61,846.59 429.80,853.53 429.99,851.55 430.18,848.94 430.37,850.80 430.56,858.11 430.75,850.51 430.94,855.31 431.13,859.76 431.32,866.35 431.51,843.11 431.70,865.30 431.89,847.32 432.08,868.88 432.27,873.45 432.46,872.91 432.65,861.87 432.84,848.35 433.03,859.66 433.22,850.16 433.41,873.05 433.60,865.17 433.79,867.97 433.98,856.52 434.17,840.81 434.36,859.52 434.55,859.50 434.74,876.91 434.93,862.27 435.12,861.25 435.31,844.57 435.50,851.15 435.69,843.88 435.88,875.88 436.07,875.25 436.26,863.42 436.45,865.65 436.64,857.86 436.83,857.06 437.02,846.01 437.21,860.30 437.40,853.06 437.59,870.87 437.78,861.08 437.97,862.28 438.16,868.74 438.35,864.07 438.54,857.59 438.73,859.43 438.92,849.20 439.11,864.25 439.30,855.92 439.49,863.06 439.68,858.97 439.87,865.87 440.06,865.02 440.25,862.10 440.44,864.57 440.63,851.82 440.82,864.68 441.01,842.05 441.20,858.85 441.39,859.47 441.58,861.79 441.77,852.42 441.96,855.21 442.15,833.41 442.34,850.28 442.53,837.58 442.72,851.12 442.91,862.31 443.10,832.65 443.29,834.94 443.48,857.38 443.67,845.10 443.86,859.91 444.05,837.84 444.24,835.42 444.43,856.32 444.62,860.43 444.81,834.26 445.00,844.74 445.19,856.01 445.38,837.04 445.57,828.10 445.76,836.99 445.95,848.03 446.14,865.09 446.33,846.13 446.52,836.28 446.71,840.86 446.90,819.00 447.09,834.00 447.28,826.21 447.47,837.75 447.66,861.38 447.85,830.63 448.04,852.46 448.23,849.40 448.42,847.82 448.61,843.65 448.80,849.60 448.99,856.17 449.18,863.36 449.37,845.70 449.56,858.32 449.75,849.07 449.94,862.08 450.13,860.41 450.32,841.76 450.51,852.60 450.70,847.41 450.89,853.69 451.08,856.20 451.27,857.00 451.46,862.78 451.65,860.64 451.84,863.38 452.03,867.07 452.22,849.53 452.41,852.30 452.60,839.93 452.79,844.23 452.98,857.78 453.17,853.86 453.36,853.36 453.55,861.33 453.74,849.35 453.93,847.25 454.12,848.43 454.31,857.33 454.50,834.02 454.69,827.18 454.88,845.44 455.07,828.51 455.26,842.70 455.45,831.69 455.64,831.09 455.83,837.27 456.02,821.31 456.21,826.95 456.40,840.98 456.59,852.93 456.78,854.60 456.97,850.81 457.16,834.21 457.35,839.46 457.54,867.91 457.73,857.02 457.92,854.34 458.11,850.63 458.30,849.83 458.49,842.37 458.68,836.19 458.87,843.02 459.06,861.48 459.25,850.66 459.44,855.14 459.63,859.06 459.82,857.15 460.01,826.10 460.20,856.77 460.39,848.65 460.58,858.92 460.77,865.99 460.96,848.08 461.15,851.21 461.34,841.64 461.53,849.44 461.72,848.57 461.91,837.56 462.10,862.65 462.29,856.54 462.48,866.09 462.67,847.09 462.86,854.62 463.05,840.40 463.24,844.86 463.43,856.34 463.62,849.37 463.81,852.69 464.00,852.69 464.19,846.04 464.38,861.55 464.57,863.71 464.76,869.82 464.95,849.38 465.14,855.94 465.33,851.97 465.52,852.55 465.71,866.24 465.90,874.38 466.09,858.70 466.28,860.90 466.47,857.60 466.66,855.63 466.85,856.93 467.04,872.77 467.23,873.71 467.42,869.81 467.61,867.80 467.80,855.88 467.99,866.12 468.18,871.66 468.37,862.73 468.56,874.11 468.75,883.97 468.94,867.03 469.13,870.67 469.32,862.84 469.51,873.20 469.70,871.83 469.89,848.81 470.08,860.77 470.27,853.10 470.46,877.88 470.65,883.96 470.84,874.43 471.03,855.25 471.22,867.16 471.41,855.80 471.60,886.80 471.79,867.31 471.98,873.52 472.17,868.31 472.36,887.13 472.55,863.10 472.74,889.00 472.93,878.49 473.12,869.34 473.31,866.66 473.50,883.88 473.69,870.84 473.88,875.30 474.07,869.77 474.26,879.29 474.45,870.09 474.64,871.95 474.83,871.13 475.02,880.29 475.21,870.26 475.40,854.04 475.59,882.03 475.78,871.50 475.97,860.60 476.16,859.62 476.35,874.13 476.54,863.77 476.73,863.85 476.92,849.86 477.11,870.28 477.30,867.53 477.49,889.44 477.68,871.65 477.87,868.28 478.06,878.44 478.25,883.41 478.44,881.21 478.63,878.64 478.82,885.88 479.01,863.60 479.20,864.21 479.39,885.95 479.58,886.49 479.77,875.53 479.96,855.70 480.15,864.14 480.34,855.27 480.53,899.43 480.72,879.48 480.91,882.09 481.10,871.86 481.29,861.35 481.48,875.81 481.67,862.49 481.86,867.24 482.05,855.54 482.24,856.21 482.43,877.25 482.62,873.49 482.81,853.63 483.00,870.83 483.19,862.42 483.38,868.89 483.57,884.46 483.76,866.98 483.95,869.31 484.14,874.92 484.33,864.63 484.52,882.67 484.71,855.39 484.90,860.39 485.09,864.12 485.28,880.07 485.47,904.38 485.66,877.68 485.85,881.97 486.04,901.29 486.23,886.83 486.42,891.47 486.61,895.91 486.80,884.70 486.99,895.73 487.18,901.20 487.37,901.48 487.56,888.95 487.75,915.78 487.94,883.73 488.13,887.65 488.32,884.85 488.51,882.50 488.70,892.34 488.89,884.07 489.08,901.78 489.27,893.57 489.46,903.34 489.65,892.53 489.84,893.20 490.03,897.61 490.22,902.25 490.41,893.83 490.60,899.72 490.79,904.79 490.98,889.88 491.17,895.57 491.36,903.75 491.55,903.21 491.74,902.97 491.93,906.93 492.12,902.02 492.31,914.04 492.50,909.58 492.69,899.71 492.88,904.15 493.07,909.14 493.26,901.44 493.45,898.94 493.64,896.60 493.83,887.16 494.02,905.77 494.21,912.57 494.40,903.87 494.59,889.61 494.78,907.78 494.97,905.83 495.16,888.75 495.35,897.81 495.54,895.21 495.73,906.17 495.92,906.53 496.11,916.02 496.30,903.16 496.49,918.94 496.68,892.86 496.87,898.41 497.06,897.59 497.25,899.25 497.44,888.02 497.63,893.33 497.82,904.51 498.01,891.39 498.20,886.08 498.39,886.17 498.58,907.46 498.77,891.68 498.96,884.06 499.15,896.56 499.34,886.36 499.53,897.84 499.72,881.69 499.91,883.40 500.10,881.61 500.29,886.54 500.48,871.31 500.67,894.23 500.86,900.59 501.05,884.36 501.24,885.32 501.43,875.43 501.62,890.97 501.81,875.15 502.00,885.36 502.19,891.83 502.38,879.46 502.57,876.83 502.76,888.95 502.95,890.22 503.14,888.42 503.33,893.98 503.52,894.42 503.71,883.55 503.90,884.62 504.09,896.84 504.28,884.80 504.47,880.36 504.66,877.44 504.85,876.59 505.04,874.08 505.23,876.54 505.42,875.48 505.61,884.99 505.80,870.09 505.99,869.82 506.18,869.23 506.37,877.33 506.56,871.71 506.75,869.46 506.94,871.77 507.13,872.44 507.32,879.71 507.51,872.38 507.70,891.02 507.89,884.63 508.08,880.92 508.27,878.24 508.46,896.56 508.65,888.47 508.84,872.04 509.03,871.43 509.22,890.04 509.41,877.31 509.60,890.62 509.79,892.86 509.98,878.09 510.17,871.10 510.36,896.01 510.55,870.76 510.74,876.29 510.93,886.97 511.12,880.75 511.31,870.04 511.50,880.22 511.69,886.73 511.88,894.62 512.07,895.38 512.26,890.23 512.45,882.82 512.64,881.50 512.83,909.99 513.02,895.22 513.21,904.69 513.40,889.43 513.59,887.58 513.78,905.17 513.97,886.03 514.16,883.01 514.35,895.04 514.54,874.63 514.73,876.13 514.92,887.08 515.11,894.10 515.30,907.59 515.49,888.52 515.68,890.32 515.87,882.39 516.06,884.92 516.25,873.06 516.44,891.79 516.63,899.77 516.82,887.55 517.01,909.57 517.20,897.63 517.39,891.61 517.58,894.12 517.77,883.80 517.96,903.82 518.15,891.35 518.34,897.42 518.53,911.88 518.72,910.96 518.91,907.49 519.10,885.06 519.29,901.79 519.48,903.41 519.67,911.19 519.86,901.04 520.05,907.91 520.24,887.43 520.43,888.71 520.62,907.90 520.81,921.75 521.00,909.66 521.19,899.16 521.38,916.94 521.57,893.47 521.76,924.59 521.95,927.31 522.14,916.67 522.33,906.96 522.52,893.52 522.71,920.84 522.90,911.41 523.09,913.32 523.28,909.12 523.47,903.41 523.66,907.04 523.85,903.48 524.04,903.05 524.23,895.06 524.42,901.28 524.61,915.82 524.80,895.48 524.99,890.93 525.18,905.78 525.37,905.70 525.56,912.25 525.75,893.22 525.94,903.12 526.13,901.19 526.32,918.02 526.51,904.79 526.70,918.59 526.89,914.26 527.08,910.23 527.27,917.95 527.46,911.83 527.65,908.69 527.84,913.08 528.03,913.70 528.22,924.64 528.41,910.57 528.60,914.39 528.79,916.69 528.98,915.28 529.17,926.01 529.36,899.89 529.55,930.84 529.74,929.06 529.93,901.31 530.12,903.67 530.31,910.29 530.50,919.88 530.69,924.11 530.88,903.64 531.07,898.07 531.26,915.60 531.45,904.20 531.64,892.06 531.83,881.72 532.02,885.71 532.21,887.39 532.40,896.02 532.59,907.31 532.78,894.13 532.97,893.93 533.16,910.87 533.35,911.96 533.54,899.07 533.73,913.05 533.92,913.37 534.11,908.17 534.30,909.06 534.49,900.39 534.68,889.89 534.87,893.82 535.06,895.83 535.25,882.86 535.44,897.71 535.63,895.73 535.82,898.11 536.01,896.37 536.20,892.95 536.39,898.37 536.58,874.71 536.77,888.89 536.96,903.62 537.15,902.52 537.34,911.47 537.53,908.09 537.72,907.15 537.91,910.41 538.10,908.61 538.29,909.19 538.48,897.47 538.67,907.13 538.86,902.96 539.05,912.23 539.24,899.86 539.43,899.94 539.62,913.04 539.81,895.71 540.00,904.05 540.19,893.43 540.38,903.31 540.57,901.48 540.76,893.94 540.95,892.45 541.14,896.52 541.33,886.41 541.52,879.47 541.71,898.27 541.90,889.45 542.09,879.11 542.28,882.32 542.47,884.63 542.66,877.32 542.85,894.28 543.04,882.86 543.23,881.15 543.42,889.64 543.61,875.18 543.80,875.87 543.99,888.21 544.18,887.93 544.37,880.61 544.56,883.79 544.75,902.37 544.94,897.56 545.13,890.29 545.32,899.76 545.51,881.86 545.70,897.38 545.89,886.66 546.08,892.28 546.27,899.69 546.46,887.92 546.65,900.56 546.84,894.81 547.03,904.36 547.22,898.53 547.41,892.11 547.60,892.73 547.79,903.05 547.98,889.12 548.17,889.30 548.36,886.04 548.55,891.85 548.74,892.23 548.93,885.62 549.12,887.27 549.31,880.21 549.50,883.71 549.69,883.59 549.88,884.66 550.07,882.80 550.26,880.97 550.45,869.25 550.64,901.94 550.83,889.47 551.02,883.46 551.21,889.46 551.40,886.07 551.59,886.79 551.78,894.84 551.97,879.42 552.16,892.40 552.35,879.72 552.54,879.69 552.73,888.56 552.92,879.22 553.11,905.10 553.30,905.94 553.49,907.54 553.68,890.43 553.87,877.98 554.06,895.48 554.25,899.56 554.44,872.27 554.63,884.98 554.82,881.79 555.01,869.86 555.20,891.66 555.39,895.00 555.58,904.23 555.77,881.33 555.96,867.57 556.15,895.78 556.34,877.66 556.53,897.44 556.72,895.94 556.91,895.29 557.10,869.55 557.29,886.24 557.48,885.90 557.67,876.25" fill="none" stroke="#000" stroke-width="0.7" stroke-linejoin="round" opacity="1.0"/>
<polyline points="361.9,800 361.9,786.9 365.7,786.9 365.7,800" fill="none" stroke="#000" stroke-width="0.9"/>
<rect x="69.40" y="1012.70" width="157.10" height="172.20" fill="none" stroke="#222" stroke-width="1.0"/>
<path d="M100.82 1184.90v-6.0M100.82 1012.70v6.0M132.24 1184.90v-6.0M132.24 1012.70v6.0M163.66 1184.90v-6.0M163.66 1012.70v6.0M195.08 1184.90v-6.0M195.08 1012.70v6.0M85.11 1184.90v-3.5M85.11 1012.70v3.5M116.53 1184.90v-3.5M116.53 1012.70v3.5M147.95 1184.90v-3.5M147.95 1012.70v3.5M179.37 1184.90v-3.5M179.37 1012.70v3.5M210.79 1184.90v-3.5M210.79 1012.70v3.5M69.40 1171.65h6.0M226.50 1171.65h-6.0M69.40 1145.16h6.0M226.50 1145.16h-6.0M69.40 1118.67h6.0M226.50 1118.67h-6.0M69.40 1092.18h6.0M226.50 1092.18h-6.0M69.40 1065.68h6.0M226.50 1065.68h-6.0M69.40 1039.19h6.0M226.50 1039.19h-6.0M69.40 1158.41h3.5M226.50 1158.41h-3.5M69.40 1131.92h3.5M226.50 1131.92h-3.5M69.40 1105.42h3.5M226.50 1105.42h-3.5M69.40 1078.93h3.5M226.50 1078.93h-3.5M69.40 1052.44h3.5M226.50 1052.44h-3.5M69.40 1025.95h3.5M226.50 1025.95h-3.5" stroke="#222" stroke-width="1.0" fill="none"/>
<text x="69.40" y="1192.50" font-family='"Liberation Serif", serif' font-size="7.5" font-weight="bold" text-anchor="middle" fill="#000" >0</text>
<text x="100.82" y="1192.50" font-family='"Liberation Serif", serif' font-size="7.5" font-weight="bold" text-anchor="middle" fill="#000" >200</text>
<text x="132.24" y="1192.50" font-family='"Liberation Serif", serif' font-size="7.5" font-weight="bold" text-anchor="middle" fill="#000" >400</text>
<text x="163.66" y="1192.50" font-family='"Liberation Serif", serif' font-size="7.5" font-weight="bold" text-anchor="middle" fill="#000" >600</text>
<text x="195.08" y="1192.50" font-family='"Liberation Serif", serif' font-size="7.5" font-weight="bold" text-anchor="middle" fill="#000" >800</text>
<text x="226.50" y="1192.50" font-family='"Liberation Serif", serif' font-size="7.5" font-weight="bold" text-anchor="middle" fill="#000" >1000</text>
<text x="67.40" y="1175.20" font-family='"Liberation Serif", serif' font-size="7.5" font-weight="bold" text-anchor="end" fill="#000" >860</text>
<text x="67.40" y="1148.71" font-family='"Liberation Serif", serif' font-size="7.5" font-weight="bold" text-anchor="end" fill="#000" >880</text>
<text x="67.40" y="1122.22" font-family='"Liberation Serif", serif' font-size="7.5" font-weight="bold" text-anchor="end" fill="#000" >900</text>
<text x="67.40" y="1095.73" font-family='"Liberation Serif", serif' font-size="7.5" font-weight="bold" text-anchor="end" fill="#000" >920</text>
<text x="67.40" y="1069.23" font-family='"Liberation Serif", serif' font-size="7.5" font-weight="bold" text-anchor="end" fill="#000" >940</text>
<text x="67.40" y="1042.74" font-family='"Liberation Serif", serif' font-size="7.5" font-weight="bold" text-anchor="end" fill="#000" >960</text>
<text x="67.40" y="1016.25" font-family='"Liberation Serif", serif' font-size="7.5" font-weight="bold" text-anchor="end" fill="#000" >980</text>
<text x="148.15" y="996.20" font-family='"Liberation Serif", serif' font-size="10.9" font-weight="normal" text-anchor="middle" fill="#000" stroke="#000" stroke-width="0.35" textLength="74.1" lengthAdjust="spacingAndGlyphs">Hydrogen Bonds</text>
<text x="148.05" y="1200.00" font-family='"Liberation Serif", serif' font-size="7.3" font-weight="bold" text-anchor="middle" fill="#000"  textLength="28.9" lengthAdjust="spacingAndGlyphs">Time (ps)</text>
<text x="0.00" y="0.00" font-family='"Liberation Serif", serif' font-size="7.7" font-weight="bold" text-anchor="middle" fill="#000" transform="translate(53.6,1099.25) rotate(-90)" textLength="22.1" lengthAdjust="spacingAndGlyphs">Number</text>
<text transform="translate(164.20,1236.00) scale(1,0.95)" font-family='"Liberation Sans", sans-serif' font-size="15.2" text-anchor="middle" fill="#000" stroke="#000" stroke-width="0.4">(i)</text>
<text transform="translate(2.20,1108.60) scale(1,0.97)" font-family='"Liberation Sans", sans-serif' font-size="15.3" text-anchor="start" fill="#000" stroke="#000" stroke-width="0.1">E</text>
<rect x="233.2" y="1024.3" width="65.40" height="12.30" fill="none" stroke="#222" stroke-width="0.9"/>
<line x1="236.6" y1="1030.8" x2="242.7" y2="1030.8" stroke="#000" stroke-width="0.9"/>
<text x="247.40" y="1033.60" font-family='"Liberation Serif", serif' font-size="7.2" font-weight="bold" text-anchor="start" fill="#000"  textLength="48.5" lengthAdjust="spacingAndGlyphs">Hydrogen bonds</text>
<polyline points="69.61,1098.30 69.77,1093.20 69.93,1107.75 70.09,1109.48 70.25,1103.57 70.41,1113.73 70.57,1115.59 70.73,1088.98 70.89,1103.16 71.05,1119.78 71.21,1106.61 71.37,1118.86 71.53,1156.22 71.69,1107.70 71.85,1127.47 72.01,1140.33 72.17,1122.35 72.33,1129.28 72.49,1143.89 72.65,1116.63 72.81,1178.38 72.97,1142.66 73.13,1151.40 73.29,1147.03 73.45,1113.44 73.61,1150.71 73.77,1135.04 73.93,1157.58 74.09,1150.62 74.25,1149.33 74.41,1129.75 74.57,1132.19 74.73,1135.92 74.89,1142.77 75.05,1142.11 75.21,1154.32 75.37,1132.71 75.53,1141.47 75.69,1153.15 75.85,1129.79 76.01,1156.32 76.17,1130.44 76.33,1136.08 76.49,1121.58 76.65,1135.84 76.81,1135.41 76.97,1129.99 77.13,1099.12 77.29,1124.18 77.45,1110.71 77.61,1115.30 77.77,1091.50 77.93,1109.09 78.09,1121.63 78.25,1115.70 78.41,1117.32 78.57,1127.70 78.73,1130.01 78.89,1122.56 79.05,1123.79 79.21,1124.65 79.37,1099.12 79.53,1088.79 79.69,1100.48 79.85,1118.82 80.01,1122.98 80.17,1090.98 80.33,1123.55 80.49,1129.84 80.65,1097.30 80.81,1102.34 80.97,1104.94 81.13,1116.85 81.29,1106.34 81.45,1104.34 81.61,1094.06 81.77,1080.02 81.93,1120.65 82.09,1102.91 82.25,1100.23 82.41,1101.05 82.57,1096.48 82.73,1116.00 82.89,1105.96 83.05,1099.07 83.21,1136.85 83.37,1139.31 83.53,1136.58 83.69,1104.54 83.85,1115.74 84.01,1162.31 84.10,1162.40 84.17,1114.19 84.33,1120.86 84.49,1135.73 84.65,1144.06 84.81,1102.36 84.97,1123.81 85.13,1109.53 85.29,1125.40 85.45,1118.51 85.61,1116.63 85.77,1111.85 85.93,1113.39 86.09,1114.16 86.25,1114.82 86.41,1107.32 86.57,1117.03 86.73,1130.81 86.89,1102.18 87.05,1110.54 87.21,1103.62 87.37,1127.35 87.53,1121.29 87.69,1119.11 87.85,1106.25 88.01,1115.62 88.17,1123.72 88.33,1091.52 88.49,1089.68 88.65,1122.90 88.81,1107.20 88.97,1116.09 89.13,1109.95 89.29,1100.33 89.45,1095.74 89.61,1123.24 89.77,1113.37 89.93,1112.39 90.09,1117.96 90.25,1117.19 90.41,1118.92 90.57,1099.40 90.73,1083.73 90.89,1121.36 91.05,1097.99 91.21,1113.13 91.37,1107.85 91.53,1110.35 91.69,1132.56 91.85,1110.47 92.01,1129.19 92.17,1124.99 92.33,1132.34 92.49,1129.45 92.65,1123.93 92.81,1117.68 92.97,1113.64 93.13,1121.66 93.29,1112.87 93.45,1144.68 93.61,1098.13 93.77,1114.83 93.93,1121.17 94.09,1102.15 94.25,1123.17 94.41,1119.76 94.57,1097.75 94.73,1093.51 94.89,1122.06 95.05,1111.68 95.21,1094.77 95.37,1094.25 95.53,1101.40 95.69,1123.29 95.85,1095.98 96.01,1115.72 96.17,1121.53 96.33,1084.54 96.49,1128.65 96.65,1140.77 96.81,1095.93 96.97,1071.22 97.13,1121.76 97.29,1125.75 97.40,1042.00 97.45,1113.45 97.61,1111.06 97.77,1122.89 97.93,1076.89 98.09,1112.65 98.25,1100.39 98.41,1134.97 98.57,1101.28 98.73,1109.51 98.89,1117.12 99.05,1091.57 99.21,1104.43 99.37,1118.84 99.53,1154.36 99.69,1139.41 99.85,1139.64 100.01,1145.63 100.17,1134.65 100.33,1113.03 100.49,1098.37 100.65,1091.49 100.81,1129.97 100.97,1089.00 101.13,1088.87 101.29,1114.36 101.45,1097.10 101.61,1110.58 101.77,1093.72 101.93,1107.67 102.09,1088.29 102.25,1114.28 102.41,1099.01 102.57,1129.13 102.73,1096.08 102.89,1080.20 103.05,1088.92 103.21,1122.54 103.37,1105.33 103.53,1100.32 103.69,1101.68 103.85,1113.16 104.01,1089.08 104.17,1105.50 104.33,1126.92 104.49,1077.02 104.65,1093.67 104.81,1086.84 104.97,1103.15 105.13,1105.47 105.29,1098.44 105.45,1099.27 105.61,1085.88 105.77,1099.04 105.93,1136.99 106.09,1114.18 106.25,1122.29 106.41,1093.42 106.57,1110.71 106.73,1081.11 106.89,1095.70 107.05,1098.90 107.21,1079.19 107.37,1104.38 107.53,1085.21 107.69,1124.19 107.85,1106.00 108.01,1094.96 108.17,1096.26 108.33,1101.74 108.49,1087.63 108.65,1122.72 108.81,1091.27 108.97,1074.46 109.13,1086.73 109.29,1106.16 109.45,1083.34 109.61,1072.85 109.77,1096.90 109.93,1102.76 110.09,1089.76 110.25,1101.26 110.41,1110.19 110.57,1108.45 110.73,1112.41 110.89,1090.25 111.05,1109.84 111.21,1099.96 111.37,1076.38 111.53,1097.70 111.69,1115.50 111.85,1102.58 112.01,1084.41 112.17,1080.12 112.33,1097.91 112.49,1125.39 112.65,1105.09 112.81,1127.93 112.97,1100.06 113.13,1095.80 113.29,1088.70 113.45,1073.07 113.61,1102.05 113.77,1089.73 113.93,1114.98 114.09,1117.80 114.25,1081.80 114.41,1083.69 114.57,1079.30 114.73,1100.82 114.89,1105.51 115.05,1067.27 115.21,1104.16 115.37,1066.07 115.53,1090.57 115.69,1097.38 115.85,1106.42 116.01,1085.56 116.17,1102.05 116.33,1085.35 116.49,1089.91 116.65,1063.53 116.81,1072.90 116.97,1108.08 117.13,1090.74 117.29,1104.61 117.30,1025.00 117.45,1091.28 117.61,1095.57 117.77,1060.37 117.93,1100.84 118.09,1085.64 118.25,1062.05 118.41,1085.63 118.57,1114.23 118.73,1093.66 118.89,1077.41 119.05,1108.59 119.21,1053.38 119.37,1092.38 119.53,1073.98 119.69,1098.89 119.85,1091.78 120.01,1076.44 120.17,1100.70 120.33,1078.54 120.49,1090.55 120.65,1090.23 120.81,1052.48 120.97,1108.27 121.13,1101.87 121.29,1065.09 121.45,1056.65 121.61,1076.84 121.77,1095.28 121.93,1076.53 122.09,1059.88 122.25,1095.61 122.41,1064.09 122.57,1095.41 122.73,1060.94 122.89,1091.02 123.05,1070.35 123.21,1073.05 123.37,1074.82 123.53,1090.48 123.69,1081.82 123.85,1075.32 124.01,1056.53 124.17,1094.70 124.33,1080.79 124.49,1059.82 124.65,1063.48 124.81,1057.94 124.97,1068.79 125.13,1098.41 125.29,1091.35 125.45,1072.47 125.61,1057.63 125.77,1105.36 125.93,1042.65 126.09,1066.66 126.25,1089.90 126.41,1070.94 126.57,1079.34 126.73,1095.03 126.89,1088.73 127.05,1096.24 127.21,1061.96 127.37,1088.99 127.53,1105.10 127.69,1086.13 127.85,1087.69 128.01,1100.02 128.17,1105.24 128.33,1089.12 128.49,1101.37 128.65,1116.62 128.81,1089.63 128.97,1120.83 129.13,1102.94 129.29,1123.18 129.45,1085.46 129.61,1116.51 129.77,1090.24 129.93,1105.14 130.09,1098.18 130.25,1075.86 130.41,1105.15 130.57,1087.14 130.73,1084.23 130.89,1107.73 131.05,1090.25 131.21,1083.96 131.37,1075.88 131.53,1104.31 131.69,1077.47 131.85,1087.18 132.01,1079.83 132.17,1092.41 132.33,1087.72 132.49,1077.83 132.65,1053.31 132.81,1086.51 132.97,1071.36 133.13,1114.07 133.29,1095.85 133.45,1094.65 133.61,1096.02 133.77,1087.45 133.93,1090.04 134.09,1086.04 134.25,1079.26 134.41,1092.40 134.57,1090.41 134.73,1083.17 134.89,1083.58 135.05,1050.05 135.21,1075.25 135.37,1067.10 135.53,1090.13 135.69,1086.52 135.85,1057.35 136.01,1058.21 136.17,1062.91 136.33,1097.98 136.49,1096.48 136.65,1107.99 136.81,1117.85 136.97,1056.07 137.13,1066.54 137.29,1087.73 137.45,1112.29 137.61,1091.26 137.77,1088.76 137.93,1112.64 138.09,1096.30 138.25,1108.02 138.41,1101.39 138.57,1118.96 138.73,1095.41 138.89,1105.84 139.05,1105.78 139.21,1111.85 139.37,1095.15 139.53,1084.03 139.69,1084.42 139.85,1095.60 140.01,1084.40 140.17,1082.01 140.33,1096.37 140.49,1100.46 140.65,1094.64 140.81,1095.76 140.97,1078.77 141.13,1076.06 141.29,1094.18 141.45,1097.41 141.61,1105.63 141.77,1100.05 141.93,1089.14 142.09,1083.32 142.25,1067.17 142.41,1103.48 142.57,1095.12 142.73,1131.59 142.89,1094.00 143.05,1085.07 143.21,1115.50 143.37,1103.09 143.53,1079.40 143.69,1085.71 143.85,1084.54 144.01,1071.02 144.17,1104.85 144.33,1082.14 144.49,1071.94 144.65,1071.03 144.81,1100.71 144.97,1040.18 145.13,1073.07 145.29,1058.32 145.45,1043.88 145.61,1095.17 145.77,1070.20 145.93,1064.27 146.09,1099.02 146.25,1096.48 146.41,1066.32 146.57,1108.14 146.73,1063.63 146.89,1078.65 147.05,1073.48 147.21,1104.51 147.37,1085.12 147.53,1098.86 147.69,1071.68 147.85,1081.34 148.01,1071.31 148.17,1065.63 148.33,1065.36 148.49,1060.27 148.65,1055.38 148.81,1064.08 148.97,1044.88 149.13,1060.51 149.29,1069.70 149.45,1045.26 149.61,1074.34 149.77,1106.24 149.93,1071.46 150.09,1086.55 150.25,1072.72 150.41,1070.83 150.57,1081.83 150.73,1069.49 150.89,1082.94 151.05,1077.95 151.21,1055.07 151.37,1075.55 151.53,1106.94 151.69,1072.67 151.85,1066.36 152.01,1084.31 152.17,1080.29 152.33,1076.56 152.49,1070.33 152.65,1075.17 152.81,1112.96 152.97,1068.54 153.13,1107.73 153.29,1062.88 153.45,1066.52 153.61,1077.85 153.77,1099.19 153.93,1064.66 154.09,1078.57 154.25,1067.43 154.41,1075.54 154.57,1056.26 154.73,1071.82 154.89,1046.53 155.05,1087.42 155.21,1104.05 155.37,1058.81 155.53,1088.92 155.69,1072.18 155.85,1075.64 156.01,1084.34 156.17,1088.20 156.33,1068.49 156.49,1052.58 156.65,1087.69 156.81,1089.85 156.97,1061.07 157.13,1075.25 157.29,1072.22 157.45,1083.87 157.61,1063.82 157.77,1079.55 157.93,1069.76 158.09,1059.80 158.25,1085.47 158.41,1088.55 158.57,1053.75 158.73,1092.71 158.89,1095.38 159.05,1089.65 159.21,1068.56 159.37,1088.17 159.53,1089.38 159.69,1087.45 159.85,1072.72 160.01,1081.88 160.17,1071.30 160.33,1084.72 160.49,1096.19 160.65,1109.92 160.81,1093.43 160.97,1092.68 161.13,1062.21 161.29,1111.72 161.45,1067.99 161.61,1081.85 161.77,1099.94 161.93,1103.72 162.09,1057.27 162.25,1065.36 162.41,1082.62 162.57,1049.19 162.73,1082.57 162.89,1093.46 163.05,1063.32 163.21,1092.05 163.37,1060.80 163.53,1088.19 163.69,1068.57 163.85,1094.60 164.01,1074.61 164.17,1071.27 164.33,1050.80 164.49,1085.41 164.65,1071.47 164.81,1105.32 164.97,1134.39 165.13,1090.12 165.29,1058.75 165.45,1105.75 165.61,1088.39 165.77,1058.24 165.93,1075.64 166.09,1117.86 166.25,1084.08 166.41,1056.75 166.57,1048.44 166.73,1051.81 166.89,1059.91 167.05,1065.70 167.21,1059.47 167.37,1061.60 167.53,1075.94 167.69,1049.91 167.85,1071.09 168.01,1065.81 168.17,1075.93 168.33,1086.05 168.49,1039.15 168.65,1067.73 168.81,1039.24 168.97,1054.20 169.13,1081.03 169.29,1074.83 169.45,1076.95 169.61,1073.72 169.77,1082.13 169.93,1082.77 170.09,1062.79 170.25,1069.19 170.41,1055.91 170.57,1096.46 170.73,1076.06 170.89,1092.48 171.05,1066.56 171.21,1075.01 171.37,1103.00 171.53,1101.22 171.69,1086.41 171.85,1057.61 172.01,1100.30 172.17,1079.79 172.33,1113.12 172.49,1079.09 172.65,1073.68 172.81,1044.65 172.97,1104.38 173.13,1122.75 173.29,1054.87 173.45,1110.26 173.61,1091.32 173.77,1065.79 173.93,1107.33 174.09,1059.06 174.25,1091.41 174.41,1064.04 174.57,1073.54 174.73,1118.39 174.89,1050.69 175.05,1066.33 175.21,1079.24 175.37,1080.64 175.53,1070.00 175.69,1090.13 175.85,1064.72 176.01,1058.42 176.17,1075.97 176.33,1059.70 176.49,1070.16 176.65,1072.37 176.81,1068.36 176.97,1081.78 177.13,1093.24 177.29,1090.63 177.45,1099.24 177.61,1086.47 177.77,1101.59 177.93,1088.69 178.09,1127.94 178.25,1103.44 178.41,1076.42 178.57,1084.99 178.73,1124.08 178.89,1101.27 179.05,1066.40 179.21,1107.67 179.37,1073.91 179.53,1070.93 179.69,1094.01 179.85,1086.34 180.01,1087.07 180.17,1111.26 180.33,1096.53 180.49,1097.47 180.65,1078.26 180.81,1086.69 180.97,1065.59 181.13,1082.42 181.29,1092.49 181.45,1073.30 181.61,1079.12 181.77,1096.37 181.93,1093.16 182.09,1088.71 182.25,1074.75 182.41,1100.42 182.57,1083.08 182.73,1071.24 182.89,1085.16 183.05,1090.09 183.21,1100.24 183.37,1109.90 183.53,1091.82 183.69,1095.55 183.85,1080.51 184.01,1100.27 184.17,1104.08 184.33,1094.59 184.49,1075.46 184.65,1109.82 184.81,1098.32 184.97,1104.14 185.13,1073.85 185.29,1107.22 185.45,1107.54 185.61,1080.61 185.77,1076.09 185.93,1089.00 186.09,1096.65 186.25,1099.93 186.41,1072.54 186.57,1088.25 186.73,1074.42 186.89,1088.24 187.05,1083.82 187.21,1089.46 187.37,1083.48 187.53,1084.02 187.69,1063.13 187.85,1088.24 188.01,1074.11 188.17,1103.88 188.33,1063.84 188.49,1091.51 188.65,1091.15 188.81,1072.77 188.97,1069.36 189.13,1088.86 189.29,1082.49 189.45,1074.81 189.61,1070.68 189.77,1077.41 189.93,1086.64 190.09,1053.70 190.25,1073.97 190.41,1092.14 190.57,1082.59 190.73,1074.75 190.89,1086.95 191.05,1060.40 191.21,1077.22 191.37,1094.48 191.53,1091.94 191.69,1085.12 191.85,1063.15 192.01,1065.04 192.17,1063.15 192.33,1072.03 192.49,1077.59 192.65,1064.39 192.81,1048.76 192.97,1051.13 193.13,1053.22 193.29,1062.88 193.45,1037.34 193.61,1073.28 193.77,1071.56 193.93,1085.25 194.09,1042.12 194.25,1035.08 194.40,1023.10 194.41,1031.25 194.57,1056.62 194.73,1067.02 194.89,1041.82 195.05,1052.87 195.21,1082.47 195.37,1066.21 195.53,1057.65 195.69,1074.17 195.85,1069.15 196.01,1063.81 196.17,1069.02 196.33,1104.04 196.49,1079.05 196.65,1075.20 196.81,1070.44 196.97,1107.63 197.13,1085.88 197.29,1120.26 197.45,1107.76 197.61,1075.11 197.77,1117.51 197.93,1077.82 198.09,1083.08 198.25,1072.86 198.41,1086.59 198.57,1072.36 198.73,1060.19 198.89,1064.52 199.05,1076.66 199.21,1049.61 199.37,1064.72 199.53,1078.16 199.69,1065.84 199.85,1076.60 200.01,1038.15 200.17,1049.09 200.33,1071.54 200.49,1056.59 200.65,1096.50 200.81,1039.16 200.97,1059.67 201.13,1064.39 201.29,1071.96 201.45,1099.52 201.61,1059.64 201.77,1095.44 201.93,1081.28 202.09,1048.04 202.25,1048.32 202.41,1061.57 202.57,1053.80 202.73,1072.43 202.89,1085.37 203.05,1060.10 203.21,1089.56 203.37,1061.75 203.53,1094.36 203.69,1059.08 203.85,1064.55 204.01,1061.10 204.17,1059.22 204.33,1076.16 204.49,1060.85 204.65,1053.31 204.81,1061.25 204.97,1066.87 205.13,1064.00 205.29,1061.26 205.45,1056.67 205.61,1054.73 205.77,1052.89 205.93,1042.21 206.09,1063.32 206.25,1072.54 206.41,1066.93 206.57,1062.53 206.73,1048.93 206.89,1033.40 207.05,1036.26 207.21,1080.69 207.37,1050.98 207.53,1030.70 207.69,1043.98 207.85,1077.78 208.01,1088.39 208.17,1068.98 208.33,1063.44 208.49,1049.55 208.65,1047.12 208.81,1059.55 208.97,1049.10 209.13,1056.96 209.29,1074.53 209.45,1089.42 209.61,1078.56 209.77,1104.93 209.93,1056.16 210.09,1074.89 210.25,1057.97 210.41,1073.30 210.57,1081.35 210.73,1049.70 210.89,1101.94 211.05,1039.48 211.21,1071.19 211.37,1082.50 211.53,1059.26 211.69,1054.55 211.85,1043.47 212.01,1073.06 212.17,1051.13 212.33,1043.57 212.49,1061.34 212.65,1063.09 212.81,1067.46 212.97,1035.57 213.13,1035.27 213.29,1054.86 213.45,1046.79 213.61,1072.53 213.77,1046.09 213.93,1047.32 214.09,1046.91 214.25,1051.13 214.41,1044.92 214.57,1042.75 214.73,1046.48 214.89,1052.35 215.05,1045.17 215.21,1085.28 215.37,1051.16 215.53,1054.09 215.69,1054.28 215.85,1042.13 216.01,1064.05 216.17,1055.02 216.33,1043.92 216.49,1053.99 216.65,1081.89 216.81,1068.90 216.97,1085.57 217.13,1051.27 217.29,1047.65 217.45,1041.32 217.61,1057.48 217.77,1058.08 217.93,1041.82 218.09,1049.22 218.25,1074.73 218.41,1058.59 218.57,1046.90 218.73,1061.36 218.89,1045.20 219.05,1063.28 219.21,1044.93 219.37,1033.94 219.53,1066.39 219.69,1042.59 219.85,1041.97 220.01,1037.32 220.17,1055.71 220.33,1074.21 220.49,1038.94 220.65,1060.86 220.81,1075.15 220.97,1059.31 221.13,1055.02 221.29,1071.09 221.45,1092.50 221.61,1061.83 221.77,1051.75 221.93,1063.46 222.09,1065.44 222.25,1072.77 222.41,1077.54 222.57,1060.05 222.73,1082.37 222.89,1094.87 223.05,1097.56 223.21,1080.93 223.37,1080.43 223.53,1081.21 223.69,1100.24 223.85,1095.89 224.01,1053.96 224.17,1084.48 224.33,1054.23 224.49,1070.34 224.65,1071.90 224.81,1091.37 224.97,1072.10 225.13,1073.83 225.29,1064.89 225.45,1083.94 225.61,1083.00 225.77,1066.26 225.93,1075.70 226.09,1085.64 226.25,1087.23" fill="none" stroke="#000" stroke-width="0.6" stroke-linejoin="round" opacity="1.0"/>
<polyline points="69.8,1145.7 69.8,1171.5 75.6,1171.5 75.6,1150" fill="none" stroke="#000" stroke-width="0.9"/>
<rect x="355.40" y="1018.70" width="173.00" height="176.00" fill="none" stroke="#222" stroke-width="1.0"/>
<path d="M390.00 1194.70v-6.0M390.00 1018.70v6.0M424.60 1194.70v-6.0M424.60 1018.70v6.0M459.20 1194.70v-6.0M459.20 1018.70v6.0M493.80 1194.70v-6.0M493.80 1018.70v6.0M372.70 1194.70v-3.5M372.70 1018.70v3.5M407.30 1194.70v-3.5M407.30 1018.70v3.5M441.90 1194.70v-3.5M441.90 1018.70v3.5M476.50 1194.70v-3.5M476.50 1018.70v3.5M511.10 1194.70v-3.5M511.10 1018.70v3.5M355.40 1167.62h6.0M528.40 1167.62h-6.0M355.40 1140.55h6.0M528.40 1140.55h-6.0M355.40 1113.47h6.0M528.40 1113.47h-6.0M355.40 1086.39h6.0M528.40 1086.39h-6.0M355.40 1059.32h6.0M528.40 1059.32h-6.0M355.40 1032.24h6.0M528.40 1032.24h-6.0M355.40 1181.16h3.5M528.40 1181.16h-3.5M355.40 1154.08h3.5M528.40 1154.08h-3.5M355.40 1127.01h3.5M528.40 1127.01h-3.5M355.40 1099.93h3.5M528.40 1099.93h-3.5M355.40 1072.85h3.5M528.40 1072.85h-3.5M355.40 1045.78h3.5M528.40 1045.78h-3.5" stroke="#222" stroke-width="1.0" fill="none"/>
<text x="355.40" y="1202.80" font-family='"Liberation Serif", serif' font-size="7.5" font-weight="bold" text-anchor="middle" fill="#000"  textLength="4.01" lengthAdjust="spacingAndGlyphs">0</text>
<text x="390.00" y="1202.80" font-family='"Liberation Serif", serif' font-size="7.5" font-weight="bold" text-anchor="middle" fill="#000"  textLength="12.04" lengthAdjust="spacingAndGlyphs">200</text>
<text x="424.60" y="1202.80" font-family='"Liberation Serif", serif' font-size="7.5" font-weight="bold" text-anchor="middle" fill="#000"  textLength="12.04" lengthAdjust="spacingAndGlyphs">400</text>
<text x="459.20" y="1202.80" font-family='"Liberation Serif", serif' font-size="7.5" font-weight="bold" text-anchor="middle" fill="#000"  textLength="12.04" lengthAdjust="spacingAndGlyphs">600</text>
<text x="493.80" y="1202.80" font-family='"Liberation Serif", serif' font-size="7.5" font-weight="bold" text-anchor="middle" fill="#000"  textLength="12.04" lengthAdjust="spacingAndGlyphs">800</text>
<text x="528.40" y="1202.80" font-family='"Liberation Serif", serif' font-size="7.5" font-weight="bold" text-anchor="middle" fill="#000"  textLength="16.05" lengthAdjust="spacingAndGlyphs">1000</text>
<text x="352.20" y="1198.25" font-family='"Liberation Serif", serif' font-size="7.5" font-weight="bold" text-anchor="end" fill="#000"  textLength="12.04" lengthAdjust="spacingAndGlyphs">840</text>
<text x="352.20" y="1171.17" font-family='"Liberation Serif", serif' font-size="7.5" font-weight="bold" text-anchor="end" fill="#000"  textLength="12.04" lengthAdjust="spacingAndGlyphs">860</text>
<text x="352.20" y="1144.10" font-family='"Liberation Serif", serif' font-size="7.5" font-weight="bold" text-anchor="end" fill="#000"  textLength="12.04" lengthAdjust="spacingAndGlyphs">880</text>
<text x="352.20" y="1117.02" font-family='"Liberation Serif", serif' font-size="7.5" font-weight="bold" text-anchor="end" fill="#000"  textLength="12.04" lengthAdjust="spacingAndGlyphs">900</text>
<text x="352.20" y="1089.94" font-family='"Liberation Serif", serif' font-size="7.5" font-weight="bold" text-anchor="end" fill="#000"  textLength="12.04" lengthAdjust="spacingAndGlyphs">920</text>
<text x="352.20" y="1062.87" font-family='"Liberation Serif", serif' font-size="7.5" font-weight="bold" text-anchor="end" fill="#000"  textLength="12.04" lengthAdjust="spacingAndGlyphs">940</text>
<text x="352.20" y="1035.79" font-family='"Liberation Serif", serif' font-size="7.5" font-weight="bold" text-anchor="end" fill="#000"  textLength="12.04" lengthAdjust="spacingAndGlyphs">960</text>
<text x="442.10" y="1000.80" font-family='"Liberation Serif", serif' font-size="11.2" font-weight="normal" text-anchor="middle" fill="#000" stroke="#000" stroke-width="0.35" textLength="81.8" lengthAdjust="spacingAndGlyphs">Hydrogen Bonds</text>
<text x="442.35" y="1210.20" font-family='"Liberation Serif", serif' font-size="7.3" font-weight="bold" text-anchor="middle" fill="#000"  textLength="30.9" lengthAdjust="spacingAndGlyphs">Time (ps)</text>
<text x="0.00" y="0.00" font-family='"Liberation Serif", serif' font-size="7.7" font-weight="bold" text-anchor="middle" fill="#000" transform="translate(337.8,1106.8) rotate(-90)" textLength="22.6" lengthAdjust="spacingAndGlyphs">Number</text>
<text transform="translate(460.40,1235.50) scale(1,0.95)" font-family='"Liberation Sans", sans-serif' font-size="15.2" text-anchor="middle" fill="#000" stroke="#000" stroke-width="0.4">(ii)</text>
<rect x="536.3" y="1030.5" width="71.90" height="11.90" fill="none" stroke="#222" stroke-width="0.9"/>
<line x1="539.8" y1="1036.5" x2="546.1" y2="1036.5" stroke="#000" stroke-width="0.9"/>
<text x="552.00" y="1039.40" font-family='"Liberation Serif", serif' font-size="7.4" font-weight="bold" text-anchor="start" fill="#000"  textLength="53.3" lengthAdjust="spacingAndGlyphs">Hydrogen bonds</text>
<polyline points="355.66,1052.85 355.83,1080.23 356.00,1092.88 356.17,1040.11 356.34,1048.75 356.51,1059.47 356.68,1099.21 356.85,1100.84 357.02,1083.99 357.19,1086.70 357.36,1070.64 357.53,1064.21 357.70,1092.04 357.87,1098.99 358.04,1084.83 358.21,1059.55 358.38,1094.32 358.55,1093.46 358.72,1081.63 358.89,1107.50 359.06,1119.68 359.23,1109.94 359.40,1098.67 359.57,1089.62 359.74,1107.04 359.91,1082.41 360.08,1113.48 360.25,1112.51 360.42,1102.57 360.59,1116.93 360.76,1094.55 360.93,1114.88 361.10,1110.15 361.27,1101.88 361.44,1114.66 361.61,1091.69 361.78,1098.11 361.95,1076.08 362.12,1105.58 362.29,1113.34 362.46,1114.85 362.63,1111.28 362.80,1114.76 362.97,1117.91 363.14,1080.67 363.31,1100.21 363.48,1091.49 363.65,1100.07 363.82,1110.12 363.99,1120.92 364.16,1099.35 364.33,1093.68 364.50,1063.35 364.67,1126.01 364.84,1099.33 365.01,1132.05 365.18,1119.54 365.35,1102.41 365.52,1089.03 365.69,1105.23 365.86,1112.51 366.03,1115.96 366.20,1131.34 366.37,1099.33 366.54,1110.33 366.71,1112.16 366.88,1141.96 367.05,1130.16 367.22,1118.86 367.39,1115.01 367.56,1096.94 367.73,1122.79 367.90,1080.17 368.07,1094.39 368.24,1108.00 368.41,1141.24 368.50,1183.50 368.58,1143.32 368.75,1139.30 368.92,1142.24 369.09,1108.58 369.26,1112.49 369.43,1099.43 369.60,1114.86 369.77,1094.02 369.94,1110.95 370.11,1131.43 370.28,1126.42 370.45,1098.22 370.62,1090.20 370.79,1104.96 370.96,1091.57 371.13,1091.21 371.30,1125.46 371.47,1084.92 371.64,1101.66 371.81,1096.10 371.98,1115.32 372.15,1103.35 372.32,1092.16 372.49,1110.31 372.66,1102.47 372.83,1090.05 373.00,1091.05 373.17,1078.66 373.34,1091.25 373.51,1095.09 373.68,1090.32 373.85,1084.76 374.02,1091.65 374.19,1087.99 374.36,1094.97 374.53,1102.67 374.70,1098.83 374.87,1091.70 375.04,1091.38 375.21,1109.26 375.38,1082.78 375.55,1111.69 375.72,1111.69 375.89,1081.52 376.06,1088.06 376.23,1109.01 376.40,1090.57 376.57,1123.99 376.74,1127.69 376.91,1117.57 377.08,1116.31 377.25,1122.02 377.42,1125.89 377.59,1122.78 377.76,1118.15 377.93,1124.50 378.10,1123.64 378.27,1107.11 378.44,1136.12 378.61,1097.70 378.78,1121.03 378.95,1103.94 379.12,1119.01 379.29,1118.53 379.46,1126.07 379.63,1121.99 379.80,1128.54 379.97,1155.00 380.14,1104.44 380.31,1086.06 380.48,1146.31 380.65,1135.08 380.82,1105.98 380.99,1106.14 381.16,1100.92 381.33,1106.72 381.50,1100.01 381.67,1128.12 381.84,1118.42 382.01,1117.48 382.18,1102.78 382.35,1134.99 382.52,1142.76 382.69,1109.36 382.86,1099.60 383.03,1104.77 383.20,1090.96 383.37,1105.29 383.54,1102.42 383.71,1116.38 383.88,1113.09 384.05,1122.85 384.22,1100.75 384.39,1080.80 384.56,1134.38 384.73,1135.89 384.90,1105.90 385.07,1108.28 385.24,1142.71 385.41,1132.32 385.58,1101.08 385.75,1088.34 385.92,1107.67 386.09,1107.58 386.26,1114.88 386.43,1112.17 386.60,1135.60 386.77,1097.47 386.94,1085.23 387.11,1096.22 387.28,1095.21 387.45,1092.47 387.62,1097.20 387.79,1104.31 387.96,1089.79 388.13,1103.32 388.30,1091.47 388.47,1058.57 388.64,1087.07 388.81,1091.34 388.98,1102.86 389.15,1078.49 389.32,1119.40 389.49,1063.47 389.66,1074.77 389.83,1079.97 390.00,1126.64 390.17,1104.25 390.34,1093.52 390.51,1125.79 390.68,1070.53 390.85,1082.46 391.02,1095.42 391.19,1085.46 391.36,1066.41 391.53,1088.35 391.70,1099.44 391.87,1106.58 392.04,1099.68 392.21,1074.70 392.38,1088.78 392.55,1083.95 392.72,1095.91 392.89,1076.34 393.06,1092.00 393.23,1082.34 393.40,1084.74 393.57,1053.99 393.74,1074.11 393.91,1089.69 394.08,1079.19 394.25,1095.83 394.42,1068.92 394.59,1083.89 394.76,1103.52 394.93,1103.32 395.10,1078.36 395.27,1094.14 395.44,1072.59 395.61,1097.40 395.78,1067.90 395.95,1066.47 396.12,1083.64 396.29,1066.50 396.46,1096.26 396.63,1074.95 396.80,1067.16 396.97,1084.08 397.14,1093.35 397.31,1097.58 397.48,1074.89 397.65,1070.70 397.82,1083.74 397.99,1083.85 398.16,1079.09 398.33,1072.15 398.50,1080.18 398.67,1108.58 398.84,1093.13 399.01,1085.82 399.18,1077.04 399.35,1082.32 399.52,1096.09 399.69,1107.09 399.86,1119.71 400.03,1078.14 400.20,1086.45 400.37,1082.01 400.54,1079.25 400.71,1077.11 400.88,1102.50 401.05,1080.60 401.10,1050.00 401.22,1084.88 401.39,1114.35 401.56,1106.90 401.73,1076.69 401.90,1055.67 402.07,1088.91 402.24,1087.03 402.41,1069.70 402.58,1110.91 402.75,1077.55 402.92,1072.49 403.09,1086.21 403.26,1095.23 403.43,1083.28 403.60,1079.03 403.77,1067.53 403.94,1077.32 404.11,1051.40 404.28,1081.38 404.45,1068.25 404.62,1062.67 404.79,1077.08 404.96,1072.36 405.13,1048.44 405.30,1062.81 405.47,1053.20 405.64,1075.99 405.81,1064.80 405.98,1056.52 406.15,1066.79 406.32,1058.77 406.49,1056.21 406.66,1059.84 406.83,1057.99 407.00,1090.76 407.17,1064.45 407.34,1105.45 407.51,1088.53 407.68,1055.04 407.85,1057.25 408.02,1077.87 408.10,1030.50 408.19,1052.19 408.36,1032.77 408.53,1048.85 408.70,1091.12 408.87,1055.54 409.04,1039.29 409.21,1063.06 409.38,1074.61 409.55,1078.34 409.72,1063.60 409.89,1058.62 410.06,1039.27 410.23,1066.39 410.40,1061.01 410.57,1070.81 410.74,1061.61 410.91,1055.30 411.08,1074.91 411.25,1073.07 411.42,1060.44 411.59,1050.36 411.76,1067.48 411.93,1052.34 412.10,1059.79 412.27,1076.51 412.44,1070.69 412.61,1067.79 412.78,1084.38 412.95,1066.92 413.12,1068.65 413.29,1082.81 413.46,1075.11 413.63,1076.12 413.80,1077.83 413.97,1076.78 414.14,1074.56 414.31,1084.19 414.48,1088.09 414.65,1077.57 414.82,1071.59 414.99,1072.88 415.16,1103.83 415.33,1104.02 415.50,1070.65 415.67,1071.09 415.84,1086.39 416.01,1098.59 416.18,1095.43 416.35,1082.59 416.52,1081.78 416.69,1076.10 416.86,1085.65 417.03,1108.00 417.20,1082.58 417.37,1074.00 417.54,1083.72 417.71,1096.21 417.88,1094.43 418.05,1085.95 418.22,1085.87 418.39,1107.62 418.56,1082.75 418.73,1095.14 418.90,1090.26 419.07,1090.92 419.24,1085.88 419.41,1093.58 419.58,1096.77 419.75,1080.19 419.92,1105.24 420.09,1095.58 420.26,1095.22 420.43,1084.96 420.60,1110.75 420.77,1124.70 420.94,1087.89 421.11,1093.83 421.28,1098.66 421.45,1107.36 421.62,1107.92 421.79,1094.94 421.96,1095.85 422.13,1087.44 422.30,1091.72 422.47,1095.90 422.64,1111.44 422.81,1092.03 422.98,1096.84 423.15,1059.74 423.32,1073.86 423.49,1091.00 423.66,1123.42 423.83,1115.40 424.00,1102.20 424.17,1101.25 424.34,1101.03 424.51,1106.74 424.68,1088.75 424.85,1116.42 425.02,1103.86 425.19,1094.60 425.36,1094.07 425.53,1111.44 425.70,1111.22 425.87,1120.29 426.04,1090.19 426.21,1095.32 426.38,1115.76 426.55,1086.20 426.72,1112.63 426.89,1109.17 427.06,1117.53 427.23,1123.78 427.40,1103.67 427.57,1113.37 427.74,1119.81 427.91,1114.42 428.08,1095.92 428.25,1091.40 428.42,1114.61 428.59,1120.05 428.76,1107.73 428.93,1098.80 429.10,1066.48 429.27,1119.86 429.44,1079.33 429.61,1099.03 429.78,1121.28 429.95,1086.27 430.12,1090.73 430.29,1147.12 430.46,1097.55 430.63,1104.44 430.80,1151.40 430.97,1115.84 431.14,1089.16 431.31,1098.90 431.48,1110.83 431.65,1112.28 431.82,1111.85 431.99,1092.94 432.16,1100.38 432.33,1120.25 432.50,1086.55 432.67,1106.70 432.84,1098.31 433.01,1103.38 433.18,1114.50 433.35,1102.69 433.52,1107.09 433.69,1098.01 433.86,1111.34 434.03,1125.05 434.20,1109.41 434.37,1077.78 434.54,1122.08 434.71,1100.31 434.88,1103.57 435.05,1082.64 435.22,1089.43 435.39,1097.40 435.56,1067.50 435.73,1111.86 435.90,1097.64 436.07,1126.90 436.24,1117.82 436.41,1115.05 436.58,1128.04 436.75,1110.28 436.92,1088.95 437.09,1100.78 437.26,1087.77 437.43,1086.73 437.60,1104.07 437.77,1103.03 437.94,1099.74 438.11,1083.45 438.28,1096.67 438.45,1112.31 438.62,1105.74 438.79,1103.50 438.96,1101.73 439.13,1100.03 439.30,1116.69 439.47,1098.88 439.64,1107.69 439.81,1098.64 439.98,1112.82 440.15,1121.95 440.32,1097.62 440.49,1071.76 440.66,1115.46 440.83,1103.84 441.00,1118.42 441.17,1090.75 441.34,1068.82 441.51,1113.35 441.68,1076.20 441.85,1114.60 442.02,1099.80 442.19,1076.46 442.36,1139.29 442.53,1130.19 442.70,1097.89 442.87,1130.88 443.04,1105.53 443.21,1132.95 443.38,1097.90 443.55,1108.07 443.72,1115.57 443.89,1100.17 444.06,1126.21 444.23,1113.32 444.40,1081.97 444.57,1119.82 444.74,1092.90 444.91,1085.35 445.08,1081.81 445.25,1087.34 445.42,1095.12 445.59,1098.43 445.76,1095.93 445.93,1098.00 446.10,1089.40 446.27,1099.75 446.44,1085.46 446.61,1096.08 446.78,1106.65 446.95,1114.70 447.12,1118.88 447.29,1095.27 447.46,1070.72 447.63,1095.70 447.80,1120.80 447.97,1066.45 448.14,1108.49 448.31,1105.82 448.48,1115.96 448.65,1075.36 448.82,1110.85 448.99,1098.00 449.16,1112.71 449.33,1111.57 449.50,1106.40 449.67,1060.61 449.84,1096.17 450.01,1118.88 450.18,1106.54 450.35,1100.08 450.52,1114.17 450.69,1091.74 450.86,1102.84 451.03,1102.71 451.20,1090.92 451.37,1096.27 451.54,1094.86 451.71,1083.81 451.88,1094.05 452.05,1075.89 452.22,1099.56 452.39,1089.45 452.56,1105.97 452.73,1085.42 452.90,1081.73 453.07,1094.15 453.24,1077.02 453.41,1093.20 453.58,1116.01 453.75,1073.09 453.92,1070.98 454.09,1082.69 454.26,1112.01 454.43,1101.27 454.60,1097.08 454.77,1082.21 454.94,1102.68 455.11,1112.95 455.28,1108.83 455.45,1110.73 455.62,1093.85 455.79,1097.54 455.96,1078.90 456.13,1107.10 456.30,1107.32 456.47,1092.03 456.64,1087.19 456.81,1088.45 456.98,1104.62 457.15,1092.67 457.32,1103.34 457.49,1125.48 457.66,1099.53 457.83,1096.66 458.00,1099.78 458.17,1101.55 458.34,1135.69 458.51,1101.49 458.68,1107.04 458.85,1101.92 459.02,1105.56 459.19,1092.72 459.36,1120.47 459.53,1099.05 459.70,1073.62 459.87,1096.68 460.04,1085.34 460.21,1091.59 460.38,1120.03 460.55,1093.79 460.72,1092.49 460.89,1093.02 461.06,1109.67 461.23,1109.73 461.40,1107.20 461.57,1072.30 461.74,1075.85 461.91,1091.38 462.08,1097.06 462.25,1070.60 462.42,1102.62 462.59,1109.78 462.76,1121.15 462.93,1105.60 463.10,1089.78 463.27,1109.26 463.44,1073.98 463.61,1081.66 463.78,1099.91 463.95,1123.55 464.12,1101.96 464.29,1088.45 464.46,1082.68 464.63,1096.46 464.80,1104.09 464.97,1096.29 465.14,1106.38 465.31,1043.56 465.48,1083.92 465.65,1077.22 465.82,1082.84 465.99,1088.74 466.16,1054.56 466.33,1072.91 466.50,1082.12 466.67,1054.82 466.84,1101.04 467.01,1079.54 467.18,1061.12 467.35,1072.37 467.52,1070.21 467.69,1080.95 467.86,1081.83 468.03,1068.76 468.20,1048.06 468.37,1046.51 468.54,1052.80 468.71,1060.05 468.88,1055.45 469.05,1102.56 469.22,1094.99 469.39,1097.20 469.56,1084.07 469.73,1091.51 469.90,1102.39 470.07,1117.26 470.24,1088.75 470.41,1105.28 470.58,1079.75 470.75,1111.72 470.92,1091.27 471.09,1080.36 471.26,1092.74 471.43,1088.74 471.60,1093.55 471.77,1099.09 471.94,1071.78 472.11,1082.33 472.28,1119.35 472.45,1109.67 472.62,1120.72 472.79,1115.53 472.96,1104.09 473.13,1110.80 473.30,1099.00 473.47,1083.45 473.64,1097.54 473.81,1099.04 473.98,1074.01 474.15,1083.88 474.32,1104.25 474.49,1096.23 474.66,1091.73 474.83,1103.25 475.00,1082.64 475.17,1111.86 475.34,1091.31 475.51,1087.16 475.68,1088.58 475.85,1088.36 476.02,1088.93 476.19,1069.81 476.36,1090.69 476.53,1065.17 476.70,1084.46 476.87,1066.03 477.04,1084.95 477.21,1079.58 477.38,1084.88 477.55,1090.58 477.72,1100.79 477.89,1091.83 478.06,1071.41 478.23,1103.57 478.40,1099.28 478.57,1093.82 478.74,1077.48 478.91,1071.89 479.08,1080.92 479.25,1075.31 479.42,1099.08 479.59,1069.82 479.76,1095.49 479.93,1088.57 480.10,1077.53 480.27,1083.40 480.44,1094.85 480.61,1091.44 480.78,1071.97 480.95,1086.66 481.12,1076.32 481.29,1081.97 481.46,1060.59 481.63,1097.09 481.80,1082.14 481.97,1088.19 482.14,1086.54 482.31,1071.19 482.48,1096.77 482.65,1085.92 482.82,1096.45 482.99,1099.05 483.16,1049.68 483.33,1064.46 483.50,1080.44 483.67,1076.75 483.84,1074.47 484.01,1039.32 484.18,1061.52 484.35,1055.12 484.52,1081.74 484.60,1040.50 484.69,1059.57 484.86,1079.92 485.03,1063.57 485.20,1054.02 485.37,1069.65 485.54,1054.83 485.71,1075.42 485.88,1080.05 486.05,1110.24 486.22,1074.45 486.39,1094.82 486.56,1098.07 486.73,1114.89 486.90,1088.71 487.07,1059.33 487.24,1092.14 487.41,1104.68 487.58,1124.31 487.75,1066.55 487.92,1081.68 488.09,1075.45 488.26,1076.90 488.43,1092.93 488.60,1088.95 488.77,1088.80 488.94,1077.62 489.11,1066.50 489.28,1093.33 489.45,1067.53 489.62,1076.68 489.79,1094.80 489.96,1081.39 490.13,1081.80 490.30,1106.68 490.47,1107.06 490.64,1096.56 490.81,1089.77 490.98,1076.03 491.15,1065.51 491.32,1127.11 491.49,1115.29 491.66,1080.44 491.83,1066.73 492.00,1093.49 492.17,1089.38 492.34,1080.82 492.51,1103.90 492.68,1086.27 492.85,1086.07 493.02,1106.34 493.19,1072.66 493.36,1120.45 493.53,1110.31 493.70,1076.47 493.87,1101.42 494.04,1081.57 494.21,1092.01 494.38,1091.94 494.55,1095.49 494.72,1087.72 494.89,1109.81 495.06,1083.21 495.23,1103.18 495.40,1087.14 495.57,1088.47 495.74,1078.74 495.91,1075.91 496.08,1106.22 496.25,1094.06 496.42,1097.28 496.59,1089.46 496.76,1099.09 496.93,1110.89 497.10,1096.43 497.27,1090.60 497.44,1081.42 497.61,1072.41 497.78,1061.67 497.95,1079.65 498.12,1067.99 498.29,1079.20 498.46,1084.50 498.63,1086.70 498.80,1065.40 498.97,1084.37 499.14,1104.16 499.31,1073.90 499.48,1096.10 499.65,1082.63 499.82,1072.77 499.99,1113.12 500.16,1082.39 500.33,1062.83 500.50,1092.24 500.67,1081.58 500.84,1060.39 501.01,1102.05 501.18,1065.53 501.35,1062.24 501.52,1068.54 501.69,1047.21 501.86,1091.24 502.03,1048.48 502.20,1059.73 502.37,1073.83 502.54,1074.50 502.71,1072.66 502.88,1084.07 503.05,1098.59 503.22,1071.83 503.39,1071.00 503.56,1078.94 503.73,1110.89 503.90,1087.20 504.07,1094.15 504.24,1086.83 504.41,1086.11 504.58,1081.31 504.75,1076.43 504.92,1120.85 505.09,1087.45 505.26,1086.98 505.43,1099.19 505.60,1089.72 505.77,1053.60 505.94,1116.56 506.11,1101.46 506.28,1081.50 506.45,1097.52 506.62,1082.21 506.79,1066.72 506.96,1082.71 507.13,1099.46 507.30,1112.95 507.47,1069.99 507.64,1077.04 507.81,1074.34 507.98,1079.52 508.15,1089.69 508.32,1097.19 508.49,1083.40 508.66,1075.44 508.83,1092.43 509.00,1088.07 509.17,1084.66 509.34,1074.78 509.51,1074.76 509.68,1065.27 509.85,1063.33 510.02,1099.96 510.19,1076.67 510.36,1082.58 510.53,1093.59 510.70,1100.16 510.87,1072.81 511.04,1071.51 511.21,1077.08 511.38,1075.01 511.55,1082.96 511.72,1083.39 511.89,1096.91 512.06,1091.92 512.23,1090.61 512.40,1046.13 512.57,1072.47 512.74,1077.11 512.91,1076.96 513.08,1120.11 513.25,1090.10 513.42,1056.97 513.59,1093.12 513.76,1104.81 513.93,1106.56 514.10,1086.85 514.27,1091.69 514.44,1085.46 514.61,1099.27 514.78,1057.11 514.95,1091.66 515.12,1059.06 515.29,1078.05 515.46,1099.31 515.63,1078.17 515.80,1098.92 515.97,1073.29 516.14,1089.24 516.31,1067.13 516.48,1070.51 516.65,1057.11 516.82,1095.10 516.99,1094.30 517.16,1069.17 517.33,1078.17 517.50,1094.58 517.67,1078.44 517.84,1055.85 518.01,1096.94 518.18,1064.80 518.35,1081.68 518.52,1061.65 518.69,1060.40 518.86,1071.30 519.03,1058.08 519.20,1070.91 519.37,1094.40 519.54,1066.17 519.71,1067.78 519.88,1064.27 520.05,1073.86 520.22,1092.88 520.39,1073.87 520.56,1094.79 520.73,1080.31 520.90,1089.02 521.07,1078.72 521.24,1094.64 521.41,1062.29 521.58,1096.40 521.75,1084.06 521.92,1088.57 522.09,1119.02 522.26,1084.56 522.43,1081.56 522.60,1076.58 522.77,1083.96 522.94,1074.20 523.11,1090.89 523.28,1073.42 523.45,1077.40 523.62,1068.75 523.79,1076.09 523.96,1089.04 524.13,1096.46 524.30,1088.08 524.47,1091.84 524.64,1099.26 524.81,1115.87 524.98,1084.59 525.15,1070.80 525.32,1076.11 525.49,1075.68 525.66,1101.91 525.83,1092.24 526.00,1103.43 526.17,1091.49 526.34,1081.76 526.51,1106.30 526.68,1090.16 526.85,1085.96 527.02,1096.43 527.19,1071.32 527.36,1105.17 527.53,1069.96 527.70,1092.27 527.87,1090.97 528.04,1107.68" fill="none" stroke="#000" stroke-width="0.6" stroke-linejoin="round" opacity="1.0"/>
<polyline points="522.0,1095 522.0,1113.3 528.0,1113.3" fill="none" stroke="#000" stroke-width="0.9"/>
<polyline points="222.4,1062 222.4,1039.1 226.3,1039.1" fill="none" stroke="#000" stroke-width="0.8"/>
</svg>
</body></html>
